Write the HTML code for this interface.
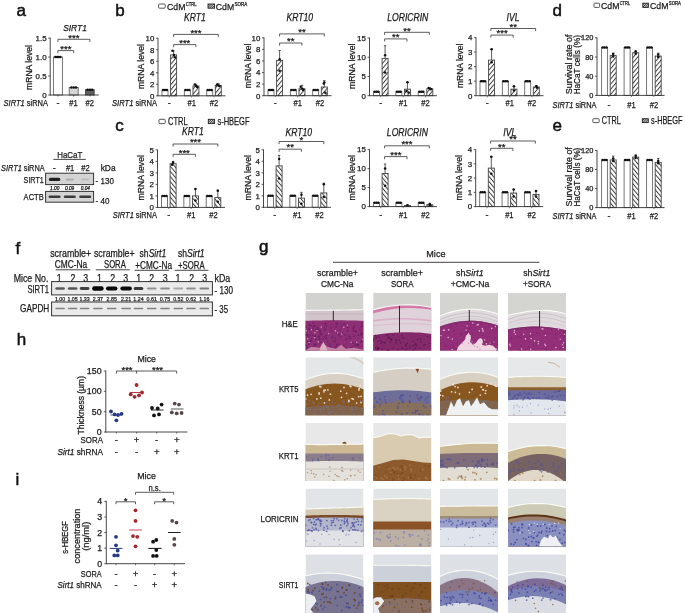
<!DOCTYPE html>
<html><head><meta charset="utf-8"><title>Figure</title>
<style>html,body{margin:0;padding:0;background:#fff;} svg{display:block;} text{font-family:'Liberation Sans', Arial, sans-serif;}</style>
</head><body>
<svg width="685" height="613" viewBox="0 0 685 613">
<rect width="685" height="613" fill="#fff"/>
<defs>
<pattern id="hf" patternUnits="userSpaceOnUse" width="3.3" height="3.3" patternTransform="rotate(40)"><rect width="3.3" height="3.3" fill="#fff"/><line x1="0.5" y1="-1" x2="0.5" y2="5" stroke="#222" stroke-width="0.85"/></pattern>
<pattern id="hb" patternUnits="userSpaceOnUse" width="3.3" height="3.3" patternTransform="rotate(-40)"><rect width="3.3" height="3.3" fill="#fff"/><line x1="0.5" y1="-1" x2="0.5" y2="5" stroke="#222" stroke-width="0.85"/></pattern>
<pattern id="hl" patternUnits="userSpaceOnUse" width="1.6" height="1.6" patternTransform="rotate(45)"><rect width="1.6" height="1.6" fill="#ddd"/><line x1="0.4" y1="-1" x2="0.4" y2="3" stroke="#222" stroke-width="0.7"/></pattern>
</defs>
<text x="16.5" y="15.6" font-size="17" fill="#111" stroke="#111" stroke-width="0.5">a</text>
<text x="115.3" y="15.6" font-size="17" fill="#111" stroke="#111" stroke-width="0.5">b</text>
<text x="115.3" y="131.0" font-size="17" fill="#111" stroke="#111" stroke-width="0.5">c</text>
<text x="552.4" y="15.6" font-size="17" fill="#111" stroke="#111" stroke-width="0.5">d</text>
<text x="552.4" y="131.2" font-size="17" fill="#111" stroke="#111" stroke-width="0.5">e</text>
<text x="15.6" y="253.8" font-size="17" fill="#111" stroke="#111" stroke-width="0.5">f</text>
<text x="259.0" y="251.5" font-size="17" fill="#111" stroke="#111" stroke-width="0.5">g</text>
<text x="16.8" y="345.3" font-size="17" fill="#111" stroke="#111" stroke-width="0.5">h</text>
<text x="15.6" y="485.4" font-size="17" fill="#111" stroke="#111" stroke-width="0.5">i</text>
<rect x="53.40" y="57.07" width="9.00" height="37.93" fill="#fff" stroke="#666" stroke-width="0.9"/>
<circle cx="55.40" cy="57.07" r="1.25" fill="#111"/>
<circle cx="57.10" cy="57.07" r="1.25" fill="#111"/>
<circle cx="58.70" cy="57.07" r="1.25" fill="#111"/>
<circle cx="60.40" cy="57.07" r="1.25" fill="#111"/>
<rect x="69.20" y="87.41" width="9.00" height="7.59" fill="#d6d6d6" stroke="#666" stroke-width="0.9"/>
<circle cx="71.40" cy="87.41" r="1.25" fill="#111"/>
<circle cx="73.70" cy="87.41" r="1.25" fill="#111"/>
<circle cx="76.00" cy="87.41" r="1.25" fill="#111"/>
<rect x="85.50" y="89.69" width="8.70" height="5.31" fill="#5e5e5e" stroke="#444" stroke-width="0.9"/>
<circle cx="87.55" cy="89.69" r="1.25" fill="#111"/>
<circle cx="89.85" cy="89.69" r="1.25" fill="#111"/>
<circle cx="92.15" cy="89.69" r="1.25" fill="#111"/>
<line x1="50.20" y1="37.70" x2="50.20" y2="95.40" stroke="#333" stroke-width="0.9"/>
<line x1="49.80" y1="95.00" x2="98.80" y2="95.00" stroke="#333" stroke-width="0.9"/>
<line x1="48.20" y1="95.00" x2="50.20" y2="95.00" stroke="#333" stroke-width="0.8"/>
<text x="46.60" y="97.84" font-size="7.9" text-anchor="end" fill="#1a1a1a" stroke="#1a1a1a" stroke-width="0.25">0</text>
<line x1="48.20" y1="76.03" x2="50.20" y2="76.03" stroke="#333" stroke-width="0.8"/>
<text x="46.60" y="78.88" font-size="7.9" text-anchor="end" fill="#1a1a1a" stroke="#1a1a1a" stroke-width="0.25">0.5</text>
<line x1="48.20" y1="57.07" x2="50.20" y2="57.07" stroke="#333" stroke-width="0.8"/>
<text x="46.60" y="59.91" font-size="7.9" text-anchor="end" fill="#1a1a1a" stroke="#1a1a1a" stroke-width="0.25">1.0</text>
<line x1="48.20" y1="38.10" x2="50.20" y2="38.10" stroke="#333" stroke-width="0.8"/>
<text x="46.60" y="40.94" font-size="7.9" text-anchor="end" fill="#1a1a1a" stroke="#1a1a1a" stroke-width="0.25">1.5</text>
<polyline points="57.90,41.90 57.90,39.30 89.90,39.30 89.90,41.90" fill="none" stroke="#333" stroke-width="0.8"/>
<text x="73.90" y="40.50" font-size="9.5" text-anchor="middle" fill="#1a1a1a" stroke="#1a1a1a" stroke-width="0.25">***</text>
<polyline points="57.90,53.20 57.90,50.60 73.70,50.60 73.70,53.20" fill="none" stroke="#333" stroke-width="0.8"/>
<text x="65.80" y="51.80" font-size="9.5" text-anchor="middle" fill="#1a1a1a" stroke="#1a1a1a" stroke-width="0.25">***</text>
<line x1="57.90" y1="95.00" x2="57.90" y2="96.60" stroke="#333" stroke-width="0.7"/>
<line x1="73.70" y1="95.00" x2="73.70" y2="96.60" stroke="#333" stroke-width="0.7"/>
<line x1="89.90" y1="95.00" x2="89.90" y2="96.60" stroke="#333" stroke-width="0.7"/>
<text x="75.00" y="31.00" font-size="9.8" text-anchor="middle" font-style="italic" textLength="23.73" lengthAdjust="spacingAndGlyphs" fill="#1a1a1a" stroke="#1a1a1a" stroke-width="0.25">SIRT1</text>
<text x="0" y="0" font-size="9" fill="#1a1a1a" stroke="#1a1a1a" stroke-width="0.25" textLength="45.00" lengthAdjust="spacingAndGlyphs" transform="translate(32.44 90.00) rotate(-90)">mRNA level</text>
<text x="3.60" y="106.44" font-size="9" fill="#1a1a1a" stroke="#1a1a1a" stroke-width="0.25" textLength="44.40" lengthAdjust="spacingAndGlyphs"><tspan font-style="italic">SIRT1</tspan> siRNA</text>
<text x="57.90" y="106.44" font-size="9" text-anchor="middle" fill="#1a1a1a" stroke="#1a1a1a" stroke-width="0.25">-</text>
<text x="73.50" y="106.44" font-size="9" text-anchor="middle" textLength="8.41" lengthAdjust="spacingAndGlyphs" fill="#1a1a1a" stroke="#1a1a1a" stroke-width="0.25">#1</text>
<text x="89.80" y="106.44" font-size="9" text-anchor="middle" textLength="8.41" lengthAdjust="spacingAndGlyphs" fill="#1a1a1a" stroke="#1a1a1a" stroke-width="0.25">#2</text>
<rect x="162.00" y="90.04" width="6.00" height="5.76" fill="#fff" stroke="#666" stroke-width="0.9"/>
<circle cx="163.10" cy="90.04" r="1.25" fill="#111"/>
<circle cx="165.00" cy="90.04" r="1.25" fill="#111"/>
<circle cx="166.90" cy="90.04" r="1.25" fill="#111"/>
<line x1="173.60" y1="54.90" x2="173.60" y2="50.87" stroke="#333" stroke-width="0.8"/>
<line x1="172.40" y1="50.87" x2="174.80" y2="50.87" stroke="#333" stroke-width="0.8"/>
<rect x="170.60" y="54.90" width="6.00" height="40.90" fill="url(#hf)" stroke="#444" stroke-width="0.9"/>
<circle cx="172.40" cy="50.81" r="1.25" fill="#111"/>
<circle cx="174.80" cy="57.36" r="1.25" fill="#111"/>
<circle cx="173.90" cy="54.90" r="1.25" fill="#111"/>
<rect x="184.35" y="90.04" width="6.00" height="5.76" fill="#fff" stroke="#666" stroke-width="0.9"/>
<circle cx="185.45" cy="90.04" r="1.25" fill="#111"/>
<circle cx="187.35" cy="90.04" r="1.25" fill="#111"/>
<circle cx="189.25" cy="90.04" r="1.25" fill="#111"/>
<line x1="195.95" y1="86.01" x2="195.95" y2="84.28" stroke="#333" stroke-width="0.8"/>
<line x1="194.75" y1="84.28" x2="197.15" y2="84.28" stroke="#333" stroke-width="0.8"/>
<rect x="192.95" y="86.01" width="6.00" height="9.79" fill="url(#hf)" stroke="#444" stroke-width="0.9"/>
<circle cx="194.75" cy="84.54" r="1.25" fill="#111"/>
<circle cx="197.15" cy="86.89" r="1.25" fill="#111"/>
<circle cx="196.25" cy="86.01" r="1.25" fill="#111"/>
<rect x="206.70" y="90.04" width="6.00" height="5.76" fill="#fff" stroke="#666" stroke-width="0.9"/>
<circle cx="207.80" cy="90.04" r="1.25" fill="#111"/>
<circle cx="209.70" cy="90.04" r="1.25" fill="#111"/>
<circle cx="211.60" cy="90.04" r="1.25" fill="#111"/>
<line x1="218.30" y1="85.43" x2="218.30" y2="83.70" stroke="#333" stroke-width="0.8"/>
<line x1="217.10" y1="83.70" x2="219.50" y2="83.70" stroke="#333" stroke-width="0.8"/>
<rect x="215.30" y="85.43" width="6.00" height="10.37" fill="url(#hf)" stroke="#444" stroke-width="0.9"/>
<circle cx="217.10" cy="84.40" r="1.25" fill="#111"/>
<circle cx="219.50" cy="86.05" r="1.25" fill="#111"/>
<circle cx="218.60" cy="85.43" r="1.25" fill="#111"/>
<line x1="158.00" y1="37.80" x2="158.00" y2="96.20" stroke="#333" stroke-width="0.9"/>
<line x1="157.60" y1="95.80" x2="225.50" y2="95.80" stroke="#333" stroke-width="0.9"/>
<line x1="156.00" y1="95.80" x2="158.00" y2="95.80" stroke="#333" stroke-width="0.8"/>
<text x="154.40" y="98.64" font-size="7.9" text-anchor="end" fill="#1a1a1a" stroke="#1a1a1a" stroke-width="0.25">0</text>
<line x1="156.00" y1="84.28" x2="158.00" y2="84.28" stroke="#333" stroke-width="0.8"/>
<text x="154.40" y="87.12" font-size="7.9" text-anchor="end" fill="#1a1a1a" stroke="#1a1a1a" stroke-width="0.25">2</text>
<line x1="156.00" y1="72.76" x2="158.00" y2="72.76" stroke="#333" stroke-width="0.8"/>
<text x="154.40" y="75.60" font-size="7.9" text-anchor="end" fill="#1a1a1a" stroke="#1a1a1a" stroke-width="0.25">4</text>
<line x1="156.00" y1="61.24" x2="158.00" y2="61.24" stroke="#333" stroke-width="0.8"/>
<text x="154.40" y="64.08" font-size="7.9" text-anchor="end" fill="#1a1a1a" stroke="#1a1a1a" stroke-width="0.25">6</text>
<line x1="156.00" y1="49.72" x2="158.00" y2="49.72" stroke="#333" stroke-width="0.8"/>
<text x="154.40" y="52.56" font-size="7.9" text-anchor="end" fill="#1a1a1a" stroke="#1a1a1a" stroke-width="0.25">8</text>
<line x1="156.00" y1="38.20" x2="158.00" y2="38.20" stroke="#333" stroke-width="0.8"/>
<text x="154.40" y="41.04" font-size="7.9" text-anchor="end" fill="#1a1a1a" stroke="#1a1a1a" stroke-width="0.25">10</text>
<polyline points="173.60,37.00 173.60,34.40 218.30,34.40 218.30,37.00" fill="none" stroke="#333" stroke-width="0.8"/>
<text x="195.95" y="35.60" font-size="9.5" text-anchor="middle" fill="#1a1a1a" stroke="#1a1a1a" stroke-width="0.25">***</text>
<polyline points="173.60,47.20 173.60,44.60 195.90,44.60 195.90,47.20" fill="none" stroke="#333" stroke-width="0.8"/>
<text x="184.75" y="45.80" font-size="9.5" text-anchor="middle" fill="#1a1a1a" stroke="#1a1a1a" stroke-width="0.25">***</text>
<line x1="169.30" y1="95.80" x2="169.30" y2="97.40" stroke="#333" stroke-width="0.7"/>
<line x1="191.65" y1="95.80" x2="191.65" y2="97.40" stroke="#333" stroke-width="0.7"/>
<line x1="214.00" y1="95.80" x2="214.00" y2="97.40" stroke="#333" stroke-width="0.7"/>
<text x="195.00" y="20.90" font-size="10.0" text-anchor="middle" font-style="italic" textLength="21.83" lengthAdjust="spacingAndGlyphs" fill="#1a1a1a" stroke="#1a1a1a" stroke-width="0.25">KRT1</text>
<text x="0" y="0" font-size="9" fill="#1a1a1a" stroke="#1a1a1a" stroke-width="0.25" textLength="45.10" lengthAdjust="spacingAndGlyphs" transform="translate(143.54 89.10) rotate(-90)">mRNA level</text>
<text x="169.30" y="106.34" font-size="9" text-anchor="middle" fill="#1a1a1a" stroke="#1a1a1a" stroke-width="0.25">-</text>
<text x="191.65" y="106.34" font-size="9" text-anchor="middle" textLength="8.41" lengthAdjust="spacingAndGlyphs" fill="#1a1a1a" stroke="#1a1a1a" stroke-width="0.25">#1</text>
<text x="214.00" y="106.34" font-size="9" text-anchor="middle" textLength="8.41" lengthAdjust="spacingAndGlyphs" fill="#1a1a1a" stroke="#1a1a1a" stroke-width="0.25">#2</text>
<rect x="268.00" y="89.91" width="6.00" height="5.79" fill="#fff" stroke="#666" stroke-width="0.9"/>
<circle cx="269.10" cy="89.91" r="1.25" fill="#111"/>
<circle cx="271.00" cy="89.91" r="1.25" fill="#111"/>
<circle cx="272.90" cy="89.91" r="1.25" fill="#111"/>
<line x1="279.60" y1="60.38" x2="279.60" y2="50.54" stroke="#333" stroke-width="0.8"/>
<line x1="278.40" y1="50.54" x2="280.80" y2="50.54" stroke="#333" stroke-width="0.8"/>
<rect x="276.60" y="60.38" width="6.00" height="35.32" fill="url(#hf)" stroke="#444" stroke-width="0.9"/>
<circle cx="279.60" cy="59.22" r="1.25" fill="#111"/>
<circle cx="279.60" cy="70.80" r="1.25" fill="#111"/>
<rect x="290.35" y="89.91" width="6.00" height="5.79" fill="#fff" stroke="#666" stroke-width="0.9"/>
<circle cx="291.45" cy="89.91" r="1.25" fill="#111"/>
<circle cx="293.35" cy="89.91" r="1.25" fill="#111"/>
<circle cx="295.25" cy="89.91" r="1.25" fill="#111"/>
<line x1="301.95" y1="88.75" x2="301.95" y2="85.28" stroke="#333" stroke-width="0.8"/>
<line x1="300.75" y1="85.28" x2="303.15" y2="85.28" stroke="#333" stroke-width="0.8"/>
<rect x="298.95" y="88.75" width="6.00" height="6.95" fill="url(#hf)" stroke="#444" stroke-width="0.9"/>
<circle cx="300.75" cy="86.67" r="1.25" fill="#111"/>
<circle cx="303.15" cy="90.00" r="1.25" fill="#111"/>
<circle cx="302.25" cy="88.75" r="1.25" fill="#111"/>
<rect x="312.70" y="89.91" width="6.00" height="5.79" fill="#fff" stroke="#666" stroke-width="0.9"/>
<circle cx="313.80" cy="89.91" r="1.25" fill="#111"/>
<circle cx="315.70" cy="89.91" r="1.25" fill="#111"/>
<circle cx="317.60" cy="89.91" r="1.25" fill="#111"/>
<line x1="324.30" y1="87.02" x2="324.30" y2="80.65" stroke="#333" stroke-width="0.8"/>
<line x1="323.10" y1="80.65" x2="325.50" y2="80.65" stroke="#333" stroke-width="0.8"/>
<rect x="321.30" y="87.02" width="6.00" height="8.69" fill="url(#hf)" stroke="#444" stroke-width="0.9"/>
<circle cx="324.30" cy="82.38" r="1.25" fill="#111"/>
<circle cx="323.80" cy="83.54" r="1.25" fill="#111"/>
<circle cx="325.30" cy="92.81" r="1.25" fill="#111"/>
<line x1="264.00" y1="37.40" x2="264.00" y2="96.10" stroke="#333" stroke-width="0.9"/>
<line x1="263.60" y1="95.70" x2="331.50" y2="95.70" stroke="#333" stroke-width="0.9"/>
<line x1="262.00" y1="95.70" x2="264.00" y2="95.70" stroke="#333" stroke-width="0.8"/>
<text x="260.40" y="98.54" font-size="7.9" text-anchor="end" fill="#1a1a1a" stroke="#1a1a1a" stroke-width="0.25">0</text>
<line x1="262.00" y1="84.12" x2="264.00" y2="84.12" stroke="#333" stroke-width="0.8"/>
<text x="260.40" y="86.96" font-size="7.9" text-anchor="end" fill="#1a1a1a" stroke="#1a1a1a" stroke-width="0.25">2</text>
<line x1="262.00" y1="72.54" x2="264.00" y2="72.54" stroke="#333" stroke-width="0.8"/>
<text x="260.40" y="75.38" font-size="7.9" text-anchor="end" fill="#1a1a1a" stroke="#1a1a1a" stroke-width="0.25">4</text>
<line x1="262.00" y1="60.96" x2="264.00" y2="60.96" stroke="#333" stroke-width="0.8"/>
<text x="260.40" y="63.80" font-size="7.9" text-anchor="end" fill="#1a1a1a" stroke="#1a1a1a" stroke-width="0.25">6</text>
<line x1="262.00" y1="49.38" x2="264.00" y2="49.38" stroke="#333" stroke-width="0.8"/>
<text x="260.40" y="52.22" font-size="7.9" text-anchor="end" fill="#1a1a1a" stroke="#1a1a1a" stroke-width="0.25">8</text>
<line x1="262.00" y1="37.80" x2="264.00" y2="37.80" stroke="#333" stroke-width="0.8"/>
<text x="260.40" y="40.64" font-size="7.9" text-anchor="end" fill="#1a1a1a" stroke="#1a1a1a" stroke-width="0.25">10</text>
<polyline points="279.60,36.50 279.60,33.90 324.30,33.90 324.30,36.50" fill="none" stroke="#333" stroke-width="0.8"/>
<text x="301.95" y="35.10" font-size="9.5" text-anchor="middle" fill="#1a1a1a" stroke="#1a1a1a" stroke-width="0.25">**</text>
<polyline points="279.60,45.60 279.60,43.00 301.90,43.00 301.90,45.60" fill="none" stroke="#333" stroke-width="0.8"/>
<text x="290.75" y="44.20" font-size="9.5" text-anchor="middle" fill="#1a1a1a" stroke="#1a1a1a" stroke-width="0.25">**</text>
<line x1="275.30" y1="95.70" x2="275.30" y2="97.30" stroke="#333" stroke-width="0.7"/>
<line x1="297.65" y1="95.70" x2="297.65" y2="97.30" stroke="#333" stroke-width="0.7"/>
<line x1="320.00" y1="95.70" x2="320.00" y2="97.30" stroke="#333" stroke-width="0.7"/>
<text x="299.70" y="20.90" font-size="10.0" text-anchor="middle" font-style="italic" textLength="26.61" lengthAdjust="spacingAndGlyphs" fill="#1a1a1a" stroke="#1a1a1a" stroke-width="0.25">KRT10</text>
<text x="0" y="0" font-size="9" fill="#1a1a1a" stroke="#1a1a1a" stroke-width="0.25" textLength="44.60" lengthAdjust="spacingAndGlyphs" transform="translate(251.44 88.20) rotate(-90)">mRNA level</text>
<text x="275.30" y="106.34" font-size="9" text-anchor="middle" fill="#1a1a1a" stroke="#1a1a1a" stroke-width="0.25">-</text>
<text x="297.65" y="106.34" font-size="9" text-anchor="middle" textLength="8.41" lengthAdjust="spacingAndGlyphs" fill="#1a1a1a" stroke="#1a1a1a" stroke-width="0.25">#1</text>
<text x="320.00" y="106.34" font-size="9" text-anchor="middle" textLength="8.41" lengthAdjust="spacingAndGlyphs" fill="#1a1a1a" stroke="#1a1a1a" stroke-width="0.25">#2</text>
<rect x="373.50" y="91.85" width="6.00" height="3.85" fill="#fff" stroke="#666" stroke-width="0.9"/>
<circle cx="374.60" cy="91.85" r="1.25" fill="#111"/>
<circle cx="376.50" cy="91.85" r="1.25" fill="#111"/>
<circle cx="378.40" cy="91.85" r="1.25" fill="#111"/>
<line x1="385.10" y1="58.39" x2="385.10" y2="45.69" stroke="#333" stroke-width="0.8"/>
<line x1="383.90" y1="45.69" x2="386.30" y2="45.69" stroke="#333" stroke-width="0.8"/>
<rect x="382.10" y="58.39" width="6.00" height="37.31" fill="url(#hf)" stroke="#444" stroke-width="0.9"/>
<circle cx="385.10" cy="55.31" r="1.25" fill="#111"/>
<circle cx="385.10" cy="72.62" r="1.25" fill="#111"/>
<rect x="395.85" y="91.85" width="6.00" height="3.85" fill="#fff" stroke="#666" stroke-width="0.9"/>
<circle cx="396.95" cy="91.85" r="1.25" fill="#111"/>
<circle cx="398.85" cy="91.85" r="1.25" fill="#111"/>
<circle cx="400.75" cy="91.85" r="1.25" fill="#111"/>
<line x1="407.45" y1="89.16" x2="407.45" y2="82.24" stroke="#333" stroke-width="0.8"/>
<line x1="406.25" y1="82.24" x2="408.65" y2="82.24" stroke="#333" stroke-width="0.8"/>
<rect x="404.45" y="89.16" width="6.00" height="6.54" fill="url(#hf)" stroke="#444" stroke-width="0.9"/>
<circle cx="407.45" cy="82.24" r="1.25" fill="#111"/>
<circle cx="406.45" cy="91.08" r="1.25" fill="#111"/>
<circle cx="408.45" cy="92.62" r="1.25" fill="#111"/>
<rect x="418.20" y="91.85" width="6.00" height="3.85" fill="#fff" stroke="#666" stroke-width="0.9"/>
<circle cx="419.30" cy="91.85" r="1.25" fill="#111"/>
<circle cx="421.20" cy="91.85" r="1.25" fill="#111"/>
<circle cx="423.10" cy="91.85" r="1.25" fill="#111"/>
<line x1="429.80" y1="88.78" x2="429.80" y2="88.01" stroke="#333" stroke-width="0.8"/>
<line x1="428.60" y1="88.01" x2="431.00" y2="88.01" stroke="#333" stroke-width="0.8"/>
<rect x="426.80" y="88.78" width="6.00" height="6.92" fill="url(#hf)" stroke="#444" stroke-width="0.9"/>
<circle cx="428.60" cy="88.08" r="1.25" fill="#111"/>
<circle cx="431.00" cy="89.19" r="1.25" fill="#111"/>
<circle cx="430.10" cy="88.78" r="1.25" fill="#111"/>
<line x1="369.50" y1="37.60" x2="369.50" y2="96.10" stroke="#333" stroke-width="0.9"/>
<line x1="369.10" y1="95.70" x2="437.00" y2="95.70" stroke="#333" stroke-width="0.9"/>
<line x1="367.50" y1="95.70" x2="369.50" y2="95.70" stroke="#333" stroke-width="0.8"/>
<text x="365.90" y="98.54" font-size="7.9" text-anchor="end" fill="#1a1a1a" stroke="#1a1a1a" stroke-width="0.25">0</text>
<line x1="367.50" y1="76.47" x2="369.50" y2="76.47" stroke="#333" stroke-width="0.8"/>
<text x="365.90" y="79.31" font-size="7.9" text-anchor="end" fill="#1a1a1a" stroke="#1a1a1a" stroke-width="0.25">5</text>
<line x1="367.50" y1="57.23" x2="369.50" y2="57.23" stroke="#333" stroke-width="0.8"/>
<text x="365.90" y="60.08" font-size="7.9" text-anchor="end" fill="#1a1a1a" stroke="#1a1a1a" stroke-width="0.25">10</text>
<line x1="367.50" y1="38.00" x2="369.50" y2="38.00" stroke="#333" stroke-width="0.8"/>
<text x="365.90" y="40.84" font-size="7.9" text-anchor="end" fill="#1a1a1a" stroke="#1a1a1a" stroke-width="0.25">15</text>
<polyline points="384.60,34.90 384.60,32.30 429.30,32.30 429.30,34.90" fill="none" stroke="#333" stroke-width="0.8"/>
<text x="406.95" y="33.50" font-size="9.5" text-anchor="middle" fill="#1a1a1a" stroke="#1a1a1a" stroke-width="0.25">**</text>
<polyline points="384.60,41.50 384.60,38.90 407.00,38.90 407.00,41.50" fill="none" stroke="#333" stroke-width="0.8"/>
<text x="395.80" y="40.10" font-size="9.5" text-anchor="middle" fill="#1a1a1a" stroke="#1a1a1a" stroke-width="0.25">**</text>
<line x1="380.80" y1="95.70" x2="380.80" y2="97.30" stroke="#333" stroke-width="0.7"/>
<line x1="403.15" y1="95.70" x2="403.15" y2="97.30" stroke="#333" stroke-width="0.7"/>
<line x1="425.50" y1="95.70" x2="425.50" y2="97.30" stroke="#333" stroke-width="0.7"/>
<text x="407.80" y="20.80" font-size="10.0" text-anchor="middle" font-style="italic" textLength="41.09" lengthAdjust="spacingAndGlyphs" fill="#1a1a1a" stroke="#1a1a1a" stroke-width="0.25">LORICRIN</text>
<text x="0" y="0" font-size="9" fill="#1a1a1a" stroke="#1a1a1a" stroke-width="0.25" textLength="45.40" lengthAdjust="spacingAndGlyphs" transform="translate(354.74 89.00) rotate(-90)">mRNA level</text>
<text x="380.80" y="106.34" font-size="9" text-anchor="middle" fill="#1a1a1a" stroke="#1a1a1a" stroke-width="0.25">-</text>
<text x="403.15" y="106.34" font-size="9" text-anchor="middle" textLength="8.41" lengthAdjust="spacingAndGlyphs" fill="#1a1a1a" stroke="#1a1a1a" stroke-width="0.25">#1</text>
<text x="425.50" y="106.34" font-size="9" text-anchor="middle" textLength="8.41" lengthAdjust="spacingAndGlyphs" fill="#1a1a1a" stroke="#1a1a1a" stroke-width="0.25">#2</text>
<rect x="480.00" y="81.17" width="6.00" height="14.53" fill="#fff" stroke="#666" stroke-width="0.9"/>
<circle cx="481.10" cy="81.17" r="1.25" fill="#111"/>
<circle cx="483.00" cy="81.17" r="1.25" fill="#111"/>
<circle cx="484.90" cy="81.17" r="1.25" fill="#111"/>
<line x1="491.60" y1="60.11" x2="491.60" y2="49.22" stroke="#333" stroke-width="0.8"/>
<line x1="490.40" y1="49.22" x2="492.80" y2="49.22" stroke="#333" stroke-width="0.8"/>
<rect x="488.60" y="60.11" width="6.00" height="35.59" fill="url(#hf)" stroke="#444" stroke-width="0.9"/>
<circle cx="491.60" cy="49.22" r="1.25" fill="#111"/>
<circle cx="491.60" cy="62.29" r="1.25" fill="#111"/>
<rect x="502.35" y="81.17" width="6.00" height="14.53" fill="#fff" stroke="#666" stroke-width="0.9"/>
<circle cx="503.45" cy="81.17" r="1.25" fill="#111"/>
<circle cx="505.35" cy="81.17" r="1.25" fill="#111"/>
<circle cx="507.25" cy="81.17" r="1.25" fill="#111"/>
<line x1="513.95" y1="89.16" x2="513.95" y2="86.26" stroke="#333" stroke-width="0.8"/>
<line x1="512.75" y1="86.26" x2="515.15" y2="86.26" stroke="#333" stroke-width="0.8"/>
<rect x="510.95" y="89.16" width="6.00" height="6.54" fill="url(#hf)" stroke="#444" stroke-width="0.9"/>
<circle cx="513.95" cy="86.26" r="1.25" fill="#111"/>
<circle cx="513.95" cy="90.62" r="1.25" fill="#111"/>
<rect x="524.70" y="81.17" width="6.00" height="14.53" fill="#fff" stroke="#666" stroke-width="0.9"/>
<circle cx="525.80" cy="81.17" r="1.25" fill="#111"/>
<circle cx="527.70" cy="81.17" r="1.25" fill="#111"/>
<circle cx="529.60" cy="81.17" r="1.25" fill="#111"/>
<line x1="536.30" y1="86.98" x2="536.30" y2="85.53" stroke="#333" stroke-width="0.8"/>
<line x1="535.10" y1="85.53" x2="537.50" y2="85.53" stroke="#333" stroke-width="0.8"/>
<rect x="533.30" y="86.98" width="6.00" height="8.72" fill="url(#hf)" stroke="#444" stroke-width="0.9"/>
<circle cx="536.30" cy="86.26" r="1.25" fill="#111"/>
<circle cx="537.10" cy="87.71" r="1.25" fill="#111"/>
<line x1="476.00" y1="37.20" x2="476.00" y2="96.10" stroke="#333" stroke-width="0.9"/>
<line x1="475.60" y1="95.70" x2="543.50" y2="95.70" stroke="#333" stroke-width="0.9"/>
<line x1="474.00" y1="95.70" x2="476.00" y2="95.70" stroke="#333" stroke-width="0.8"/>
<text x="472.40" y="98.54" font-size="7.9" text-anchor="end" fill="#1a1a1a" stroke="#1a1a1a" stroke-width="0.25">0</text>
<line x1="474.00" y1="81.17" x2="476.00" y2="81.17" stroke="#333" stroke-width="0.8"/>
<text x="472.40" y="84.02" font-size="7.9" text-anchor="end" fill="#1a1a1a" stroke="#1a1a1a" stroke-width="0.25">1</text>
<line x1="474.00" y1="66.65" x2="476.00" y2="66.65" stroke="#333" stroke-width="0.8"/>
<text x="472.40" y="69.49" font-size="7.9" text-anchor="end" fill="#1a1a1a" stroke="#1a1a1a" stroke-width="0.25">2</text>
<line x1="474.00" y1="52.12" x2="476.00" y2="52.12" stroke="#333" stroke-width="0.8"/>
<text x="472.40" y="54.97" font-size="7.9" text-anchor="end" fill="#1a1a1a" stroke="#1a1a1a" stroke-width="0.25">3</text>
<line x1="474.00" y1="37.60" x2="476.00" y2="37.60" stroke="#333" stroke-width="0.8"/>
<text x="472.40" y="40.44" font-size="7.9" text-anchor="end" fill="#1a1a1a" stroke="#1a1a1a" stroke-width="0.25">4</text>
<polyline points="490.90,31.10 490.90,28.50 535.60,28.50 535.60,31.10" fill="none" stroke="#333" stroke-width="0.8"/>
<text x="513.25" y="29.70" font-size="9.5" text-anchor="middle" fill="#1a1a1a" stroke="#1a1a1a" stroke-width="0.25">**</text>
<polyline points="490.90,37.70 490.90,35.10 513.20,35.10 513.20,37.70" fill="none" stroke="#333" stroke-width="0.8"/>
<text x="502.05" y="36.30" font-size="9.5" text-anchor="middle" fill="#1a1a1a" stroke="#1a1a1a" stroke-width="0.25">***</text>
<line x1="487.30" y1="95.70" x2="487.30" y2="97.30" stroke="#333" stroke-width="0.7"/>
<line x1="509.65" y1="95.70" x2="509.65" y2="97.30" stroke="#333" stroke-width="0.7"/>
<line x1="532.00" y1="95.70" x2="532.00" y2="97.30" stroke="#333" stroke-width="0.7"/>
<text x="513.00" y="20.60" font-size="10.0" text-anchor="middle" font-style="italic" textLength="12.91" lengthAdjust="spacingAndGlyphs" fill="#1a1a1a" stroke="#1a1a1a" stroke-width="0.25">IVL</text>
<text x="0" y="0" font-size="9" fill="#1a1a1a" stroke="#1a1a1a" stroke-width="0.25" textLength="44.40" lengthAdjust="spacingAndGlyphs" transform="translate(462.84 88.00) rotate(-90)">mRNA level</text>
<text x="487.30" y="106.34" font-size="9" text-anchor="middle" fill="#1a1a1a" stroke="#1a1a1a" stroke-width="0.25">-</text>
<text x="509.65" y="106.34" font-size="9" text-anchor="middle" textLength="8.41" lengthAdjust="spacingAndGlyphs" fill="#1a1a1a" stroke="#1a1a1a" stroke-width="0.25">#1</text>
<text x="532.00" y="106.34" font-size="9" text-anchor="middle" textLength="8.41" lengthAdjust="spacingAndGlyphs" fill="#1a1a1a" stroke="#1a1a1a" stroke-width="0.25">#2</text>
<text x="112.00" y="106.34" font-size="9" fill="#1a1a1a" stroke="#1a1a1a" stroke-width="0.25" textLength="45.00" lengthAdjust="spacingAndGlyphs"><tspan font-style="italic">SIRT1</tspan> siRNA</text>
<rect x="161.50" y="195.90" width="6.00" height="11.50" fill="#fff" stroke="#666" stroke-width="0.9"/>
<circle cx="162.60" cy="195.90" r="1.25" fill="#111"/>
<circle cx="164.50" cy="195.90" r="1.25" fill="#111"/>
<circle cx="166.40" cy="195.90" r="1.25" fill="#111"/>
<line x1="173.10" y1="163.70" x2="173.10" y2="161.40" stroke="#333" stroke-width="0.8"/>
<line x1="171.90" y1="161.40" x2="174.30" y2="161.40" stroke="#333" stroke-width="0.8"/>
<rect x="170.10" y="163.70" width="6.00" height="43.70" fill="url(#hb)" stroke="#444" stroke-width="0.9"/>
<circle cx="173.10" cy="162.55" r="1.25" fill="#111"/>
<circle cx="172.10" cy="164.85" r="1.25" fill="#111"/>
<rect x="183.85" y="195.90" width="6.00" height="11.50" fill="#fff" stroke="#666" stroke-width="0.9"/>
<circle cx="184.95" cy="195.90" r="1.25" fill="#111"/>
<circle cx="186.85" cy="195.90" r="1.25" fill="#111"/>
<circle cx="188.75" cy="195.90" r="1.25" fill="#111"/>
<line x1="195.45" y1="195.90" x2="195.45" y2="189.00" stroke="#333" stroke-width="0.8"/>
<line x1="194.25" y1="189.00" x2="196.65" y2="189.00" stroke="#333" stroke-width="0.8"/>
<rect x="192.45" y="195.90" width="6.00" height="11.50" fill="url(#hb)" stroke="#444" stroke-width="0.9"/>
<circle cx="195.45" cy="189.00" r="1.25" fill="#111"/>
<circle cx="195.45" cy="200.50" r="1.25" fill="#111"/>
<rect x="206.20" y="195.90" width="6.00" height="11.50" fill="#fff" stroke="#666" stroke-width="0.9"/>
<circle cx="207.30" cy="195.90" r="1.25" fill="#111"/>
<circle cx="209.20" cy="195.90" r="1.25" fill="#111"/>
<circle cx="211.10" cy="195.90" r="1.25" fill="#111"/>
<line x1="217.80" y1="197.62" x2="217.80" y2="190.15" stroke="#333" stroke-width="0.8"/>
<line x1="216.60" y1="190.15" x2="219.00" y2="190.15" stroke="#333" stroke-width="0.8"/>
<rect x="214.80" y="197.62" width="6.00" height="9.78" fill="url(#hb)" stroke="#444" stroke-width="0.9"/>
<circle cx="217.80" cy="190.72" r="1.25" fill="#111"/>
<circle cx="217.80" cy="201.65" r="1.25" fill="#111"/>
<line x1="157.50" y1="149.50" x2="157.50" y2="207.80" stroke="#333" stroke-width="0.9"/>
<line x1="157.10" y1="207.40" x2="225.00" y2="207.40" stroke="#333" stroke-width="0.9"/>
<line x1="155.50" y1="207.40" x2="157.50" y2="207.40" stroke="#333" stroke-width="0.8"/>
<text x="153.90" y="210.24" font-size="7.9" text-anchor="end" fill="#1a1a1a" stroke="#1a1a1a" stroke-width="0.25">0</text>
<line x1="155.50" y1="195.90" x2="157.50" y2="195.90" stroke="#333" stroke-width="0.8"/>
<text x="153.90" y="198.74" font-size="7.9" text-anchor="end" fill="#1a1a1a" stroke="#1a1a1a" stroke-width="0.25">1</text>
<line x1="155.50" y1="184.40" x2="157.50" y2="184.40" stroke="#333" stroke-width="0.8"/>
<text x="153.90" y="187.24" font-size="7.9" text-anchor="end" fill="#1a1a1a" stroke="#1a1a1a" stroke-width="0.25">2</text>
<line x1="155.50" y1="172.90" x2="157.50" y2="172.90" stroke="#333" stroke-width="0.8"/>
<text x="153.90" y="175.74" font-size="7.9" text-anchor="end" fill="#1a1a1a" stroke="#1a1a1a" stroke-width="0.25">3</text>
<line x1="155.50" y1="161.40" x2="157.50" y2="161.40" stroke="#333" stroke-width="0.8"/>
<text x="153.90" y="164.24" font-size="7.9" text-anchor="end" fill="#1a1a1a" stroke="#1a1a1a" stroke-width="0.25">4</text>
<line x1="155.50" y1="149.90" x2="157.50" y2="149.90" stroke="#333" stroke-width="0.8"/>
<text x="153.90" y="152.74" font-size="7.9" text-anchor="end" fill="#1a1a1a" stroke="#1a1a1a" stroke-width="0.25">5</text>
<polyline points="173.10,146.60 173.10,144.00 217.80,144.00 217.80,146.60" fill="none" stroke="#333" stroke-width="0.8"/>
<text x="195.45" y="145.20" font-size="9.5" text-anchor="middle" fill="#1a1a1a" stroke="#1a1a1a" stroke-width="0.25">***</text>
<polyline points="173.10,156.90 173.10,154.30 195.40,154.30 195.40,156.90" fill="none" stroke="#333" stroke-width="0.8"/>
<text x="184.25" y="155.50" font-size="9.5" text-anchor="middle" fill="#1a1a1a" stroke="#1a1a1a" stroke-width="0.25">***</text>
<line x1="168.80" y1="207.40" x2="168.80" y2="209.00" stroke="#333" stroke-width="0.7"/>
<line x1="191.15" y1="207.40" x2="191.15" y2="209.00" stroke="#333" stroke-width="0.7"/>
<line x1="213.50" y1="207.40" x2="213.50" y2="209.00" stroke="#333" stroke-width="0.7"/>
<text x="193.00" y="135.30" font-size="10.0" text-anchor="middle" font-style="italic" textLength="21.83" lengthAdjust="spacingAndGlyphs" fill="#1a1a1a" stroke="#1a1a1a" stroke-width="0.25">KRT1</text>
<text x="0" y="0" font-size="9" fill="#1a1a1a" stroke="#1a1a1a" stroke-width="0.25" textLength="45.50" lengthAdjust="spacingAndGlyphs" transform="translate(143.84 200.50) rotate(-90)">mRNA level</text>
<text x="168.80" y="217.84" font-size="9" text-anchor="middle" fill="#1a1a1a" stroke="#1a1a1a" stroke-width="0.25">-</text>
<text x="191.15" y="217.84" font-size="9" text-anchor="middle" textLength="8.41" lengthAdjust="spacingAndGlyphs" fill="#1a1a1a" stroke="#1a1a1a" stroke-width="0.25">#1</text>
<text x="213.50" y="217.84" font-size="9" text-anchor="middle" textLength="8.41" lengthAdjust="spacingAndGlyphs" fill="#1a1a1a" stroke="#1a1a1a" stroke-width="0.25">#2</text>
<rect x="267.50" y="195.80" width="6.00" height="11.50" fill="#fff" stroke="#666" stroke-width="0.9"/>
<circle cx="268.60" cy="195.80" r="1.25" fill="#111"/>
<circle cx="270.50" cy="195.80" r="1.25" fill="#111"/>
<circle cx="272.40" cy="195.80" r="1.25" fill="#111"/>
<line x1="279.10" y1="165.90" x2="279.10" y2="155.55" stroke="#333" stroke-width="0.8"/>
<line x1="277.90" y1="155.55" x2="280.30" y2="155.55" stroke="#333" stroke-width="0.8"/>
<rect x="276.10" y="165.90" width="6.00" height="41.40" fill="url(#hb)" stroke="#444" stroke-width="0.9"/>
<circle cx="279.10" cy="159.00" r="1.25" fill="#111"/>
<circle cx="279.10" cy="178.55" r="1.25" fill="#111"/>
<rect x="289.85" y="195.80" width="6.00" height="11.50" fill="#fff" stroke="#666" stroke-width="0.9"/>
<circle cx="290.95" cy="195.80" r="1.25" fill="#111"/>
<circle cx="292.85" cy="195.80" r="1.25" fill="#111"/>
<circle cx="294.75" cy="195.80" r="1.25" fill="#111"/>
<line x1="301.45" y1="198.10" x2="301.45" y2="192.35" stroke="#333" stroke-width="0.8"/>
<line x1="300.25" y1="192.35" x2="302.65" y2="192.35" stroke="#333" stroke-width="0.8"/>
<rect x="298.45" y="198.10" width="6.00" height="9.20" fill="url(#hb)" stroke="#444" stroke-width="0.9"/>
<circle cx="301.45" cy="194.65" r="1.25" fill="#111"/>
<circle cx="301.45" cy="203.85" r="1.25" fill="#111"/>
<rect x="312.20" y="195.80" width="6.00" height="11.50" fill="#fff" stroke="#666" stroke-width="0.9"/>
<circle cx="313.30" cy="195.80" r="1.25" fill="#111"/>
<circle cx="315.20" cy="195.80" r="1.25" fill="#111"/>
<circle cx="317.10" cy="195.80" r="1.25" fill="#111"/>
<line x1="323.80" y1="192.93" x2="323.80" y2="183.15" stroke="#333" stroke-width="0.8"/>
<line x1="322.60" y1="183.15" x2="325.00" y2="183.15" stroke="#333" stroke-width="0.8"/>
<rect x="320.80" y="192.93" width="6.00" height="14.38" fill="url(#hb)" stroke="#444" stroke-width="0.9"/>
<circle cx="323.80" cy="184.30" r="1.25" fill="#111"/>
<circle cx="323.80" cy="196.95" r="1.25" fill="#111"/>
<line x1="263.50" y1="149.40" x2="263.50" y2="207.70" stroke="#333" stroke-width="0.9"/>
<line x1="263.10" y1="207.30" x2="331.00" y2="207.30" stroke="#333" stroke-width="0.9"/>
<line x1="261.50" y1="207.30" x2="263.50" y2="207.30" stroke="#333" stroke-width="0.8"/>
<text x="259.90" y="210.14" font-size="7.9" text-anchor="end" fill="#1a1a1a" stroke="#1a1a1a" stroke-width="0.25">0</text>
<line x1="261.50" y1="195.80" x2="263.50" y2="195.80" stroke="#333" stroke-width="0.8"/>
<text x="259.90" y="198.64" font-size="7.9" text-anchor="end" fill="#1a1a1a" stroke="#1a1a1a" stroke-width="0.25">1</text>
<line x1="261.50" y1="184.30" x2="263.50" y2="184.30" stroke="#333" stroke-width="0.8"/>
<text x="259.90" y="187.14" font-size="7.9" text-anchor="end" fill="#1a1a1a" stroke="#1a1a1a" stroke-width="0.25">2</text>
<line x1="261.50" y1="172.80" x2="263.50" y2="172.80" stroke="#333" stroke-width="0.8"/>
<text x="259.90" y="175.64" font-size="7.9" text-anchor="end" fill="#1a1a1a" stroke="#1a1a1a" stroke-width="0.25">3</text>
<line x1="261.50" y1="161.30" x2="263.50" y2="161.30" stroke="#333" stroke-width="0.8"/>
<text x="259.90" y="164.14" font-size="7.9" text-anchor="end" fill="#1a1a1a" stroke="#1a1a1a" stroke-width="0.25">4</text>
<line x1="261.50" y1="149.80" x2="263.50" y2="149.80" stroke="#333" stroke-width="0.8"/>
<text x="259.90" y="152.64" font-size="7.9" text-anchor="end" fill="#1a1a1a" stroke="#1a1a1a" stroke-width="0.25">5</text>
<polyline points="279.10,144.10 279.10,141.50 323.80,141.50 323.80,144.10" fill="none" stroke="#333" stroke-width="0.8"/>
<text x="301.45" y="142.70" font-size="9.5" text-anchor="middle" fill="#1a1a1a" stroke="#1a1a1a" stroke-width="0.25">*</text>
<polyline points="279.10,151.80 279.10,149.20 301.40,149.20 301.40,151.80" fill="none" stroke="#333" stroke-width="0.8"/>
<text x="290.25" y="150.40" font-size="9.5" text-anchor="middle" fill="#1a1a1a" stroke="#1a1a1a" stroke-width="0.25">**</text>
<line x1="274.80" y1="207.30" x2="274.80" y2="208.90" stroke="#333" stroke-width="0.7"/>
<line x1="297.15" y1="207.30" x2="297.15" y2="208.90" stroke="#333" stroke-width="0.7"/>
<line x1="319.50" y1="207.30" x2="319.50" y2="208.90" stroke="#333" stroke-width="0.7"/>
<text x="298.80" y="135.60" font-size="10.0" text-anchor="middle" font-style="italic" textLength="26.61" lengthAdjust="spacingAndGlyphs" fill="#1a1a1a" stroke="#1a1a1a" stroke-width="0.25">KRT10</text>
<text x="0" y="0" font-size="9" fill="#1a1a1a" stroke="#1a1a1a" stroke-width="0.25" textLength="45.50" lengthAdjust="spacingAndGlyphs" transform="translate(251.24 200.50) rotate(-90)">mRNA level</text>
<text x="274.80" y="217.84" font-size="9" text-anchor="middle" fill="#1a1a1a" stroke="#1a1a1a" stroke-width="0.25">-</text>
<text x="297.15" y="217.84" font-size="9" text-anchor="middle" textLength="8.41" lengthAdjust="spacingAndGlyphs" fill="#1a1a1a" stroke="#1a1a1a" stroke-width="0.25">#1</text>
<text x="319.50" y="217.84" font-size="9" text-anchor="middle" textLength="8.41" lengthAdjust="spacingAndGlyphs" fill="#1a1a1a" stroke="#1a1a1a" stroke-width="0.25">#2</text>
<rect x="373.50" y="202.80" width="6.00" height="3.80" fill="#fff" stroke="#666" stroke-width="0.9"/>
<circle cx="374.60" cy="202.80" r="1.25" fill="#111"/>
<circle cx="376.50" cy="202.80" r="1.25" fill="#111"/>
<circle cx="378.40" cy="202.80" r="1.25" fill="#111"/>
<line x1="385.10" y1="173.54" x2="385.10" y2="164.04" stroke="#333" stroke-width="0.8"/>
<line x1="383.90" y1="164.04" x2="386.30" y2="164.04" stroke="#333" stroke-width="0.8"/>
<rect x="382.10" y="173.54" width="6.00" height="33.06" fill="url(#hb)" stroke="#444" stroke-width="0.9"/>
<circle cx="385.10" cy="168.60" r="1.25" fill="#111"/>
<circle cx="385.10" cy="185.70" r="1.25" fill="#111"/>
<rect x="395.85" y="202.80" width="6.00" height="3.80" fill="#fff" stroke="#666" stroke-width="0.9"/>
<circle cx="396.95" cy="202.80" r="1.25" fill="#111"/>
<circle cx="398.85" cy="202.80" r="1.25" fill="#111"/>
<circle cx="400.75" cy="202.80" r="1.25" fill="#111"/>
<line x1="407.45" y1="205.46" x2="407.45" y2="204.70" stroke="#333" stroke-width="0.8"/>
<line x1="406.25" y1="204.70" x2="408.65" y2="204.70" stroke="#333" stroke-width="0.8"/>
<rect x="404.45" y="205.46" width="6.00" height="1.14" fill="url(#hb)" stroke="#444" stroke-width="0.9"/>
<circle cx="407.45" cy="205.46" r="1.25" fill="#111"/>
<rect x="418.20" y="202.80" width="6.00" height="3.80" fill="#fff" stroke="#666" stroke-width="0.9"/>
<circle cx="419.30" cy="202.80" r="1.25" fill="#111"/>
<circle cx="421.20" cy="202.80" r="1.25" fill="#111"/>
<circle cx="423.10" cy="202.80" r="1.25" fill="#111"/>
<line x1="429.80" y1="204.70" x2="429.80" y2="203.56" stroke="#333" stroke-width="0.8"/>
<line x1="428.60" y1="203.56" x2="431.00" y2="203.56" stroke="#333" stroke-width="0.8"/>
<rect x="426.80" y="204.70" width="6.00" height="1.90" fill="url(#hb)" stroke="#444" stroke-width="0.9"/>
<circle cx="429.80" cy="203.94" r="1.25" fill="#111"/>
<circle cx="429.80" cy="205.46" r="1.25" fill="#111"/>
<line x1="369.50" y1="149.20" x2="369.50" y2="207.00" stroke="#333" stroke-width="0.9"/>
<line x1="369.10" y1="206.60" x2="437.00" y2="206.60" stroke="#333" stroke-width="0.9"/>
<line x1="367.50" y1="206.60" x2="369.50" y2="206.60" stroke="#333" stroke-width="0.8"/>
<text x="365.90" y="209.44" font-size="7.9" text-anchor="end" fill="#1a1a1a" stroke="#1a1a1a" stroke-width="0.25">0</text>
<line x1="367.50" y1="187.60" x2="369.50" y2="187.60" stroke="#333" stroke-width="0.8"/>
<text x="365.90" y="190.44" font-size="7.9" text-anchor="end" fill="#1a1a1a" stroke="#1a1a1a" stroke-width="0.25">5</text>
<line x1="367.50" y1="168.60" x2="369.50" y2="168.60" stroke="#333" stroke-width="0.8"/>
<text x="365.90" y="171.44" font-size="7.9" text-anchor="end" fill="#1a1a1a" stroke="#1a1a1a" stroke-width="0.25">10</text>
<line x1="367.50" y1="149.60" x2="369.50" y2="149.60" stroke="#333" stroke-width="0.8"/>
<text x="365.90" y="152.44" font-size="7.9" text-anchor="end" fill="#1a1a1a" stroke="#1a1a1a" stroke-width="0.25">15</text>
<polyline points="384.60,148.40 384.60,145.80 429.30,145.80 429.30,148.40" fill="none" stroke="#333" stroke-width="0.8"/>
<text x="406.95" y="147.00" font-size="9.5" text-anchor="middle" fill="#1a1a1a" stroke="#1a1a1a" stroke-width="0.25">***</text>
<polyline points="384.60,159.20 384.60,156.60 407.00,156.60 407.00,159.20" fill="none" stroke="#333" stroke-width="0.8"/>
<text x="395.80" y="157.80" font-size="9.5" text-anchor="middle" fill="#1a1a1a" stroke="#1a1a1a" stroke-width="0.25">***</text>
<line x1="380.80" y1="206.60" x2="380.80" y2="208.20" stroke="#333" stroke-width="0.7"/>
<line x1="403.15" y1="206.60" x2="403.15" y2="208.20" stroke="#333" stroke-width="0.7"/>
<line x1="425.50" y1="206.60" x2="425.50" y2="208.20" stroke="#333" stroke-width="0.7"/>
<text x="407.40" y="135.60" font-size="10.0" text-anchor="middle" font-style="italic" textLength="41.09" lengthAdjust="spacingAndGlyphs" fill="#1a1a1a" stroke="#1a1a1a" stroke-width="0.25">LORICRIN</text>
<text x="0" y="0" font-size="9" fill="#1a1a1a" stroke="#1a1a1a" stroke-width="0.25" textLength="45.50" lengthAdjust="spacingAndGlyphs" transform="translate(354.64 200.50) rotate(-90)">mRNA level</text>
<text x="380.80" y="217.84" font-size="9" text-anchor="middle" fill="#1a1a1a" stroke="#1a1a1a" stroke-width="0.25">-</text>
<text x="403.15" y="217.84" font-size="9" text-anchor="middle" textLength="8.41" lengthAdjust="spacingAndGlyphs" fill="#1a1a1a" stroke="#1a1a1a" stroke-width="0.25">#1</text>
<text x="425.50" y="217.84" font-size="9" text-anchor="middle" textLength="8.41" lengthAdjust="spacingAndGlyphs" fill="#1a1a1a" stroke="#1a1a1a" stroke-width="0.25">#2</text>
<rect x="479.70" y="192.35" width="6.00" height="14.25" fill="#fff" stroke="#666" stroke-width="0.9"/>
<circle cx="480.80" cy="192.35" r="1.25" fill="#111"/>
<circle cx="482.70" cy="192.35" r="1.25" fill="#111"/>
<circle cx="484.60" cy="192.35" r="1.25" fill="#111"/>
<line x1="491.30" y1="168.12" x2="491.30" y2="156.72" stroke="#333" stroke-width="0.8"/>
<line x1="490.10" y1="156.72" x2="492.50" y2="156.72" stroke="#333" stroke-width="0.8"/>
<rect x="488.30" y="168.12" width="6.00" height="38.47" fill="url(#hb)" stroke="#444" stroke-width="0.9"/>
<circle cx="491.30" cy="156.72" r="1.25" fill="#111"/>
<circle cx="491.30" cy="173.82" r="1.25" fill="#111"/>
<rect x="502.05" y="192.35" width="6.00" height="14.25" fill="#fff" stroke="#666" stroke-width="0.9"/>
<circle cx="503.15" cy="192.35" r="1.25" fill="#111"/>
<circle cx="505.05" cy="192.35" r="1.25" fill="#111"/>
<circle cx="506.95" cy="192.35" r="1.25" fill="#111"/>
<line x1="513.65" y1="193.06" x2="513.65" y2="189.50" stroke="#333" stroke-width="0.8"/>
<line x1="512.45" y1="189.50" x2="514.85" y2="189.50" stroke="#333" stroke-width="0.8"/>
<rect x="510.65" y="193.06" width="6.00" height="13.54" fill="url(#hb)" stroke="#444" stroke-width="0.9"/>
<circle cx="513.65" cy="189.50" r="1.25" fill="#111"/>
<circle cx="513.65" cy="196.62" r="1.25" fill="#111"/>
<rect x="524.40" y="192.35" width="6.00" height="14.25" fill="#fff" stroke="#666" stroke-width="0.9"/>
<circle cx="525.50" cy="192.35" r="1.25" fill="#111"/>
<circle cx="527.40" cy="192.35" r="1.25" fill="#111"/>
<circle cx="529.30" cy="192.35" r="1.25" fill="#111"/>
<line x1="536.00" y1="194.49" x2="536.00" y2="190.92" stroke="#333" stroke-width="0.8"/>
<line x1="534.80" y1="190.92" x2="537.20" y2="190.92" stroke="#333" stroke-width="0.8"/>
<rect x="533.00" y="194.49" width="6.00" height="12.11" fill="url(#hb)" stroke="#444" stroke-width="0.9"/>
<circle cx="536.00" cy="190.92" r="1.25" fill="#111"/>
<circle cx="536.00" cy="196.62" r="1.25" fill="#111"/>
<line x1="475.70" y1="149.20" x2="475.70" y2="207.00" stroke="#333" stroke-width="0.9"/>
<line x1="475.30" y1="206.60" x2="543.20" y2="206.60" stroke="#333" stroke-width="0.9"/>
<line x1="473.70" y1="206.60" x2="475.70" y2="206.60" stroke="#333" stroke-width="0.8"/>
<text x="472.10" y="209.44" font-size="7.9" text-anchor="end" fill="#1a1a1a" stroke="#1a1a1a" stroke-width="0.25">0</text>
<line x1="473.70" y1="192.35" x2="475.70" y2="192.35" stroke="#333" stroke-width="0.8"/>
<text x="472.10" y="195.19" font-size="7.9" text-anchor="end" fill="#1a1a1a" stroke="#1a1a1a" stroke-width="0.25">1</text>
<line x1="473.70" y1="178.10" x2="475.70" y2="178.10" stroke="#333" stroke-width="0.8"/>
<text x="472.10" y="180.94" font-size="7.9" text-anchor="end" fill="#1a1a1a" stroke="#1a1a1a" stroke-width="0.25">2</text>
<line x1="473.70" y1="163.85" x2="475.70" y2="163.85" stroke="#333" stroke-width="0.8"/>
<text x="472.10" y="166.69" font-size="7.9" text-anchor="end" fill="#1a1a1a" stroke="#1a1a1a" stroke-width="0.25">3</text>
<line x1="473.70" y1="149.60" x2="475.70" y2="149.60" stroke="#333" stroke-width="0.8"/>
<text x="472.10" y="152.44" font-size="7.9" text-anchor="end" fill="#1a1a1a" stroke="#1a1a1a" stroke-width="0.25">4</text>
<polyline points="490.60,143.60 490.60,141.00 535.30,141.00 535.30,143.60" fill="none" stroke="#333" stroke-width="0.8"/>
<text x="512.95" y="142.20" font-size="9.5" text-anchor="middle" fill="#1a1a1a" stroke="#1a1a1a" stroke-width="0.25">**</text>
<polyline points="490.60,150.90 490.60,148.30 512.90,148.30 512.90,150.90" fill="none" stroke="#333" stroke-width="0.8"/>
<text x="501.75" y="149.50" font-size="9.5" text-anchor="middle" fill="#1a1a1a" stroke="#1a1a1a" stroke-width="0.25">**</text>
<line x1="487.00" y1="206.60" x2="487.00" y2="208.20" stroke="#333" stroke-width="0.7"/>
<line x1="509.35" y1="206.60" x2="509.35" y2="208.20" stroke="#333" stroke-width="0.7"/>
<line x1="531.70" y1="206.60" x2="531.70" y2="208.20" stroke="#333" stroke-width="0.7"/>
<text x="509.80" y="136.00" font-size="10.0" text-anchor="middle" font-style="italic" textLength="12.91" lengthAdjust="spacingAndGlyphs" fill="#1a1a1a" stroke="#1a1a1a" stroke-width="0.25">IVL</text>
<text x="0" y="0" font-size="9" fill="#1a1a1a" stroke="#1a1a1a" stroke-width="0.25" textLength="45.50" lengthAdjust="spacingAndGlyphs" transform="translate(462.44 200.50) rotate(-90)">mRNA level</text>
<text x="487.00" y="217.84" font-size="9" text-anchor="middle" fill="#1a1a1a" stroke="#1a1a1a" stroke-width="0.25">-</text>
<text x="509.35" y="217.84" font-size="9" text-anchor="middle" textLength="8.41" lengthAdjust="spacingAndGlyphs" fill="#1a1a1a" stroke="#1a1a1a" stroke-width="0.25">#1</text>
<text x="531.70" y="217.84" font-size="9" text-anchor="middle" textLength="8.41" lengthAdjust="spacingAndGlyphs" fill="#1a1a1a" stroke="#1a1a1a" stroke-width="0.25">#2</text>
<text x="112.80" y="218.04" font-size="9" fill="#1a1a1a" stroke="#1a1a1a" stroke-width="0.25" textLength="44.20" lengthAdjust="spacingAndGlyphs"><tspan font-style="italic">SIRT1</tspan> siRNA</text>
<rect x="158.60" y="4.00" width="6.60" height="4.20" rx="0.8" fill="#fff" stroke="#444" stroke-width="0.9"/>
<text x="167.00" y="9.86" font-size="9.6" textLength="18.40" lengthAdjust="spacingAndGlyphs" fill="#1a1a1a" stroke="#1a1a1a" stroke-width="0.25">CdM</text>
<text x="185.80" y="5.90" font-size="4.8" textLength="10.80" lengthAdjust="spacingAndGlyphs" fill="#1a1a1a" stroke="#1a1a1a" stroke-width="0.25">CTRL</text>
<rect x="208.00" y="4.00" width="6.60" height="4.20" fill="url(#hl)" stroke="#222" stroke-width="0.9"/>
<text x="215.80" y="9.86" font-size="9.6" textLength="18.40" lengthAdjust="spacingAndGlyphs" fill="#1a1a1a" stroke="#1a1a1a" stroke-width="0.25">CdM</text>
<text x="234.60" y="5.90" font-size="4.8" textLength="12.70" lengthAdjust="spacingAndGlyphs" fill="#1a1a1a" stroke="#1a1a1a" stroke-width="0.25">SORA</text>
<rect x="159.00" y="119.30" width="6.20" height="4.30" rx="0.8" fill="#fff" stroke="#444" stroke-width="0.9"/>
<text x="168.00" y="124.61" font-size="10.3" textLength="19.70" lengthAdjust="spacingAndGlyphs" fill="#1a1a1a" stroke="#1a1a1a" stroke-width="0.25">CTRL</text>
<rect x="208.30" y="119.30" width="6.20" height="4.30" fill="url(#hl)" stroke="#222" stroke-width="0.9"/>
<text x="217.40" y="124.61" font-size="10.3" textLength="32.10" lengthAdjust="spacingAndGlyphs" fill="#1a1a1a" stroke="#1a1a1a" stroke-width="0.25">s-HBEGF</text>
<rect x="601.60" y="47.40" width="6.00" height="48.00" fill="#fff" stroke="#666" stroke-width="0.9"/>
<circle cx="602.70" cy="47.40" r="1.25" fill="#111"/>
<circle cx="604.60" cy="47.40" r="1.25" fill="#111"/>
<circle cx="606.50" cy="47.40" r="1.25" fill="#111"/>
<line x1="613.20" y1="55.56" x2="613.20" y2="53.16" stroke="#333" stroke-width="0.8"/>
<line x1="612.00" y1="53.16" x2="614.40" y2="53.16" stroke="#333" stroke-width="0.8"/>
<rect x="610.20" y="55.56" width="6.00" height="39.84" fill="url(#hf)" stroke="#444" stroke-width="0.9"/>
<circle cx="613.20" cy="54.12" r="1.25" fill="#111"/>
<circle cx="613.20" cy="56.52" r="1.25" fill="#111"/>
<rect x="624.10" y="47.40" width="6.00" height="48.00" fill="#fff" stroke="#666" stroke-width="0.9"/>
<circle cx="625.20" cy="47.40" r="1.25" fill="#111"/>
<circle cx="627.10" cy="47.40" r="1.25" fill="#111"/>
<circle cx="629.00" cy="47.40" r="1.25" fill="#111"/>
<line x1="635.70" y1="52.68" x2="635.70" y2="51.72" stroke="#333" stroke-width="0.8"/>
<line x1="634.50" y1="51.72" x2="636.90" y2="51.72" stroke="#333" stroke-width="0.8"/>
<rect x="632.70" y="52.68" width="6.00" height="42.72" fill="url(#hf)" stroke="#444" stroke-width="0.9"/>
<circle cx="635.70" cy="51.24" r="1.25" fill="#111"/>
<circle cx="635.70" cy="53.64" r="1.25" fill="#111"/>
<rect x="646.60" y="47.40" width="6.00" height="48.00" fill="#fff" stroke="#666" stroke-width="0.9"/>
<circle cx="647.70" cy="47.40" r="1.25" fill="#111"/>
<circle cx="649.60" cy="47.40" r="1.25" fill="#111"/>
<circle cx="651.50" cy="47.40" r="1.25" fill="#111"/>
<line x1="658.20" y1="56.04" x2="658.20" y2="53.16" stroke="#333" stroke-width="0.8"/>
<line x1="657.00" y1="53.16" x2="659.40" y2="53.16" stroke="#333" stroke-width="0.8"/>
<rect x="655.20" y="56.04" width="6.00" height="39.36" fill="url(#hf)" stroke="#444" stroke-width="0.9"/>
<circle cx="658.20" cy="54.60" r="1.25" fill="#111"/>
<circle cx="658.20" cy="57.00" r="1.25" fill="#111"/>
<line x1="597.00" y1="37.40" x2="597.00" y2="95.80" stroke="#333" stroke-width="0.9"/>
<line x1="596.60" y1="95.40" x2="664.60" y2="95.40" stroke="#333" stroke-width="0.9"/>
<line x1="595.00" y1="95.40" x2="597.00" y2="95.40" stroke="#333" stroke-width="0.8"/>
<text x="593.40" y="98.06" font-size="7.4" text-anchor="end" fill="#1a1a1a" stroke="#1a1a1a" stroke-width="0.25">0</text>
<line x1="595.00" y1="76.20" x2="597.00" y2="76.20" stroke="#333" stroke-width="0.8"/>
<text x="593.40" y="78.86" font-size="7.4" text-anchor="end" fill="#1a1a1a" stroke="#1a1a1a" stroke-width="0.25">40</text>
<line x1="595.00" y1="57.00" x2="597.00" y2="57.00" stroke="#333" stroke-width="0.8"/>
<text x="593.40" y="59.66" font-size="7.4" text-anchor="end" fill="#1a1a1a" stroke="#1a1a1a" stroke-width="0.25">80</text>
<line x1="595.00" y1="37.80" x2="597.00" y2="37.80" stroke="#333" stroke-width="0.8"/>
<text x="593.40" y="40.46" font-size="7.4" text-anchor="end" fill="#1a1a1a" stroke="#1a1a1a" stroke-width="0.25">120</text>
<line x1="608.90" y1="95.40" x2="608.90" y2="97.00" stroke="#333" stroke-width="0.7"/>
<line x1="631.40" y1="95.40" x2="631.40" y2="97.00" stroke="#333" stroke-width="0.7"/>
<line x1="653.90" y1="95.40" x2="653.90" y2="97.00" stroke="#333" stroke-width="0.7"/>
<text x="0" y="0" font-size="9" fill="#1a1a1a" stroke="#1a1a1a" stroke-width="0.25" textLength="59.70" lengthAdjust="spacingAndGlyphs" transform="translate(572.04 94.30) rotate(-90)">Survival rate of</text>
<text x="0" y="0" font-size="9" fill="#1a1a1a" stroke="#1a1a1a" stroke-width="0.25" textLength="59.20" lengthAdjust="spacingAndGlyphs" transform="translate(580.14 94.30) rotate(-90)">HaCaT cells (%)</text>
<text x="552.50" y="107.84" font-size="9" fill="#1a1a1a" stroke="#1a1a1a" stroke-width="0.25" textLength="44.00" lengthAdjust="spacingAndGlyphs"><tspan font-style="italic">SIRT1</tspan> siRNA</text>
<text x="608.90" y="107.84" font-size="9" text-anchor="middle" fill="#1a1a1a" stroke="#1a1a1a" stroke-width="0.25">-</text>
<text x="631.40" y="107.84" font-size="9" text-anchor="middle" textLength="8.41" lengthAdjust="spacingAndGlyphs" fill="#1a1a1a" stroke="#1a1a1a" stroke-width="0.25">#1</text>
<text x="653.90" y="107.84" font-size="9" text-anchor="middle" textLength="8.41" lengthAdjust="spacingAndGlyphs" fill="#1a1a1a" stroke="#1a1a1a" stroke-width="0.25">#2</text>
<rect x="601.60" y="159.93" width="6.00" height="47.67" fill="#fff" stroke="#666" stroke-width="0.9"/>
<circle cx="602.70" cy="159.93" r="1.25" fill="#111"/>
<circle cx="604.60" cy="159.93" r="1.25" fill="#111"/>
<circle cx="606.50" cy="159.93" r="1.25" fill="#111"/>
<line x1="613.20" y1="159.93" x2="613.20" y2="156.12" stroke="#333" stroke-width="0.8"/>
<line x1="612.00" y1="156.12" x2="614.40" y2="156.12" stroke="#333" stroke-width="0.8"/>
<rect x="610.20" y="159.93" width="6.00" height="47.67" fill="url(#hb)" stroke="#444" stroke-width="0.9"/>
<circle cx="613.20" cy="158.50" r="1.25" fill="#111"/>
<circle cx="613.20" cy="160.89" r="1.25" fill="#111"/>
<rect x="624.10" y="159.93" width="6.00" height="47.67" fill="#fff" stroke="#666" stroke-width="0.9"/>
<circle cx="625.20" cy="159.93" r="1.25" fill="#111"/>
<circle cx="627.10" cy="159.93" r="1.25" fill="#111"/>
<circle cx="629.00" cy="159.93" r="1.25" fill="#111"/>
<line x1="635.70" y1="157.07" x2="635.70" y2="155.17" stroke="#333" stroke-width="0.8"/>
<line x1="634.50" y1="155.17" x2="636.90" y2="155.17" stroke="#333" stroke-width="0.8"/>
<rect x="632.70" y="157.07" width="6.00" height="50.53" fill="url(#hb)" stroke="#444" stroke-width="0.9"/>
<circle cx="635.70" cy="155.64" r="1.25" fill="#111"/>
<circle cx="635.70" cy="158.03" r="1.25" fill="#111"/>
<rect x="646.60" y="159.93" width="6.00" height="47.67" fill="#fff" stroke="#666" stroke-width="0.9"/>
<circle cx="647.70" cy="159.93" r="1.25" fill="#111"/>
<circle cx="649.60" cy="159.93" r="1.25" fill="#111"/>
<circle cx="651.50" cy="159.93" r="1.25" fill="#111"/>
<line x1="658.20" y1="162.32" x2="658.20" y2="158.50" stroke="#333" stroke-width="0.8"/>
<line x1="657.00" y1="158.50" x2="659.40" y2="158.50" stroke="#333" stroke-width="0.8"/>
<rect x="655.20" y="162.32" width="6.00" height="45.28" fill="url(#hb)" stroke="#444" stroke-width="0.9"/>
<circle cx="658.20" cy="160.89" r="1.25" fill="#111"/>
<circle cx="658.20" cy="163.27" r="1.25" fill="#111"/>
<line x1="597.00" y1="150.00" x2="597.00" y2="208.00" stroke="#333" stroke-width="0.9"/>
<line x1="596.60" y1="207.60" x2="664.60" y2="207.60" stroke="#333" stroke-width="0.9"/>
<line x1="595.00" y1="207.60" x2="597.00" y2="207.60" stroke="#333" stroke-width="0.8"/>
<text x="593.40" y="210.26" font-size="7.4" text-anchor="end" fill="#1a1a1a" stroke="#1a1a1a" stroke-width="0.25">0</text>
<line x1="595.00" y1="188.53" x2="597.00" y2="188.53" stroke="#333" stroke-width="0.8"/>
<text x="593.40" y="191.20" font-size="7.4" text-anchor="end" fill="#1a1a1a" stroke="#1a1a1a" stroke-width="0.25">40</text>
<line x1="595.00" y1="169.47" x2="597.00" y2="169.47" stroke="#333" stroke-width="0.8"/>
<text x="593.40" y="172.13" font-size="7.4" text-anchor="end" fill="#1a1a1a" stroke="#1a1a1a" stroke-width="0.25">80</text>
<line x1="595.00" y1="150.40" x2="597.00" y2="150.40" stroke="#333" stroke-width="0.8"/>
<text x="593.40" y="153.06" font-size="7.4" text-anchor="end" fill="#1a1a1a" stroke="#1a1a1a" stroke-width="0.25">120</text>
<line x1="608.90" y1="207.60" x2="608.90" y2="209.20" stroke="#333" stroke-width="0.7"/>
<line x1="631.40" y1="207.60" x2="631.40" y2="209.20" stroke="#333" stroke-width="0.7"/>
<line x1="653.90" y1="207.60" x2="653.90" y2="209.20" stroke="#333" stroke-width="0.7"/>
<text x="0" y="0" font-size="9" fill="#1a1a1a" stroke="#1a1a1a" stroke-width="0.25" textLength="59.30" lengthAdjust="spacingAndGlyphs" transform="translate(572.04 206.50) rotate(-90)">Survival rate of</text>
<text x="0" y="0" font-size="9" fill="#1a1a1a" stroke="#1a1a1a" stroke-width="0.25" textLength="58.80" lengthAdjust="spacingAndGlyphs" transform="translate(580.14 206.50) rotate(-90)">HaCaT cells (%)</text>
<text x="552.50" y="219.24" font-size="9" fill="#1a1a1a" stroke="#1a1a1a" stroke-width="0.25" textLength="44.00" lengthAdjust="spacingAndGlyphs"><tspan font-style="italic">SIRT1</tspan> siRNA</text>
<text x="608.90" y="219.24" font-size="9" text-anchor="middle" fill="#1a1a1a" stroke="#1a1a1a" stroke-width="0.25">-</text>
<text x="631.40" y="219.24" font-size="9" text-anchor="middle" textLength="8.41" lengthAdjust="spacingAndGlyphs" fill="#1a1a1a" stroke="#1a1a1a" stroke-width="0.25">#1</text>
<text x="653.90" y="219.24" font-size="9" text-anchor="middle" textLength="8.41" lengthAdjust="spacingAndGlyphs" fill="#1a1a1a" stroke="#1a1a1a" stroke-width="0.25">#2</text>
<rect x="594.00" y="3.20" width="5.60" height="4.20" rx="0.8" fill="#fff" stroke="#444" stroke-width="0.9"/>
<text x="601.00" y="9.06" font-size="9.6" textLength="18.40" lengthAdjust="spacingAndGlyphs" fill="#1a1a1a" stroke="#1a1a1a" stroke-width="0.25">CdM</text>
<text x="619.80" y="5.10" font-size="4.8" textLength="10.20" lengthAdjust="spacingAndGlyphs" fill="#1a1a1a" stroke="#1a1a1a" stroke-width="0.25">CTRL</text>
<rect x="642.80" y="3.20" width="5.60" height="4.20" fill="url(#hl)" stroke="#222" stroke-width="0.9"/>
<text x="650.00" y="9.06" font-size="9.6" textLength="18.40" lengthAdjust="spacingAndGlyphs" fill="#1a1a1a" stroke="#1a1a1a" stroke-width="0.25">CdM</text>
<text x="668.80" y="5.10" font-size="4.8" textLength="12.20" lengthAdjust="spacingAndGlyphs" fill="#1a1a1a" stroke="#1a1a1a" stroke-width="0.25">SORA</text>
<rect x="592.80" y="118.70" width="6.40" height="3.90" rx="0.8" fill="#fff" stroke="#444" stroke-width="0.9"/>
<text x="601.80" y="124.21" font-size="10.3" textLength="19.00" lengthAdjust="spacingAndGlyphs" fill="#1a1a1a" stroke="#1a1a1a" stroke-width="0.25">CTRL</text>
<rect x="642.30" y="118.70" width="6.00" height="3.90" fill="url(#hl)" stroke="#222" stroke-width="0.9"/>
<text x="651.00" y="124.21" font-size="10.3" textLength="31.50" lengthAdjust="spacingAndGlyphs" fill="#1a1a1a" stroke="#1a1a1a" stroke-width="0.25">s-HBEGF</text>
<defs><filter id="bl1" x="-50%" y="-100%" width="200%" height="300%"><feGaussianBlur stdDeviation="0.7"/></filter><filter id="bl2" x="-50%" y="-100%" width="200%" height="300%"><feGaussianBlur stdDeviation="1.0"/></filter></defs>
<text x="57.20" y="158.13" font-size="9.8" textLength="25.10" lengthAdjust="spacingAndGlyphs" fill="#1a1a1a" stroke="#1a1a1a" stroke-width="0.25">HaCaT</text>
<line x1="53.40" y1="159.40" x2="85.80" y2="159.40" stroke="#333" stroke-width="0.9"/>
<text x="1.00" y="170.92" font-size="9.5" fill="#1a1a1a" stroke="#1a1a1a" stroke-width="0.25" textLength="43.70" lengthAdjust="spacingAndGlyphs"><tspan font-style="italic">SIRT1</tspan> siRNA</text>
<text x="54.30" y="170.74" font-size="9" text-anchor="middle" fill="#1a1a1a" stroke="#1a1a1a" stroke-width="0.25">-</text>
<text x="70.10" y="170.74" font-size="9" text-anchor="middle" textLength="8.41" lengthAdjust="spacingAndGlyphs" fill="#1a1a1a" stroke="#1a1a1a" stroke-width="0.25">#1</text>
<text x="85.40" y="170.74" font-size="9" text-anchor="middle" textLength="8.41" lengthAdjust="spacingAndGlyphs" fill="#1a1a1a" stroke="#1a1a1a" stroke-width="0.25">#2</text>
<text x="100.70" y="171.03" font-size="9.8" textLength="14.90" lengthAdjust="spacingAndGlyphs" fill="#1a1a1a" stroke="#1a1a1a" stroke-width="0.25">kDa</text>
<rect x="45.60" y="173.20" width="48.00" height="11.40" fill="#d4d4d4" stroke="#333" stroke-width="1.0"/>
<rect x="48.85" y="177.70" width="11.50" height="3.40" rx="1.70" fill="#000" fill-opacity="0.85" filter="url(#bl1)"/>
<rect x="65.80" y="178.50" width="8.00" height="2.20" rx="1.10" fill="#000" fill-opacity="0.18" filter="url(#bl1)"/>
<rect x="81.20" y="178.60" width="8.00" height="2.00" rx="1.00" fill="#000" fill-opacity="0.10" filter="url(#bl1)"/>
<text x="23.60" y="183.13" font-size="9.8" textLength="20.20" lengthAdjust="spacingAndGlyphs" fill="#1a1a1a" stroke="#1a1a1a" stroke-width="0.25">SIRT1</text>
<text x="95.60" y="183.53" font-size="9.8" textLength="18.30" lengthAdjust="spacingAndGlyphs" fill="#1a1a1a" stroke="#1a1a1a" stroke-width="0.25">- 130</text>
<text x="54.70" y="190.00" font-size="5.0" text-anchor="middle" font-style="italic" textLength="9.25" lengthAdjust="spacingAndGlyphs" fill="#1a1a1a" stroke="#1a1a1a" stroke-width="0.25">1.00</text>
<text x="69.60" y="190.00" font-size="5.0" text-anchor="middle" font-style="italic" textLength="9.25" lengthAdjust="spacingAndGlyphs" fill="#1a1a1a" stroke="#1a1a1a" stroke-width="0.25">0.09</text>
<text x="85.40" y="190.00" font-size="5.0" text-anchor="middle" font-style="italic" textLength="9.25" lengthAdjust="spacingAndGlyphs" fill="#1a1a1a" stroke="#1a1a1a" stroke-width="0.25">0.04</text>
<rect x="45.60" y="191.40" width="48.00" height="10.80" fill="#d4d4d4" stroke="#333" stroke-width="1.0"/>
<rect x="48.60" y="195.50" width="12.00" height="2.60" rx="1.30" fill="#000" fill-opacity="0.72" filter="url(#bl1)"/>
<rect x="63.80" y="195.50" width="12.00" height="2.60" rx="1.30" fill="#000" fill-opacity="0.72" filter="url(#bl1)"/>
<rect x="79.20" y="195.50" width="12.00" height="2.60" rx="1.30" fill="#000" fill-opacity="0.72" filter="url(#bl1)"/>
<text x="23.60" y="200.33" font-size="9.8" textLength="20.20" lengthAdjust="spacingAndGlyphs" fill="#1a1a1a" stroke="#1a1a1a" stroke-width="0.25">ACTB</text>
<text x="95.60" y="204.13" font-size="9.8" textLength="13.90" lengthAdjust="spacingAndGlyphs" fill="#1a1a1a" stroke="#1a1a1a" stroke-width="0.25">- 40</text>
<text x="50.20" y="257.01" font-size="10.3" textLength="41.00" lengthAdjust="spacingAndGlyphs" fill="#1a1a1a" stroke="#1a1a1a" stroke-width="0.25">scramble+</text>
<text x="54.70" y="268.11" font-size="10.3" textLength="32.50" lengthAdjust="spacingAndGlyphs" fill="#1a1a1a" stroke="#1a1a1a" stroke-width="0.25">CMC-Na</text>
<line x1="55.70" y1="269.80" x2="90.30" y2="269.80" stroke="#333" stroke-width="0.9"/>
<text x="94.00" y="257.01" font-size="10.3" textLength="40.60" lengthAdjust="spacingAndGlyphs" fill="#1a1a1a" stroke="#1a1a1a" stroke-width="0.25">scramble+</text>
<text x="104.00" y="268.11" font-size="10.3" textLength="21.80" lengthAdjust="spacingAndGlyphs" fill="#1a1a1a" stroke="#1a1a1a" stroke-width="0.25">SORA</text>
<line x1="95.80" y1="269.80" x2="129.70" y2="269.80" stroke="#333" stroke-width="0.9"/>
<text x="139.60" y="257.31" font-size="10.3" fill="#1a1a1a" stroke="#1a1a1a" stroke-width="0.25" textLength="26.60" lengthAdjust="spacingAndGlyphs">sh<tspan font-style="italic">Sirt1</tspan></text>
<text x="135.20" y="268.71" font-size="10.3" textLength="36.80" lengthAdjust="spacingAndGlyphs" fill="#1a1a1a" stroke="#1a1a1a" stroke-width="0.25">+CMC-Na</text>
<line x1="134.60" y1="270.30" x2="169.00" y2="270.30" stroke="#333" stroke-width="0.9"/>
<text x="178.00" y="257.31" font-size="10.3" fill="#1a1a1a" stroke="#1a1a1a" stroke-width="0.25" textLength="26.60" lengthAdjust="spacingAndGlyphs">sh<tspan font-style="italic">Sirt1</tspan></text>
<text x="178.00" y="268.71" font-size="10.3" textLength="26.60" lengthAdjust="spacingAndGlyphs" fill="#1a1a1a" stroke="#1a1a1a" stroke-width="0.25">+SORA</text>
<line x1="174.60" y1="270.30" x2="208.50" y2="270.30" stroke="#333" stroke-width="0.9"/>
<text x="13.70" y="281.71" font-size="10.3" textLength="34.70" lengthAdjust="spacingAndGlyphs" fill="#1a1a1a" stroke="#1a1a1a" stroke-width="0.25">Mice No.</text>
<text x="59.30" y="281.71" font-size="10.3" text-anchor="middle" textLength="4.93" lengthAdjust="spacingAndGlyphs" fill="#1a1a1a" stroke="#1a1a1a" stroke-width="0.25">1</text>
<text x="73.00" y="281.71" font-size="10.3" text-anchor="middle" textLength="4.93" lengthAdjust="spacingAndGlyphs" fill="#1a1a1a" stroke="#1a1a1a" stroke-width="0.25">2</text>
<text x="85.80" y="281.71" font-size="10.3" text-anchor="middle" textLength="4.93" lengthAdjust="spacingAndGlyphs" fill="#1a1a1a" stroke="#1a1a1a" stroke-width="0.25">3</text>
<text x="99.50" y="281.71" font-size="10.3" text-anchor="middle" textLength="4.93" lengthAdjust="spacingAndGlyphs" fill="#1a1a1a" stroke="#1a1a1a" stroke-width="0.25">1</text>
<text x="112.80" y="281.71" font-size="10.3" text-anchor="middle" textLength="4.93" lengthAdjust="spacingAndGlyphs" fill="#1a1a1a" stroke="#1a1a1a" stroke-width="0.25">2</text>
<text x="125.80" y="281.71" font-size="10.3" text-anchor="middle" textLength="4.93" lengthAdjust="spacingAndGlyphs" fill="#1a1a1a" stroke="#1a1a1a" stroke-width="0.25">3</text>
<text x="138.60" y="281.71" font-size="10.3" text-anchor="middle" textLength="4.93" lengthAdjust="spacingAndGlyphs" fill="#1a1a1a" stroke="#1a1a1a" stroke-width="0.25">1</text>
<text x="151.80" y="281.71" font-size="10.3" text-anchor="middle" textLength="4.93" lengthAdjust="spacingAndGlyphs" fill="#1a1a1a" stroke="#1a1a1a" stroke-width="0.25">2</text>
<text x="165.20" y="281.71" font-size="10.3" text-anchor="middle" textLength="4.93" lengthAdjust="spacingAndGlyphs" fill="#1a1a1a" stroke="#1a1a1a" stroke-width="0.25">3</text>
<text x="178.00" y="281.71" font-size="10.3" text-anchor="middle" textLength="4.93" lengthAdjust="spacingAndGlyphs" fill="#1a1a1a" stroke="#1a1a1a" stroke-width="0.25">1</text>
<text x="191.80" y="281.71" font-size="10.3" text-anchor="middle" textLength="4.93" lengthAdjust="spacingAndGlyphs" fill="#1a1a1a" stroke="#1a1a1a" stroke-width="0.25">2</text>
<text x="204.60" y="281.71" font-size="10.3" text-anchor="middle" textLength="4.93" lengthAdjust="spacingAndGlyphs" fill="#1a1a1a" stroke="#1a1a1a" stroke-width="0.25">3</text>
<text x="214.50" y="281.51" font-size="10.3" textLength="15.70" lengthAdjust="spacingAndGlyphs" fill="#1a1a1a" stroke="#1a1a1a" stroke-width="0.25">kDa</text>
<rect x="51.60" y="281.60" width="160.80" height="13.30" fill="#eaeaea" stroke="#333" stroke-width="1.0"/>
<rect x="55.30" y="287.20" width="9.60" height="2.60" rx="1.30" fill="#000" fill-opacity="0.62" filter="url(#bl1)"/>
<rect x="67.80" y="287.20" width="9.60" height="2.60" rx="1.30" fill="#000" fill-opacity="0.64" filter="url(#bl1)"/>
<rect x="79.80" y="287.10" width="9.60" height="2.80" rx="1.40" fill="#000" fill-opacity="0.72" filter="url(#bl1)"/>
<rect x="92.15" y="286.30" width="11.50" height="4.40" rx="2.20" fill="#000" fill-opacity="0.97" filter="url(#bl1)"/>
<rect x="105.95" y="286.40" width="11.50" height="4.20" rx="2.10" fill="#000" fill-opacity="0.97" filter="url(#bl1)"/>
<rect x="120.35" y="286.50" width="11.50" height="4.00" rx="2.00" fill="#000" fill-opacity="0.95" filter="url(#bl1)"/>
<rect x="133.70" y="287.00" width="9.60" height="3.00" rx="1.50" fill="#000" fill-opacity="0.75" filter="url(#bl1)"/>
<rect x="146.90" y="287.40" width="9.60" height="2.20" rx="1.10" fill="#000" fill-opacity="0.38" filter="url(#bl1)"/>
<rect x="160.20" y="287.40" width="9.60" height="2.20" rx="1.10" fill="#000" fill-opacity="0.40" filter="url(#bl1)"/>
<rect x="173.50" y="287.60" width="9.60" height="1.80" rx="0.90" fill="#000" fill-opacity="0.28" filter="url(#bl1)"/>
<rect x="186.20" y="287.50" width="9.60" height="2.00" rx="1.00" fill="#000" fill-opacity="0.38" filter="url(#bl1)"/>
<rect x="199.50" y="287.40" width="9.60" height="2.20" rx="1.10" fill="#000" fill-opacity="0.45" filter="url(#bl1)"/>
<text x="27.40" y="292.61" font-size="10.3" textLength="21.50" lengthAdjust="spacingAndGlyphs" fill="#1a1a1a" stroke="#1a1a1a" stroke-width="0.25">SIRT1</text>
<text x="214.50" y="293.71" font-size="10.3" textLength="18.50" lengthAdjust="spacingAndGlyphs" fill="#1a1a1a" stroke="#1a1a1a" stroke-width="0.25">- 130</text>
<text x="60.10" y="301.00" font-size="5.6" text-anchor="middle" textLength="10.35" lengthAdjust="spacingAndGlyphs" fill="#1a1a1a" stroke="#1a1a1a" stroke-width="0.25">1.00</text>
<text x="72.60" y="301.00" font-size="5.6" text-anchor="middle" textLength="10.35" lengthAdjust="spacingAndGlyphs" fill="#1a1a1a" stroke="#1a1a1a" stroke-width="0.25">1.05</text>
<text x="84.60" y="301.00" font-size="5.6" text-anchor="middle" textLength="10.35" lengthAdjust="spacingAndGlyphs" fill="#1a1a1a" stroke="#1a1a1a" stroke-width="0.25">1.33</text>
<text x="97.90" y="301.00" font-size="5.6" text-anchor="middle" textLength="10.35" lengthAdjust="spacingAndGlyphs" fill="#1a1a1a" stroke="#1a1a1a" stroke-width="0.25">2.37</text>
<text x="111.70" y="301.00" font-size="5.6" text-anchor="middle" textLength="10.35" lengthAdjust="spacingAndGlyphs" fill="#1a1a1a" stroke="#1a1a1a" stroke-width="0.25">2.85</text>
<text x="126.10" y="301.00" font-size="5.6" text-anchor="middle" textLength="10.35" lengthAdjust="spacingAndGlyphs" fill="#1a1a1a" stroke="#1a1a1a" stroke-width="0.25">2.21</text>
<text x="138.50" y="301.00" font-size="5.6" text-anchor="middle" textLength="10.35" lengthAdjust="spacingAndGlyphs" fill="#1a1a1a" stroke="#1a1a1a" stroke-width="0.25">1.24</text>
<text x="151.70" y="301.00" font-size="5.6" text-anchor="middle" textLength="10.35" lengthAdjust="spacingAndGlyphs" fill="#1a1a1a" stroke="#1a1a1a" stroke-width="0.25">0.61</text>
<text x="165.00" y="301.00" font-size="5.6" text-anchor="middle" textLength="10.35" lengthAdjust="spacingAndGlyphs" fill="#1a1a1a" stroke="#1a1a1a" stroke-width="0.25">0.75</text>
<text x="178.30" y="301.00" font-size="5.6" text-anchor="middle" textLength="10.35" lengthAdjust="spacingAndGlyphs" fill="#1a1a1a" stroke="#1a1a1a" stroke-width="0.25">0.52</text>
<text x="191.00" y="301.00" font-size="5.6" text-anchor="middle" textLength="10.35" lengthAdjust="spacingAndGlyphs" fill="#1a1a1a" stroke="#1a1a1a" stroke-width="0.25">0.62</text>
<text x="204.30" y="301.00" font-size="5.6" text-anchor="middle" textLength="10.35" lengthAdjust="spacingAndGlyphs" fill="#1a1a1a" stroke="#1a1a1a" stroke-width="0.25">1.16</text>
<rect x="51.60" y="302.00" width="160.80" height="13.80" fill="#eaeaea" stroke="#333" stroke-width="1.0"/>
<rect x="55.30" y="307.85" width="9.60" height="1.50" rx="0.75" fill="#000" fill-opacity="0.45" filter="url(#bl1)"/>
<rect x="67.80" y="307.85" width="9.60" height="1.50" rx="0.75" fill="#000" fill-opacity="0.45" filter="url(#bl1)"/>
<rect x="79.80" y="307.85" width="9.60" height="1.50" rx="0.75" fill="#000" fill-opacity="0.45" filter="url(#bl1)"/>
<rect x="93.10" y="307.85" width="9.60" height="1.50" rx="0.75" fill="#000" fill-opacity="0.45" filter="url(#bl1)"/>
<rect x="106.90" y="307.85" width="9.60" height="1.50" rx="0.75" fill="#000" fill-opacity="0.45" filter="url(#bl1)"/>
<rect x="121.30" y="307.85" width="9.60" height="1.50" rx="0.75" fill="#000" fill-opacity="0.45" filter="url(#bl1)"/>
<rect x="133.70" y="307.85" width="9.60" height="1.50" rx="0.75" fill="#000" fill-opacity="0.45" filter="url(#bl1)"/>
<rect x="146.90" y="307.85" width="9.60" height="1.50" rx="0.75" fill="#000" fill-opacity="0.45" filter="url(#bl1)"/>
<rect x="160.20" y="307.85" width="9.60" height="1.50" rx="0.75" fill="#000" fill-opacity="0.45" filter="url(#bl1)"/>
<rect x="173.50" y="307.85" width="9.60" height="1.50" rx="0.75" fill="#000" fill-opacity="0.45" filter="url(#bl1)"/>
<rect x="186.20" y="307.85" width="9.60" height="1.50" rx="0.75" fill="#000" fill-opacity="0.45" filter="url(#bl1)"/>
<rect x="199.50" y="307.85" width="9.60" height="1.50" rx="0.75" fill="#000" fill-opacity="0.45" filter="url(#bl1)"/>
<text x="20.00" y="311.91" font-size="10.3" textLength="29.30" lengthAdjust="spacingAndGlyphs" fill="#1a1a1a" stroke="#1a1a1a" stroke-width="0.25">GAPDH</text>
<text x="214.50" y="313.41" font-size="10.3" textLength="13.50" lengthAdjust="spacingAndGlyphs" fill="#1a1a1a" stroke="#1a1a1a" stroke-width="0.25">- 35</text>
<line x1="105.80" y1="370.60" x2="105.80" y2="432.40" stroke="#333" stroke-width="0.9"/>
<line x1="105.40" y1="432.00" x2="187.50" y2="432.00" stroke="#333" stroke-width="0.9"/>
<line x1="103.80" y1="432.00" x2="105.80" y2="432.00" stroke="#333" stroke-width="0.8"/>
<text x="101.60" y="435.02" font-size="8.4" text-anchor="end" textLength="4.91" lengthAdjust="spacingAndGlyphs" fill="#1a1a1a" stroke="#1a1a1a" stroke-width="0.25">0</text>
<line x1="103.80" y1="411.67" x2="105.80" y2="411.67" stroke="#333" stroke-width="0.8"/>
<text x="101.60" y="414.69" font-size="8.4" text-anchor="end" textLength="9.81" lengthAdjust="spacingAndGlyphs" fill="#1a1a1a" stroke="#1a1a1a" stroke-width="0.25">50</text>
<line x1="103.80" y1="391.33" x2="105.80" y2="391.33" stroke="#333" stroke-width="0.8"/>
<text x="101.60" y="394.36" font-size="8.4" text-anchor="end" textLength="14.72" lengthAdjust="spacingAndGlyphs" fill="#1a1a1a" stroke="#1a1a1a" stroke-width="0.25">100</text>
<line x1="103.80" y1="371.00" x2="105.80" y2="371.00" stroke="#333" stroke-width="0.8"/>
<text x="101.60" y="374.02" font-size="8.4" text-anchor="end" textLength="14.72" lengthAdjust="spacingAndGlyphs" fill="#1a1a1a" stroke="#1a1a1a" stroke-width="0.25">150</text>
<line x1="116.40" y1="432.00" x2="116.40" y2="433.60" stroke="#333" stroke-width="0.7"/>
<line x1="136.60" y1="432.00" x2="136.60" y2="433.60" stroke="#333" stroke-width="0.7"/>
<line x1="156.70" y1="432.00" x2="156.70" y2="433.60" stroke="#333" stroke-width="0.7"/>
<line x1="176.70" y1="432.00" x2="176.70" y2="433.60" stroke="#333" stroke-width="0.7"/>
<text x="137.50" y="362.09" font-size="9.7" textLength="18.50" lengthAdjust="spacingAndGlyphs" fill="#1a1a1a" stroke="#1a1a1a" stroke-width="0.25">Mice</text>
<text x="0" y="0" font-size="9" fill="#1a1a1a" stroke="#1a1a1a" stroke-width="0.25" textLength="58.50" lengthAdjust="spacingAndGlyphs" transform="translate(84.24 434.50) rotate(-90)">Thickness (µm)</text>
<polyline points="116.4,373.6 116.4,371 176.7,371 176.7,373.6" fill="none" stroke="#333" stroke-width="0.8"/>
<line x1="136.60" y1="371.00" x2="136.60" y2="373.60" stroke="#333" stroke-width="0.8"/>
<text x="127.00" y="372.60" font-size="9.5" text-anchor="middle" fill="#1a1a1a" stroke="#1a1a1a" stroke-width="0.25">***</text>
<text x="157.50" y="372.60" font-size="9.5" text-anchor="middle" fill="#1a1a1a" stroke="#1a1a1a" stroke-width="0.25">***</text>
<line x1="110.50" y1="415.00" x2="122.00" y2="415.00" stroke="#243a86" stroke-width="0.9"/>
<circle cx="111.00" cy="411.50" r="1.9" fill="#243a86"/>
<circle cx="114.60" cy="414.40" r="1.9" fill="#243a86"/>
<circle cx="118.00" cy="415.00" r="1.9" fill="#243a86"/>
<circle cx="121.50" cy="413.80" r="1.9" fill="#243a86"/>
<circle cx="116.40" cy="420.30" r="1.9" fill="#243a86"/>
<line x1="129.80" y1="392.50" x2="143.00" y2="392.50" stroke="#a3282c" stroke-width="0.9"/>
<circle cx="136.60" cy="385.00" r="1.9" fill="#a3282c"/>
<circle cx="130.70" cy="394.40" r="1.9" fill="#a3282c"/>
<circle cx="134.60" cy="396.80" r="1.9" fill="#a3282c"/>
<circle cx="139.00" cy="395.40" r="1.9" fill="#a3282c"/>
<circle cx="142.00" cy="392.50" r="1.9" fill="#a3282c"/>
<line x1="151.00" y1="410.00" x2="163.50" y2="410.00" stroke="#111" stroke-width="0.9"/>
<circle cx="152.00" cy="408.00" r="1.9" fill="#111"/>
<circle cx="157.70" cy="408.50" r="1.9" fill="#111"/>
<circle cx="161.60" cy="404.60" r="1.9" fill="#111"/>
<circle cx="154.00" cy="415.40" r="1.9" fill="#111"/>
<circle cx="159.00" cy="414.40" r="1.9" fill="#111"/>
<line x1="170.80" y1="409.00" x2="183.50" y2="409.00" stroke="#444" stroke-width="0.9"/>
<circle cx="174.70" cy="403.60" r="1.9" fill="#5a4848"/>
<circle cx="179.00" cy="404.60" r="1.9" fill="#5a4848"/>
<circle cx="171.80" cy="412.40" r="1.9" fill="#5a4848"/>
<circle cx="176.70" cy="413.40" r="1.9" fill="#5a4848"/>
<circle cx="181.60" cy="413.00" r="1.9" fill="#5a4848"/>
<text x="80.60" y="443.29" font-size="9.7" textLength="22.30" lengthAdjust="spacingAndGlyphs" fill="#1a1a1a" stroke="#1a1a1a" stroke-width="0.25">SORA</text>
<text x="57.50" y="454.69" font-size="9.7" fill="#1a1a1a" stroke="#1a1a1a" stroke-width="0.25" textLength="45.40" lengthAdjust="spacingAndGlyphs"><tspan font-style="italic">Sirt1</tspan> shRNA</text>
<text x="116.40" y="443.26" font-size="9.6" text-anchor="middle" fill="#1a1a1a" stroke="#1a1a1a" stroke-width="0.25">-</text>
<text x="136.60" y="443.26" font-size="9.6" text-anchor="middle" fill="#1a1a1a" stroke="#1a1a1a" stroke-width="0.25">+</text>
<text x="156.70" y="443.26" font-size="9.6" text-anchor="middle" fill="#1a1a1a" stroke="#1a1a1a" stroke-width="0.25">-</text>
<text x="176.70" y="443.26" font-size="9.6" text-anchor="middle" fill="#1a1a1a" stroke="#1a1a1a" stroke-width="0.25">+</text>
<text x="116.40" y="454.66" font-size="9.6" text-anchor="middle" fill="#1a1a1a" stroke="#1a1a1a" stroke-width="0.25">-</text>
<text x="136.60" y="454.66" font-size="9.6" text-anchor="middle" fill="#1a1a1a" stroke="#1a1a1a" stroke-width="0.25">-</text>
<text x="156.70" y="454.66" font-size="9.6" text-anchor="middle" fill="#1a1a1a" stroke="#1a1a1a" stroke-width="0.25">+</text>
<text x="176.70" y="454.66" font-size="9.6" text-anchor="middle" fill="#1a1a1a" stroke="#1a1a1a" stroke-width="0.25">+</text>
<line x1="106.30" y1="501.00" x2="106.30" y2="564.10" stroke="#333" stroke-width="0.9"/>
<line x1="105.90" y1="563.70" x2="185.00" y2="563.70" stroke="#333" stroke-width="0.9"/>
<line x1="104.30" y1="563.70" x2="106.30" y2="563.70" stroke="#333" stroke-width="0.8"/>
<text x="102.10" y="566.72" font-size="8.4" text-anchor="end" textLength="4.91" lengthAdjust="spacingAndGlyphs" fill="#1a1a1a" stroke="#1a1a1a" stroke-width="0.25">0</text>
<line x1="104.30" y1="548.12" x2="106.30" y2="548.12" stroke="#333" stroke-width="0.8"/>
<text x="102.10" y="551.15" font-size="8.4" text-anchor="end" textLength="4.91" lengthAdjust="spacingAndGlyphs" fill="#1a1a1a" stroke="#1a1a1a" stroke-width="0.25">1</text>
<line x1="104.30" y1="532.55" x2="106.30" y2="532.55" stroke="#333" stroke-width="0.8"/>
<text x="102.10" y="535.57" font-size="8.4" text-anchor="end" textLength="4.91" lengthAdjust="spacingAndGlyphs" fill="#1a1a1a" stroke="#1a1a1a" stroke-width="0.25">2</text>
<line x1="104.30" y1="516.98" x2="106.30" y2="516.98" stroke="#333" stroke-width="0.8"/>
<text x="102.10" y="520.00" font-size="8.4" text-anchor="end" textLength="4.91" lengthAdjust="spacingAndGlyphs" fill="#1a1a1a" stroke="#1a1a1a" stroke-width="0.25">3</text>
<line x1="104.30" y1="501.40" x2="106.30" y2="501.40" stroke="#333" stroke-width="0.8"/>
<text x="102.10" y="504.42" font-size="8.4" text-anchor="end" textLength="4.91" lengthAdjust="spacingAndGlyphs" fill="#1a1a1a" stroke="#1a1a1a" stroke-width="0.25">4</text>
<line x1="116.00" y1="563.70" x2="116.00" y2="565.30" stroke="#333" stroke-width="0.7"/>
<line x1="135.50" y1="563.70" x2="135.50" y2="565.30" stroke="#333" stroke-width="0.7"/>
<line x1="154.60" y1="563.70" x2="154.60" y2="565.30" stroke="#333" stroke-width="0.7"/>
<line x1="174.30" y1="563.70" x2="174.30" y2="565.30" stroke="#333" stroke-width="0.7"/>
<text x="137.20" y="478.79" font-size="9.7" textLength="18.70" lengthAdjust="spacingAndGlyphs" fill="#1a1a1a" stroke="#1a1a1a" stroke-width="0.25">Mice</text>
<text x="0" y="0" font-size="9" fill="#1a1a1a" stroke="#1a1a1a" stroke-width="0.25" textLength="32.60" lengthAdjust="spacingAndGlyphs" transform="translate(68.14 553.70) rotate(-90)">s-HBEGF</text>
<text x="0" y="0" font-size="9" fill="#1a1a1a" stroke="#1a1a1a" stroke-width="0.25" textLength="54.80" lengthAdjust="spacingAndGlyphs" transform="translate(79.54 563.40) rotate(-90)">concentration</text>
<text x="0" y="0" font-size="9" fill="#1a1a1a" stroke="#1a1a1a" stroke-width="0.25" textLength="29.10" lengthAdjust="spacingAndGlyphs" transform="translate(88.64 550.80) rotate(-90)">(ng/ml)</text>
<polyline points="116.00,504.20 116.00,501.80 135.50,501.80 135.50,504.20" fill="none" stroke="#333" stroke-width="0.8"/>
<text x="125.75" y="504.20" font-size="9.8" text-anchor="middle" fill="#1a1a1a" stroke="#1a1a1a" stroke-width="0.25">*</text>
<polyline points="135.50,494.70 135.50,492.30 173.70,492.30 173.70,494.70" fill="none" stroke="#333" stroke-width="0.8"/>
<text x="154.60" y="490.70" font-size="8.5" text-anchor="middle" textLength="12.33" lengthAdjust="spacingAndGlyphs" fill="#1a1a1a" stroke="#1a1a1a" stroke-width="0.25">n.s.</text>
<polyline points="154.60,504.20 154.60,501.80 173.70,501.80 173.70,504.20" fill="none" stroke="#333" stroke-width="0.8"/>
<text x="164.15" y="504.20" font-size="9.8" text-anchor="middle" fill="#1a1a1a" stroke="#1a1a1a" stroke-width="0.25">*</text>
<line x1="109.70" y1="548.40" x2="122.40" y2="548.40" stroke="#243a86" stroke-width="1.0"/>
<circle cx="116.00" cy="536.80" r="1.9" fill="#243a86"/>
<circle cx="116.00" cy="545.30" r="1.9" fill="#243a86"/>
<circle cx="117.70" cy="550.60" r="1.9" fill="#243a86"/>
<circle cx="114.30" cy="555.40" r="1.9" fill="#243a86"/>
<circle cx="117.70" cy="555.40" r="1.9" fill="#243a86"/>
<line x1="129.20" y1="530.00" x2="141.90" y2="530.00" stroke="#c4485a" stroke-width="1.0"/>
<circle cx="135.50" cy="510.30" r="1.9" fill="#a3282c"/>
<circle cx="135.50" cy="520.90" r="1.9" fill="#a3282c"/>
<circle cx="133.00" cy="536.10" r="1.9" fill="#a3282c"/>
<circle cx="137.20" cy="536.80" r="1.9" fill="#a3282c"/>
<circle cx="135.50" cy="546.30" r="1.9" fill="#a3282c"/>
<line x1="148.30" y1="548.40" x2="161.60" y2="548.40" stroke="#111" stroke-width="1.0"/>
<circle cx="153.10" cy="541.70" r="1.9" fill="#111"/>
<circle cx="156.30" cy="540.00" r="1.9" fill="#111"/>
<circle cx="156.30" cy="550.10" r="1.9" fill="#111"/>
<circle cx="153.10" cy="555.90" r="1.9" fill="#111"/>
<circle cx="156.70" cy="555.90" r="1.9" fill="#111"/>
<line x1="168.00" y1="532.50" x2="180.70" y2="532.50" stroke="#222" stroke-width="1.0"/>
<circle cx="172.20" cy="520.90" r="1.9" fill="#5a4848"/>
<circle cx="176.50" cy="522.60" r="1.9" fill="#5a4848"/>
<circle cx="174.30" cy="538.90" r="1.9" fill="#5a4848"/>
<circle cx="174.30" cy="544.80" r="1.9" fill="#5a4848"/>
<text x="80.80" y="576.99" font-size="9.7" textLength="20.80" lengthAdjust="spacingAndGlyphs" fill="#1a1a1a" stroke="#1a1a1a" stroke-width="0.25">SORA</text>
<text x="57.50" y="588.49" font-size="9.7" fill="#1a1a1a" stroke="#1a1a1a" stroke-width="0.25" textLength="44.10" lengthAdjust="spacingAndGlyphs"><tspan font-style="italic">Sirt1</tspan> shRNA</text>
<text x="116.00" y="576.96" font-size="9.6" text-anchor="middle" fill="#1a1a1a" stroke="#1a1a1a" stroke-width="0.25">-</text>
<text x="135.50" y="576.96" font-size="9.6" text-anchor="middle" fill="#1a1a1a" stroke="#1a1a1a" stroke-width="0.25">+</text>
<text x="154.60" y="576.96" font-size="9.6" text-anchor="middle" fill="#1a1a1a" stroke="#1a1a1a" stroke-width="0.25">-</text>
<text x="174.30" y="576.96" font-size="9.6" text-anchor="middle" fill="#1a1a1a" stroke="#1a1a1a" stroke-width="0.25">+</text>
<text x="116.00" y="588.46" font-size="9.6" text-anchor="middle" fill="#1a1a1a" stroke="#1a1a1a" stroke-width="0.25">-</text>
<text x="135.50" y="588.46" font-size="9.6" text-anchor="middle" fill="#1a1a1a" stroke="#1a1a1a" stroke-width="0.25">-</text>
<text x="154.60" y="588.46" font-size="9.6" text-anchor="middle" fill="#1a1a1a" stroke="#1a1a1a" stroke-width="0.25">+</text>
<text x="174.30" y="588.46" font-size="9.6" text-anchor="middle" fill="#1a1a1a" stroke="#1a1a1a" stroke-width="0.25">+</text>
<text x="426.30" y="256.83" font-size="9.8" textLength="19.20" lengthAdjust="spacingAndGlyphs" fill="#1a1a1a" stroke="#1a1a1a" stroke-width="0.25">Mice</text>
<line x1="333.00" y1="262.30" x2="539.40" y2="262.30" stroke="#4a4040" stroke-width="1.0"/>
<text x="317.00" y="276.03" font-size="9.8" textLength="41.00" lengthAdjust="spacingAndGlyphs" fill="#1a1a1a" stroke="#1a1a1a" stroke-width="0.25">scramble+</text>
<text x="321.00" y="287.33" font-size="9.8" textLength="32.40" lengthAdjust="spacingAndGlyphs" fill="#1a1a1a" stroke="#1a1a1a" stroke-width="0.25">CMC-Na</text>
<text x="381.30" y="276.03" font-size="9.8" textLength="41.70" lengthAdjust="spacingAndGlyphs" fill="#1a1a1a" stroke="#1a1a1a" stroke-width="0.25">scramble+</text>
<text x="391.00" y="287.33" font-size="9.8" textLength="22.40" lengthAdjust="spacingAndGlyphs" fill="#1a1a1a" stroke="#1a1a1a" stroke-width="0.25">SORA</text>
<text x="456.00" y="275.93" font-size="9.8" fill="#1a1a1a" stroke="#1a1a1a" stroke-width="0.25" textLength="27.60" lengthAdjust="spacingAndGlyphs">sh<tspan font-style="italic">Sirt1</tspan></text>
<text x="450.70" y="287.13" font-size="9.8" textLength="38.70" lengthAdjust="spacingAndGlyphs" fill="#1a1a1a" stroke="#1a1a1a" stroke-width="0.25">+CMC-Na</text>
<text x="523.30" y="275.93" font-size="9.8" fill="#1a1a1a" stroke="#1a1a1a" stroke-width="0.25" textLength="26.90" lengthAdjust="spacingAndGlyphs">sh<tspan font-style="italic">Sirt1</tspan></text>
<text x="523.00" y="287.13" font-size="9.8" textLength="28.00" lengthAdjust="spacingAndGlyphs" fill="#1a1a1a" stroke="#1a1a1a" stroke-width="0.25">+SORA</text>
<text x="281.70" y="327.38" font-size="9.4" textLength="16.10" lengthAdjust="spacingAndGlyphs" fill="#1a1a1a" stroke="#1a1a1a" stroke-width="0.25">H&amp;E</text>
<text x="279.00" y="392.38" font-size="9.4" textLength="19.50" lengthAdjust="spacingAndGlyphs" fill="#1a1a1a" stroke="#1a1a1a" stroke-width="0.25">KRT5</text>
<text x="278.80" y="458.68" font-size="9.4" textLength="19.70" lengthAdjust="spacingAndGlyphs" fill="#1a1a1a" stroke="#1a1a1a" stroke-width="0.25">KRT1</text>
<text x="260.50" y="522.18" font-size="9.4" textLength="38.00" lengthAdjust="spacingAndGlyphs" fill="#1a1a1a" stroke="#1a1a1a" stroke-width="0.25">LORICRIN</text>
<text x="278.80" y="588.38" font-size="9.4" textLength="19.70" lengthAdjust="spacingAndGlyphs" fill="#1a1a1a" stroke="#1a1a1a" stroke-width="0.25">SIRT1</text>
<clipPath id="tc1"><rect x="305.5" y="292.8" width="58.0" height="58.0"/></clipPath><g clip-path="url(#tc1)">
<rect x="305.5" y="292.8" width="58.0" height="58.0" fill="#d2d3ce"/>
<polygon points="304.5,310.4 308.8,310.4 313.1,310.3 317.4,310.3 321.6,310.2 325.9,310.2 330.2,310.1 334.5,310.1 338.8,310.1 343.1,310.0 347.4,310.0 351.6,309.9 355.9,309.9 360.2,309.8 364.5,309.8 365.5,352.8 303.5,352.8" fill="#d3c3cb"/>
<polygon points="304.5,320.8 308.8,320.7 313.1,320.6 317.4,320.5 321.6,320.4 325.9,320.3 330.2,320.3 334.5,320.3 338.8,320.3 343.1,320.3 347.4,320.4 351.6,320.5 355.9,320.6 360.2,320.7 364.5,320.8 365.5,352.8 303.5,352.8" fill="#8e2e74"/>
<polyline points="304.5,313.8 308.8,313.8 313.1,313.8 317.4,313.8 321.6,313.8 325.9,313.8 330.2,313.8 334.5,313.8 338.8,313.8 343.1,313.8 347.4,313.8 351.6,313.8 355.9,313.8 360.2,313.8 364.5,313.8" fill="none" stroke="#b8a8b0" stroke-width="0.7" stroke-opacity="0.6"/>
<circle cx="324.3" cy="327.0" r="0.8" fill="#5c1c62" fill-opacity="0.75"/>
<circle cx="343.3" cy="324.8" r="0.8" fill="#5c1c62" fill-opacity="0.75"/>
<circle cx="336.6" cy="333.0" r="0.8" fill="#5c1c62" fill-opacity="0.75"/>
<circle cx="308.9" cy="337.0" r="0.8" fill="#5c1c62" fill-opacity="0.75"/>
<circle cx="307.7" cy="334.9" r="0.8" fill="#5c1c62" fill-opacity="0.75"/>
<circle cx="309.6" cy="325.3" r="0.8" fill="#5c1c62" fill-opacity="0.75"/>
<circle cx="330.1" cy="346.0" r="0.8" fill="#5c1c62" fill-opacity="0.75"/>
<circle cx="312.7" cy="329.1" r="0.8" fill="#5c1c62" fill-opacity="0.75"/>
<circle cx="341.9" cy="349.3" r="0.8" fill="#5c1c62" fill-opacity="0.75"/>
<circle cx="339.0" cy="333.9" r="0.8" fill="#5c1c62" fill-opacity="0.75"/>
<circle cx="362.1" cy="324.1" r="0.8" fill="#5c1c62" fill-opacity="0.75"/>
<circle cx="355.3" cy="330.9" r="0.8" fill="#5c1c62" fill-opacity="0.75"/>
<circle cx="313.9" cy="326.1" r="0.8" fill="#5c1c62" fill-opacity="0.75"/>
<circle cx="323.4" cy="345.7" r="0.8" fill="#5c1c62" fill-opacity="0.75"/>
<circle cx="316.0" cy="339.1" r="0.8" fill="#5c1c62" fill-opacity="0.75"/>
<circle cx="342.6" cy="333.2" r="0.8" fill="#5c1c62" fill-opacity="0.75"/>
<circle cx="337.3" cy="324.6" r="0.8" fill="#5c1c62" fill-opacity="0.75"/>
<circle cx="309.0" cy="328.6" r="0.8" fill="#5c1c62" fill-opacity="0.75"/>
<circle cx="345.0" cy="334.8" r="0.8" fill="#5c1c62" fill-opacity="0.75"/>
<circle cx="323.7" cy="339.2" r="0.8" fill="#5c1c62" fill-opacity="0.75"/>
<circle cx="331.8" cy="331.2" r="0.8" fill="#5c1c62" fill-opacity="0.75"/>
<circle cx="351.6" cy="342.4" r="0.8" fill="#5c1c62" fill-opacity="0.75"/>
<circle cx="319.7" cy="338.9" r="0.8" fill="#5c1c62" fill-opacity="0.75"/>
<circle cx="336.0" cy="347.3" r="0.8" fill="#5c1c62" fill-opacity="0.75"/>
<circle cx="347.8" cy="330.9" r="0.8" fill="#5c1c62" fill-opacity="0.75"/>
<circle cx="362.4" cy="326.1" r="0.8" fill="#5c1c62" fill-opacity="0.75"/>
<circle cx="329.8" cy="344.0" r="0.8" fill="#5c1c62" fill-opacity="0.75"/>
<circle cx="314.3" cy="336.5" r="0.8" fill="#5c1c62" fill-opacity="0.75"/>
<circle cx="307.8" cy="341.5" r="0.8" fill="#5c1c62" fill-opacity="0.75"/>
<circle cx="349.8" cy="338.8" r="0.8" fill="#5c1c62" fill-opacity="0.75"/>
<circle cx="356.3" cy="331.6" r="0.8" fill="#5c1c62" fill-opacity="0.75"/>
<circle cx="345.8" cy="339.4" r="0.8" fill="#5c1c62" fill-opacity="0.75"/>
<circle cx="339.1" cy="335.6" r="0.8" fill="#5c1c62" fill-opacity="0.75"/>
<circle cx="354.2" cy="349.3" r="0.8" fill="#5c1c62" fill-opacity="0.75"/>
<circle cx="333.0" cy="341.4" r="0.8" fill="#5c1c62" fill-opacity="0.75"/>
<circle cx="309.0" cy="342.4" r="0.8" fill="#5c1c62" fill-opacity="0.75"/>
<circle cx="343.0" cy="350.6" r="0.8" fill="#5c1c62" fill-opacity="0.75"/>
<circle cx="353.2" cy="330.8" r="0.8" fill="#5c1c62" fill-opacity="0.75"/>
<circle cx="327.9" cy="341.5" r="0.8" fill="#5c1c62" fill-opacity="0.75"/>
<circle cx="306.8" cy="335.7" r="0.8" fill="#5c1c62" fill-opacity="0.75"/>
<circle cx="315.2" cy="326.1" r="0.8" fill="#5c1c62" fill-opacity="0.75"/>
<circle cx="308.9" cy="344.3" r="0.8" fill="#5c1c62" fill-opacity="0.75"/>
<circle cx="313.0" cy="329.7" r="0.8" fill="#5c1c62" fill-opacity="0.75"/>
<circle cx="328.2" cy="347.2" r="0.8" fill="#5c1c62" fill-opacity="0.75"/>
<circle cx="310.2" cy="335.4" r="0.8" fill="#5c1c62" fill-opacity="0.75"/>
<circle cx="337.4" cy="347.5" r="0.8" fill="#5c1c62" fill-opacity="0.75"/>
<circle cx="353.0" cy="347.0" r="0.8" fill="#5c1c62" fill-opacity="0.75"/>
<circle cx="321.6" cy="334.4" r="0.8" fill="#5c1c62" fill-opacity="0.75"/>
<circle cx="326.3" cy="347.6" r="0.8" fill="#5c1c62" fill-opacity="0.75"/>
<circle cx="361.0" cy="327.0" r="0.8" fill="#5c1c62" fill-opacity="0.75"/>
<circle cx="315.7" cy="329.3" r="0.8" fill="#5c1c62" fill-opacity="0.75"/>
<circle cx="319.0" cy="336.4" r="0.8" fill="#5c1c62" fill-opacity="0.75"/>
<circle cx="339.7" cy="330.2" r="0.8" fill="#5c1c62" fill-opacity="0.75"/>
<circle cx="305.7" cy="334.5" r="0.8" fill="#5c1c62" fill-opacity="0.75"/>
<circle cx="326.9" cy="338.7" r="0.8" fill="#5c1c62" fill-opacity="0.75"/>
<circle cx="360.8" cy="342.1" r="0.8" fill="#5c1c62" fill-opacity="0.75"/>
<circle cx="335.4" cy="340.1" r="0.8" fill="#5c1c62" fill-opacity="0.75"/>
<circle cx="344.7" cy="324.3" r="0.8" fill="#5c1c62" fill-opacity="0.75"/>
<circle cx="357.7" cy="344.6" r="0.8" fill="#5c1c62" fill-opacity="0.75"/>
<circle cx="356.2" cy="345.1" r="0.8" fill="#5c1c62" fill-opacity="0.75"/>
<circle cx="328.3" cy="334.0" r="0.8" fill="#5c1c62" fill-opacity="0.75"/>
<circle cx="311.5" cy="340.6" r="0.8" fill="#5c1c62" fill-opacity="0.75"/>
<circle cx="309.1" cy="324.7" r="0.8" fill="#5c1c62" fill-opacity="0.75"/>
<circle cx="317.6" cy="327.3" r="0.8" fill="#5c1c62" fill-opacity="0.75"/>
<circle cx="325.2" cy="324.3" r="0.8" fill="#5c1c62" fill-opacity="0.75"/>
<circle cx="305.5" cy="327.0" r="0.8" fill="#5c1c62" fill-opacity="0.75"/>
<circle cx="311.4" cy="333.0" r="0.8" fill="#5c1c62" fill-opacity="0.75"/>
<circle cx="307.0" cy="347.3" r="0.8" fill="#5c1c62" fill-opacity="0.75"/>
<circle cx="341.1" cy="327.0" r="0.8" fill="#5c1c62" fill-opacity="0.75"/>
<circle cx="320.1" cy="332.5" r="0.8" fill="#5c1c62" fill-opacity="0.75"/>
<circle cx="326.6" cy="326.2" r="0.8" fill="#5c1c62" fill-opacity="0.75"/>
<circle cx="354.7" cy="350.6" r="0.8" fill="#5c1c62" fill-opacity="0.75"/>
<circle cx="332.5" cy="336.3" r="0.8" fill="#5c1c62" fill-opacity="0.75"/>
<circle cx="310.5" cy="325.7" r="0.8" fill="#5c1c62" fill-opacity="0.75"/>
<circle cx="325.4" cy="330.2" r="0.8" fill="#5c1c62" fill-opacity="0.75"/>
<circle cx="353.6" cy="327.3" r="0.8" fill="#5c1c62" fill-opacity="0.75"/>
<circle cx="306.8" cy="349.4" r="0.8" fill="#5c1c62" fill-opacity="0.75"/>
<circle cx="336.1" cy="326.9" r="0.8" fill="#5c1c62" fill-opacity="0.75"/>
<circle cx="337.0" cy="323.6" r="0.8" fill="#5c1c62" fill-opacity="0.75"/>
<circle cx="336.1" cy="350.2" r="0.8" fill="#5c1c62" fill-opacity="0.75"/>
<circle cx="355.6" cy="342.3" r="0.8" fill="#5c1c62" fill-opacity="0.75"/>
<circle cx="320.6" cy="333.1" r="0.8" fill="#5c1c62" fill-opacity="0.75"/>
<circle cx="315.2" cy="344.4" r="0.8" fill="#5c1c62" fill-opacity="0.75"/>
<circle cx="336.4" cy="344.6" r="0.8" fill="#5c1c62" fill-opacity="0.75"/>
<circle cx="324.6" cy="329.0" r="0.8" fill="#5c1c62" fill-opacity="0.75"/>
<circle cx="352.6" cy="350.4" r="0.8" fill="#5c1c62" fill-opacity="0.75"/>
<circle cx="355.0" cy="345.4" r="0.8" fill="#5c1c62" fill-opacity="0.75"/>
<circle cx="353.0" cy="343.5" r="0.8" fill="#5c1c62" fill-opacity="0.75"/>
<circle cx="318.7" cy="337.3" r="0.8" fill="#5c1c62" fill-opacity="0.75"/>
<circle cx="326.1" cy="323.6" r="0.8" fill="#5c1c62" fill-opacity="0.75"/>
<circle cx="307.1" cy="330.6" r="0.8" fill="#5c1c62" fill-opacity="0.75"/>
<circle cx="320.5" cy="342.2" r="0.8" fill="#5c1c62" fill-opacity="0.75"/>
<circle cx="361.0" cy="335.3" r="0.8" fill="#5c1c62" fill-opacity="0.75"/>
<circle cx="359.8" cy="350.5" r="0.8" fill="#5c1c62" fill-opacity="0.75"/>
<circle cx="360.9" cy="333.0" r="0.8" fill="#5c1c62" fill-opacity="0.75"/>
<circle cx="318.3" cy="329.2" r="0.8" fill="#5c1c62" fill-opacity="0.75"/>
<circle cx="316.9" cy="328.5" r="0.8" fill="#5c1c62" fill-opacity="0.75"/>
<circle cx="341.7" cy="348.0" r="0.8" fill="#5c1c62" fill-opacity="0.75"/>
<circle cx="354.2" cy="336.2" r="0.8" fill="#5c1c62" fill-opacity="0.75"/>
<circle cx="343.4" cy="345.2" r="0.8" fill="#5c1c62" fill-opacity="0.75"/>
<circle cx="310.4" cy="341.3" r="0.8" fill="#5c1c62" fill-opacity="0.75"/>
<circle cx="358.3" cy="344.7" r="0.8" fill="#5c1c62" fill-opacity="0.75"/>
<circle cx="349.0" cy="336.2" r="0.8" fill="#5c1c62" fill-opacity="0.75"/>
<circle cx="315.9" cy="344.9" r="0.8" fill="#5c1c62" fill-opacity="0.75"/>
<circle cx="324.8" cy="345.2" r="0.8" fill="#5c1c62" fill-opacity="0.75"/>
<circle cx="361.9" cy="333.9" r="0.8" fill="#5c1c62" fill-opacity="0.75"/>
<circle cx="328.8" cy="349.3" r="0.8" fill="#5c1c62" fill-opacity="0.75"/>
<circle cx="347.5" cy="327.6" r="0.8" fill="#5c1c62" fill-opacity="0.75"/>
<circle cx="312.9" cy="327.0" r="0.8" fill="#5c1c62" fill-opacity="0.75"/>
<circle cx="358.0" cy="345.4" r="0.8" fill="#5c1c62" fill-opacity="0.75"/>
<circle cx="314.0" cy="345.9" r="0.8" fill="#5c1c62" fill-opacity="0.75"/>
<circle cx="362.4" cy="341.2" r="0.8" fill="#5c1c62" fill-opacity="0.75"/>
<circle cx="325.8" cy="338.2" r="0.8" fill="#5c1c62" fill-opacity="0.75"/>
<circle cx="313.1" cy="323.2" r="0.8" fill="#5c1c62" fill-opacity="0.75"/>
<circle cx="361.8" cy="341.0" r="0.8" fill="#5c1c62" fill-opacity="0.75"/>
<circle cx="336.0" cy="348.9" r="0.8" fill="#5c1c62" fill-opacity="0.75"/>
<circle cx="330.7" cy="347.2" r="0.8" fill="#5c1c62" fill-opacity="0.75"/>
<circle cx="353.4" cy="328.7" r="0.8" fill="#5c1c62" fill-opacity="0.75"/>
<circle cx="320.1" cy="331.0" r="0.8" fill="#5c1c62" fill-opacity="0.75"/>
<circle cx="319.5" cy="339.2" r="0.8" fill="#5c1c62" fill-opacity="0.75"/>
<circle cx="320.5" cy="334.5" r="0.8" fill="#5c1c62" fill-opacity="0.75"/>
<circle cx="313.1" cy="348.3" r="0.8" fill="#5c1c62" fill-opacity="0.75"/>
<circle cx="326.0" cy="335.6" r="0.8" fill="#5c1c62" fill-opacity="0.75"/>
<circle cx="339.3" cy="348.1" r="0.8" fill="#5c1c62" fill-opacity="0.75"/>
<circle cx="329.9" cy="348.5" r="0.8" fill="#5c1c62" fill-opacity="0.75"/>
<circle cx="334.6" cy="337.7" r="0.8" fill="#5c1c62" fill-opacity="0.75"/>
<circle cx="335.9" cy="323.3" r="0.8" fill="#5c1c62" fill-opacity="0.75"/>
<circle cx="331.0" cy="327.9" r="0.8" fill="#5c1c62" fill-opacity="0.75"/>
<circle cx="305.7" cy="345.2" r="0.8" fill="#5c1c62" fill-opacity="0.75"/>
<circle cx="315.5" cy="336.1" r="0.8" fill="#5c1c62" fill-opacity="0.75"/>
<circle cx="347.6" cy="338.4" r="0.8" fill="#5c1c62" fill-opacity="0.75"/>
<circle cx="324.4" cy="337.3" r="0.8" fill="#5c1c62" fill-opacity="0.75"/>
<circle cx="337.7" cy="344.8" r="0.8" fill="#5c1c62" fill-opacity="0.75"/>
<circle cx="311.7" cy="338.5" r="0.8" fill="#5c1c62" fill-opacity="0.75"/>
<circle cx="319.9" cy="330.6" r="0.8" fill="#5c1c62" fill-opacity="0.75"/>
<circle cx="350.3" cy="337.0" r="0.8" fill="#5c1c62" fill-opacity="0.75"/>
<circle cx="338.1" cy="344.1" r="0.8" fill="#5c1c62" fill-opacity="0.75"/>
<circle cx="358.4" cy="335.2" r="0.8" fill="#5c1c62" fill-opacity="0.75"/>
<circle cx="341.0" cy="337.0" r="0.8" fill="#5c1c62" fill-opacity="0.75"/>
<circle cx="335.2" cy="342.2" r="0.8" fill="#5c1c62" fill-opacity="0.75"/>
<circle cx="331.7" cy="337.7" r="0.8" fill="#5c1c62" fill-opacity="0.75"/>
<circle cx="333.2" cy="349.2" r="0.8" fill="#5c1c62" fill-opacity="0.75"/>
<circle cx="346.1" cy="347.3" r="0.8" fill="#5c1c62" fill-opacity="0.75"/>
<circle cx="360.1" cy="330.1" r="0.8" fill="#5c1c62" fill-opacity="0.75"/>
<circle cx="338.0" cy="349.2" r="0.8" fill="#5c1c62" fill-opacity="0.75"/>
<circle cx="354.2" cy="326.6" r="0.8" fill="#5c1c62" fill-opacity="0.75"/>
<circle cx="312.6" cy="335.2" r="0.8" fill="#5c1c62" fill-opacity="0.75"/>
<circle cx="309.7" cy="329.5" r="0.8" fill="#5c1c62" fill-opacity="0.75"/>
<circle cx="309.7" cy="341.5" r="0.8" fill="#5c1c62" fill-opacity="0.75"/>
<circle cx="351.0" cy="347.9" r="0.8" fill="#5c1c62" fill-opacity="0.75"/>
<polygon points="304.5,350.8 311.5,346.8 319.5,347.8 323.5,343.8 327.5,346.8 335.5,348.8 341.5,344.8 345.5,348.8 353.5,347.8 364.5,349.8 364.5,352.8 304.5,352.8" fill="#c98aa8" fill-opacity="0.9"/>
<polygon points="319.5,350.8 321.5,344.8 323.5,341.8 325.5,345.8 327.5,350.8" fill="#e0b8c8" fill-opacity="0.9"/>
<circle cx="314.5" cy="337.7" r="0.8" fill="#e8c0d0" fill-opacity="0.7"/>
<circle cx="343.8" cy="327.4" r="0.8" fill="#e8c0d0" fill-opacity="0.7"/>
<circle cx="356.7" cy="342.2" r="0.8" fill="#e8c0d0" fill-opacity="0.7"/>
<circle cx="318.2" cy="341.9" r="0.8" fill="#e8c0d0" fill-opacity="0.7"/>
<circle cx="328.6" cy="333.6" r="0.8" fill="#e8c0d0" fill-opacity="0.7"/>
<circle cx="362.9" cy="339.8" r="0.8" fill="#e8c0d0" fill-opacity="0.7"/>
<circle cx="314.9" cy="332.6" r="0.8" fill="#e8c0d0" fill-opacity="0.7"/>
<circle cx="335.4" cy="330.9" r="0.8" fill="#e8c0d0" fill-opacity="0.7"/>
<circle cx="316.9" cy="330.5" r="0.8" fill="#e8c0d0" fill-opacity="0.7"/>
<circle cx="347.4" cy="325.2" r="0.8" fill="#e8c0d0" fill-opacity="0.7"/>
<circle cx="337.6" cy="332.7" r="0.8" fill="#e8c0d0" fill-opacity="0.7"/>
<circle cx="306.5" cy="330.8" r="0.8" fill="#e8c0d0" fill-opacity="0.7"/>
<circle cx="341.7" cy="334.0" r="0.8" fill="#e8c0d0" fill-opacity="0.7"/>
<circle cx="309.2" cy="342.5" r="0.8" fill="#e8c0d0" fill-opacity="0.7"/>
<circle cx="351.2" cy="342.3" r="0.8" fill="#e8c0d0" fill-opacity="0.7"/>
<circle cx="311.6" cy="329.6" r="0.8" fill="#e8c0d0" fill-opacity="0.7"/>
<circle cx="307.8" cy="338.8" r="0.8" fill="#e8c0d0" fill-opacity="0.7"/>
<circle cx="321.2" cy="327.1" r="0.8" fill="#e8c0d0" fill-opacity="0.7"/>
<line x1="333.3" y1="309.8" x2="333.3" y2="320.8" stroke="#1a1a1a" stroke-width="0.9"/>
<polyline points="304.5,310.4 308.8,310.4 313.1,310.3 317.4,310.3 321.6,310.2 325.9,310.2 330.2,310.1 334.5,310.1 338.8,310.1 343.1,310.0 347.4,310.0 351.6,309.9 355.9,309.9 360.2,309.8 364.5,309.8" fill="none" stroke="#fbfbf6" stroke-width="1.1"/>
</g>
<clipPath id="tc2"><rect x="373.2" y="292.8" width="58.0" height="58.0"/></clipPath><g clip-path="url(#tc2)">
<rect x="373.2" y="292.8" width="58.0" height="58.0" fill="#d3d4cf"/>
<polygon points="372.2,310.1 376.5,308.9 380.8,307.9 385.1,307.0 389.3,306.3 393.6,305.7 397.9,305.3 402.2,305.0 406.5,304.9 410.8,304.9 415.1,305.1 419.3,305.5 423.6,306.0 427.9,306.7 432.2,307.5 433.2,352.8 371.2,352.8" fill="#d27aa8"/>
<polygon points="372.2,313.6 376.5,312.4 380.8,311.4 385.1,310.5 389.3,309.7 393.6,309.1 397.9,308.6 402.2,308.3 406.5,308.1 410.8,308.1 415.1,308.2 419.3,308.4 423.6,308.8 427.9,309.3 432.2,310.0 433.2,352.8 371.2,352.8" fill="#e0d2da"/>
<polygon points="372.2,335.5 376.5,334.7 380.8,334.1 385.1,333.5 389.3,333.1 393.6,332.7 397.9,332.5 402.2,332.3 406.5,332.2 410.8,332.3 415.1,332.4 419.3,332.6 423.6,333.0 427.9,333.4 432.2,333.9 433.2,352.8 371.2,352.8" fill="#842a6a"/>
<polyline points="372.2,320.9 376.5,320.4 380.8,319.9 385.1,319.5 389.3,319.2 393.6,319.0 397.9,318.8 402.2,318.8 406.5,318.8 410.8,319.0 415.1,319.2 419.3,319.5 423.6,319.9 427.9,320.4 432.2,320.9" fill="none" stroke="#d8a0c0" stroke-width="1.6" stroke-opacity="0.7"/>
<polyline points="372.2,325.9 376.5,325.4 380.8,325.0 385.1,324.6 389.3,324.3 393.6,324.1 397.9,323.9 402.2,323.8 406.5,323.8 410.8,323.8 415.1,323.9 419.3,324.0 423.6,324.2 427.9,324.5 432.2,324.9" fill="none" stroke="#d8a8c4" stroke-width="1.0" stroke-opacity="0.5"/>
<circle cx="397.7" cy="349.4" r="0.75" fill="#50144e" fill-opacity="0.75"/>
<circle cx="420.7" cy="338.9" r="0.75" fill="#50144e" fill-opacity="0.75"/>
<circle cx="381.9" cy="349.5" r="0.75" fill="#50144e" fill-opacity="0.75"/>
<circle cx="406.3" cy="346.0" r="0.75" fill="#50144e" fill-opacity="0.75"/>
<circle cx="378.4" cy="335.7" r="0.75" fill="#50144e" fill-opacity="0.75"/>
<circle cx="413.1" cy="341.6" r="0.75" fill="#50144e" fill-opacity="0.75"/>
<circle cx="377.4" cy="349.8" r="0.75" fill="#50144e" fill-opacity="0.75"/>
<circle cx="410.0" cy="347.6" r="0.75" fill="#50144e" fill-opacity="0.75"/>
<circle cx="378.1" cy="348.5" r="0.75" fill="#50144e" fill-opacity="0.75"/>
<circle cx="377.1" cy="348.6" r="0.75" fill="#50144e" fill-opacity="0.75"/>
<circle cx="399.5" cy="340.2" r="0.75" fill="#50144e" fill-opacity="0.75"/>
<circle cx="405.3" cy="349.6" r="0.75" fill="#50144e" fill-opacity="0.75"/>
<circle cx="388.7" cy="336.9" r="0.75" fill="#50144e" fill-opacity="0.75"/>
<circle cx="403.8" cy="338.6" r="0.75" fill="#50144e" fill-opacity="0.75"/>
<circle cx="379.5" cy="337.4" r="0.75" fill="#50144e" fill-opacity="0.75"/>
<circle cx="376.1" cy="338.0" r="0.75" fill="#50144e" fill-opacity="0.75"/>
<circle cx="391.3" cy="339.7" r="0.75" fill="#50144e" fill-opacity="0.75"/>
<circle cx="417.3" cy="339.4" r="0.75" fill="#50144e" fill-opacity="0.75"/>
<circle cx="402.2" cy="337.6" r="0.75" fill="#50144e" fill-opacity="0.75"/>
<circle cx="393.3" cy="335.1" r="0.75" fill="#50144e" fill-opacity="0.75"/>
<circle cx="387.7" cy="335.0" r="0.75" fill="#50144e" fill-opacity="0.75"/>
<circle cx="415.7" cy="343.6" r="0.75" fill="#50144e" fill-opacity="0.75"/>
<circle cx="384.2" cy="342.4" r="0.75" fill="#50144e" fill-opacity="0.75"/>
<circle cx="427.4" cy="336.5" r="0.75" fill="#50144e" fill-opacity="0.75"/>
<circle cx="420.7" cy="341.7" r="0.75" fill="#50144e" fill-opacity="0.75"/>
<circle cx="401.9" cy="348.2" r="0.75" fill="#50144e" fill-opacity="0.75"/>
<circle cx="396.0" cy="342.9" r="0.75" fill="#50144e" fill-opacity="0.75"/>
<circle cx="413.1" cy="350.5" r="0.75" fill="#50144e" fill-opacity="0.75"/>
<circle cx="393.1" cy="348.1" r="0.75" fill="#50144e" fill-opacity="0.75"/>
<circle cx="414.2" cy="345.0" r="0.75" fill="#50144e" fill-opacity="0.75"/>
<circle cx="396.7" cy="340.4" r="0.75" fill="#50144e" fill-opacity="0.75"/>
<circle cx="376.4" cy="336.9" r="0.75" fill="#50144e" fill-opacity="0.75"/>
<circle cx="377.3" cy="346.7" r="0.75" fill="#50144e" fill-opacity="0.75"/>
<circle cx="388.0" cy="337.4" r="0.75" fill="#50144e" fill-opacity="0.75"/>
<circle cx="378.1" cy="348.3" r="0.75" fill="#50144e" fill-opacity="0.75"/>
<circle cx="423.7" cy="345.5" r="0.75" fill="#50144e" fill-opacity="0.75"/>
<circle cx="389.6" cy="338.7" r="0.75" fill="#50144e" fill-opacity="0.75"/>
<circle cx="390.2" cy="342.2" r="0.75" fill="#50144e" fill-opacity="0.75"/>
<circle cx="382.3" cy="341.9" r="0.75" fill="#50144e" fill-opacity="0.75"/>
<circle cx="388.5" cy="350.2" r="0.75" fill="#50144e" fill-opacity="0.75"/>
<circle cx="429.6" cy="343.6" r="0.75" fill="#50144e" fill-opacity="0.75"/>
<circle cx="387.4" cy="350.3" r="0.75" fill="#50144e" fill-opacity="0.75"/>
<circle cx="391.2" cy="340.5" r="0.75" fill="#50144e" fill-opacity="0.75"/>
<circle cx="373.3" cy="340.9" r="0.75" fill="#50144e" fill-opacity="0.75"/>
<circle cx="400.7" cy="342.8" r="0.75" fill="#50144e" fill-opacity="0.75"/>
<circle cx="384.9" cy="342.9" r="0.75" fill="#50144e" fill-opacity="0.75"/>
<circle cx="373.5" cy="339.0" r="0.75" fill="#50144e" fill-opacity="0.75"/>
<circle cx="378.4" cy="341.2" r="0.75" fill="#50144e" fill-opacity="0.75"/>
<circle cx="375.6" cy="335.2" r="0.75" fill="#50144e" fill-opacity="0.75"/>
<circle cx="390.8" cy="338.5" r="0.75" fill="#50144e" fill-opacity="0.75"/>
<circle cx="407.2" cy="343.3" r="0.75" fill="#50144e" fill-opacity="0.75"/>
<circle cx="416.7" cy="345.3" r="0.75" fill="#50144e" fill-opacity="0.75"/>
<circle cx="414.7" cy="348.9" r="0.75" fill="#50144e" fill-opacity="0.75"/>
<circle cx="395.8" cy="340.0" r="0.75" fill="#50144e" fill-opacity="0.75"/>
<circle cx="430.3" cy="337.2" r="0.75" fill="#50144e" fill-opacity="0.75"/>
<circle cx="415.2" cy="345.1" r="0.75" fill="#50144e" fill-opacity="0.75"/>
<circle cx="375.7" cy="348.2" r="0.75" fill="#50144e" fill-opacity="0.75"/>
<circle cx="424.9" cy="344.8" r="0.75" fill="#50144e" fill-opacity="0.75"/>
<circle cx="415.8" cy="347.8" r="0.75" fill="#50144e" fill-opacity="0.75"/>
<circle cx="381.3" cy="343.2" r="0.75" fill="#50144e" fill-opacity="0.75"/>
<circle cx="402.5" cy="348.2" r="0.75" fill="#50144e" fill-opacity="0.75"/>
<circle cx="419.9" cy="348.0" r="0.75" fill="#50144e" fill-opacity="0.75"/>
<circle cx="407.1" cy="349.1" r="0.75" fill="#50144e" fill-opacity="0.75"/>
<circle cx="412.8" cy="345.9" r="0.75" fill="#50144e" fill-opacity="0.75"/>
<circle cx="386.5" cy="335.3" r="0.75" fill="#50144e" fill-opacity="0.75"/>
<circle cx="380.9" cy="340.6" r="0.75" fill="#50144e" fill-opacity="0.75"/>
<circle cx="379.3" cy="348.2" r="0.75" fill="#50144e" fill-opacity="0.75"/>
<circle cx="405.6" cy="344.8" r="0.75" fill="#50144e" fill-opacity="0.75"/>
<circle cx="409.5" cy="345.7" r="0.75" fill="#50144e" fill-opacity="0.75"/>
<circle cx="401.6" cy="334.9" r="0.75" fill="#50144e" fill-opacity="0.75"/>
<line x1="399.5" y1="305.4" x2="399.5" y2="332.6" stroke="#1a1a1a" stroke-width="0.9"/>
<polyline points="372.2,310.1 376.5,308.9 380.8,307.9 385.1,307.0 389.3,306.3 393.6,305.7 397.9,305.3 402.2,305.0 406.5,304.9 410.8,304.9 415.1,305.1 419.3,305.5 423.6,306.0 427.9,306.7 432.2,307.5" fill="none" stroke="#fbfbf6" stroke-width="1.1"/>
</g>
<clipPath id="tc3"><rect x="440.0" y="292.8" width="58.0" height="58.0"/></clipPath><g clip-path="url(#tc3)">
<rect x="440.0" y="292.8" width="58.0" height="58.0" fill="#d4d5d0"/>
<polygon points="439.0,316.4 443.3,314.7 447.6,313.1 451.9,311.9 456.1,310.9 460.4,310.1 464.7,309.6 469.0,309.3 473.3,309.3 477.6,309.5 481.9,310.0 486.1,310.7 490.4,311.7 494.7,313.0 499.0,314.5 500.0,352.8 438.0,352.8" fill="#e0dade"/>
<polygon points="439.0,327.0 443.3,325.4 447.6,324.1 451.9,322.9 456.1,322.1 460.4,321.4 464.7,321.0 469.0,320.8 473.3,320.8 477.6,321.1 481.9,321.6 486.1,322.4 490.4,323.3 494.7,324.5 499.0,326.0 500.0,352.8 438.0,352.8" fill="#922f78"/>
<polyline points="439.0,327.5 443.3,325.9 447.6,324.6 451.9,323.4 456.1,322.6 460.4,321.9 464.7,321.5 469.0,321.3 473.3,321.3 477.6,321.6 481.9,322.1 486.1,322.9 490.4,323.8 494.7,325.0 499.0,326.5" fill="none" stroke="#7a2a6a" stroke-width="1.2" stroke-opacity="0.8"/>
<polyline points="439.0,320.3 443.3,318.4 447.6,316.8 451.9,315.4 456.1,314.4 460.4,313.6 464.7,313.0 469.0,312.8 473.3,312.8 477.6,313.1 481.9,313.7 486.1,314.5 490.4,315.7 494.7,317.0 499.0,318.7" fill="none" stroke="#b8b0b4" stroke-width="0.7" stroke-opacity="0.8"/>
<polyline points="439.0,323.2 443.3,321.5 447.6,319.9 451.9,318.7 456.1,317.7 460.4,317.0 464.7,316.5 469.0,316.3 473.3,316.4 477.6,316.7 481.9,317.3 486.1,318.1 490.4,319.2 494.7,320.6 499.0,322.2" fill="none" stroke="#b8b0b4" stroke-width="0.7" stroke-opacity="0.7"/>
<polyline points="439.0,325.7 443.3,324.0 447.6,322.4 451.9,321.2 456.1,320.2 460.4,319.5 464.7,319.0 469.0,318.8 473.3,318.9 477.6,319.2 481.9,319.8 486.1,320.6 490.4,321.7 494.7,323.1 499.0,324.7" fill="none" stroke="#b8b0b4" stroke-width="0.6" stroke-opacity="0.5"/>
<circle cx="486.3" cy="343.8" r="0.8" fill="#ecd0e4" fill-opacity="0.8"/>
<circle cx="469.2" cy="337.8" r="0.8" fill="#ecd0e4" fill-opacity="0.8"/>
<circle cx="478.2" cy="324.6" r="0.8" fill="#ecd0e4" fill-opacity="0.8"/>
<circle cx="482.7" cy="329.9" r="0.8" fill="#ecd0e4" fill-opacity="0.8"/>
<circle cx="444.3" cy="330.2" r="0.8" fill="#ecd0e4" fill-opacity="0.8"/>
<circle cx="482.3" cy="328.5" r="0.8" fill="#ecd0e4" fill-opacity="0.8"/>
<circle cx="482.9" cy="350.1" r="0.8" fill="#ecd0e4" fill-opacity="0.8"/>
<circle cx="468.6" cy="333.5" r="0.8" fill="#ecd0e4" fill-opacity="0.8"/>
<circle cx="467.8" cy="341.9" r="0.8" fill="#ecd0e4" fill-opacity="0.8"/>
<circle cx="484.5" cy="340.1" r="0.8" fill="#ecd0e4" fill-opacity="0.8"/>
<circle cx="477.3" cy="325.0" r="0.8" fill="#ecd0e4" fill-opacity="0.8"/>
<circle cx="448.6" cy="329.9" r="0.8" fill="#ecd0e4" fill-opacity="0.8"/>
<circle cx="483.1" cy="331.3" r="0.8" fill="#ecd0e4" fill-opacity="0.8"/>
<circle cx="472.9" cy="323.1" r="0.8" fill="#ecd0e4" fill-opacity="0.8"/>
<circle cx="443.5" cy="330.3" r="0.8" fill="#ecd0e4" fill-opacity="0.8"/>
<circle cx="479.0" cy="342.2" r="0.8" fill="#ecd0e4" fill-opacity="0.8"/>
<circle cx="479.2" cy="330.9" r="0.8" fill="#ecd0e4" fill-opacity="0.8"/>
<circle cx="470.0" cy="335.8" r="0.8" fill="#ecd0e4" fill-opacity="0.8"/>
<circle cx="467.0" cy="326.1" r="0.8" fill="#ecd0e4" fill-opacity="0.8"/>
<circle cx="491.8" cy="328.4" r="0.8" fill="#ecd0e4" fill-opacity="0.8"/>
<circle cx="496.7" cy="349.0" r="0.8" fill="#ecd0e4" fill-opacity="0.8"/>
<circle cx="441.0" cy="335.7" r="0.8" fill="#ecd0e4" fill-opacity="0.8"/>
<circle cx="487.6" cy="349.9" r="0.8" fill="#ecd0e4" fill-opacity="0.8"/>
<circle cx="466.1" cy="330.3" r="0.8" fill="#ecd0e4" fill-opacity="0.8"/>
<circle cx="452.2" cy="349.3" r="0.8" fill="#ecd0e4" fill-opacity="0.8"/>
<circle cx="452.2" cy="339.1" r="0.8" fill="#ecd0e4" fill-opacity="0.8"/>
<circle cx="448.2" cy="337.5" r="0.8" fill="#ecd0e4" fill-opacity="0.8"/>
<circle cx="495.3" cy="326.5" r="0.8" fill="#ecd0e4" fill-opacity="0.8"/>
<circle cx="487.6" cy="337.0" r="0.7" fill="#6a2060" fill-opacity="0.6"/>
<circle cx="491.4" cy="342.5" r="0.7" fill="#6a2060" fill-opacity="0.6"/>
<circle cx="453.4" cy="347.9" r="0.7" fill="#6a2060" fill-opacity="0.6"/>
<circle cx="468.2" cy="323.5" r="0.7" fill="#6a2060" fill-opacity="0.6"/>
<circle cx="440.2" cy="336.6" r="0.7" fill="#6a2060" fill-opacity="0.6"/>
<circle cx="466.1" cy="331.3" r="0.7" fill="#6a2060" fill-opacity="0.6"/>
<circle cx="448.2" cy="332.4" r="0.7" fill="#6a2060" fill-opacity="0.6"/>
<circle cx="458.3" cy="346.3" r="0.7" fill="#6a2060" fill-opacity="0.6"/>
<circle cx="440.1" cy="343.8" r="0.7" fill="#6a2060" fill-opacity="0.6"/>
<circle cx="488.7" cy="326.2" r="0.7" fill="#6a2060" fill-opacity="0.6"/>
<circle cx="493.7" cy="342.8" r="0.7" fill="#6a2060" fill-opacity="0.6"/>
<circle cx="492.3" cy="330.9" r="0.7" fill="#6a2060" fill-opacity="0.6"/>
<circle cx="461.6" cy="333.8" r="0.7" fill="#6a2060" fill-opacity="0.6"/>
<circle cx="497.9" cy="339.3" r="0.7" fill="#6a2060" fill-opacity="0.6"/>
<circle cx="460.9" cy="334.8" r="0.7" fill="#6a2060" fill-opacity="0.6"/>
<circle cx="456.0" cy="324.2" r="0.7" fill="#6a2060" fill-opacity="0.6"/>
<circle cx="445.9" cy="346.2" r="0.7" fill="#6a2060" fill-opacity="0.6"/>
<circle cx="456.6" cy="349.0" r="0.7" fill="#6a2060" fill-opacity="0.6"/>
<circle cx="454.5" cy="330.2" r="0.7" fill="#6a2060" fill-opacity="0.6"/>
<circle cx="469.6" cy="328.1" r="0.7" fill="#6a2060" fill-opacity="0.6"/>
<circle cx="461.7" cy="349.6" r="0.7" fill="#6a2060" fill-opacity="0.6"/>
<circle cx="491.3" cy="345.5" r="0.7" fill="#6a2060" fill-opacity="0.6"/>
<circle cx="476.6" cy="348.4" r="0.7" fill="#6a2060" fill-opacity="0.6"/>
<circle cx="494.6" cy="338.2" r="0.7" fill="#6a2060" fill-opacity="0.6"/>
<circle cx="481.7" cy="324.2" r="0.7" fill="#6a2060" fill-opacity="0.6"/>
<circle cx="482.5" cy="335.4" r="0.7" fill="#6a2060" fill-opacity="0.6"/>
<circle cx="483.7" cy="340.8" r="0.7" fill="#6a2060" fill-opacity="0.6"/>
<circle cx="456.6" cy="324.2" r="0.7" fill="#6a2060" fill-opacity="0.6"/>
<circle cx="493.8" cy="326.4" r="0.7" fill="#6a2060" fill-opacity="0.6"/>
<circle cx="467.4" cy="332.4" r="0.7" fill="#6a2060" fill-opacity="0.6"/>
<circle cx="457.3" cy="343.5" r="0.7" fill="#6a2060" fill-opacity="0.6"/>
<circle cx="496.6" cy="330.1" r="0.7" fill="#6a2060" fill-opacity="0.6"/>
<circle cx="478.0" cy="331.2" r="0.7" fill="#6a2060" fill-opacity="0.6"/>
<circle cx="472.3" cy="333.8" r="0.7" fill="#6a2060" fill-opacity="0.6"/>
<circle cx="449.7" cy="327.3" r="0.7" fill="#6a2060" fill-opacity="0.6"/>
<circle cx="452.1" cy="348.2" r="0.7" fill="#6a2060" fill-opacity="0.6"/>
<circle cx="468.8" cy="329.0" r="0.7" fill="#6a2060" fill-opacity="0.6"/>
<circle cx="492.6" cy="350.7" r="0.7" fill="#6a2060" fill-opacity="0.6"/>
<circle cx="466.1" cy="326.7" r="0.7" fill="#6a2060" fill-opacity="0.6"/>
<circle cx="451.2" cy="325.3" r="0.7" fill="#6a2060" fill-opacity="0.6"/>
<polygon points="456.0,352.8 458.0,346.8 462.0,342.8 465.0,339.8 466.0,335.8 468.0,333.8 470.0,334.8 471.0,337.8 470.0,341.8 473.0,344.8 476.0,342.8 478.0,339.8 480.0,338.3 482.0,338.8 483.0,341.8 482.0,344.8 485.0,345.8 489.0,344.8 493.0,345.8 496.0,348.8 497.0,352.8" fill="#efd6e0" fill-opacity="1"/>
<circle cx="472.0" cy="341.7" r="0.8" fill="#c890b0" fill-opacity="0.8"/>
<circle cx="468.4" cy="343.4" r="0.8" fill="#c890b0" fill-opacity="0.8"/>
<circle cx="479.9" cy="349.7" r="0.8" fill="#c890b0" fill-opacity="0.8"/>
<circle cx="486.2" cy="344.9" r="0.8" fill="#c890b0" fill-opacity="0.8"/>
<circle cx="474.5" cy="346.0" r="0.8" fill="#c890b0" fill-opacity="0.8"/>
<circle cx="473.2" cy="344.2" r="0.8" fill="#c890b0" fill-opacity="0.8"/>
<circle cx="462.2" cy="343.6" r="0.8" fill="#c890b0" fill-opacity="0.8"/>
<circle cx="493.9" cy="342.1" r="0.8" fill="#c890b0" fill-opacity="0.8"/>
<circle cx="477.6" cy="347.1" r="0.8" fill="#c890b0" fill-opacity="0.8"/>
<circle cx="490.2" cy="343.0" r="0.8" fill="#c890b0" fill-opacity="0.8"/>
<line x1="469.3" y1="309.7" x2="469.3" y2="321.0" stroke="#1a1a1a" stroke-width="0.9"/>
<polyline points="439.0,316.4 443.3,314.7 447.6,313.1 451.9,311.9 456.1,310.9 460.4,310.1 464.7,309.6 469.0,309.3 473.3,309.3 477.6,309.5 481.9,310.0 486.1,310.7 490.4,311.7 494.7,313.0 499.0,314.5" fill="none" stroke="#fbfbf6" stroke-width="1.1"/>
</g>
<clipPath id="tc4"><rect x="508.0" y="292.8" width="58.0" height="58.0"/></clipPath><g clip-path="url(#tc4)">
<rect x="508.0" y="292.8" width="58.0" height="58.0" fill="#d4d5d0"/>
<polygon points="507.0,315.4 518.0,313.3 528.0,311.4 539.6,310.2 550.0,310.6 560.0,312.2 567.0,314.3 568.0,352.8 506.0,352.8" fill="#e0dade"/>
<polygon points="507.0,329.7 511.3,328.8 515.6,328.1 519.9,327.5 524.1,327.1 528.4,326.8 532.7,326.6 537.0,326.6 541.3,326.7 545.6,327.0 549.9,327.4 554.1,328.0 558.4,328.7 562.7,329.5 567.0,330.5 568.0,352.8 506.0,352.8" fill="#922f78"/>
<polyline points="507.0,330.2 511.3,329.3 515.6,328.6 519.9,328.0 524.1,327.6 528.4,327.3 532.7,327.1 537.0,327.1 541.3,327.2 545.6,327.5 549.9,327.9 554.1,328.5 558.4,329.2 562.7,330.0 567.0,331.0" fill="none" stroke="#7a2a6a" stroke-width="1.2" stroke-opacity="0.8"/>
<polyline points="507.0,320.2 511.3,318.5 515.6,316.9 519.9,315.7 524.1,314.7 528.4,314.0 532.7,313.5 537.0,313.3 541.3,313.4 545.6,313.7 549.9,314.3 554.1,315.1 558.4,316.2 562.7,317.6 567.0,319.2" fill="none" stroke="#b8b0b4" stroke-width="0.7" stroke-opacity="0.8"/>
<polyline points="507.0,324.2 511.3,322.5 515.6,320.9 519.9,319.7 524.1,318.7 528.4,318.0 532.7,317.5 537.0,317.3 541.3,317.4 545.6,317.7 549.9,318.3 554.1,319.1 558.4,320.2 562.7,321.6 567.0,323.2" fill="none" stroke="#b8b0b4" stroke-width="0.7" stroke-opacity="0.7"/>
<polyline points="507.0,327.2 511.3,325.6 515.6,324.3 519.9,323.2 524.1,322.4 528.4,321.8 532.7,321.4 537.0,321.3 541.3,321.4 545.6,321.8 549.9,322.4 554.1,323.2 558.4,324.3 562.7,325.6 567.0,327.2" fill="none" stroke="#b8b0b4" stroke-width="0.6" stroke-opacity="0.5"/>
<circle cx="523.7" cy="334.3" r="0.8" fill="#ecd0e4" fill-opacity="0.8"/>
<circle cx="531.2" cy="338.6" r="0.8" fill="#ecd0e4" fill-opacity="0.8"/>
<circle cx="563.3" cy="347.5" r="0.8" fill="#ecd0e4" fill-opacity="0.8"/>
<circle cx="558.6" cy="329.3" r="0.8" fill="#ecd0e4" fill-opacity="0.8"/>
<circle cx="509.9" cy="344.4" r="0.8" fill="#ecd0e4" fill-opacity="0.8"/>
<circle cx="560.0" cy="339.2" r="0.8" fill="#ecd0e4" fill-opacity="0.8"/>
<circle cx="542.1" cy="328.8" r="0.8" fill="#ecd0e4" fill-opacity="0.8"/>
<circle cx="530.7" cy="349.2" r="0.8" fill="#ecd0e4" fill-opacity="0.8"/>
<circle cx="555.9" cy="347.6" r="0.8" fill="#ecd0e4" fill-opacity="0.8"/>
<circle cx="564.4" cy="334.3" r="0.8" fill="#ecd0e4" fill-opacity="0.8"/>
<circle cx="514.3" cy="332.2" r="0.8" fill="#ecd0e4" fill-opacity="0.8"/>
<circle cx="538.3" cy="343.8" r="0.8" fill="#ecd0e4" fill-opacity="0.8"/>
<circle cx="562.6" cy="344.7" r="0.8" fill="#ecd0e4" fill-opacity="0.8"/>
<circle cx="545.5" cy="345.6" r="0.8" fill="#ecd0e4" fill-opacity="0.8"/>
<circle cx="534.5" cy="340.9" r="0.8" fill="#ecd0e4" fill-opacity="0.8"/>
<circle cx="510.3" cy="346.0" r="0.8" fill="#ecd0e4" fill-opacity="0.8"/>
<circle cx="521.5" cy="349.0" r="0.8" fill="#ecd0e4" fill-opacity="0.8"/>
<circle cx="545.4" cy="335.5" r="0.8" fill="#ecd0e4" fill-opacity="0.8"/>
<circle cx="515.4" cy="334.3" r="0.8" fill="#ecd0e4" fill-opacity="0.8"/>
<circle cx="544.9" cy="344.2" r="0.8" fill="#ecd0e4" fill-opacity="0.8"/>
<circle cx="514.5" cy="330.3" r="0.8" fill="#ecd0e4" fill-opacity="0.8"/>
<circle cx="538.4" cy="341.6" r="0.8" fill="#ecd0e4" fill-opacity="0.8"/>
<circle cx="530.5" cy="333.7" r="0.8" fill="#ecd0e4" fill-opacity="0.8"/>
<circle cx="542.9" cy="329.0" r="0.8" fill="#ecd0e4" fill-opacity="0.8"/>
<circle cx="525.5" cy="338.9" r="0.8" fill="#ecd0e4" fill-opacity="0.8"/>
<circle cx="563.6" cy="343.0" r="0.8" fill="#ecd0e4" fill-opacity="0.8"/>
<circle cx="559.3" cy="339.3" r="0.7" fill="#6a2060" fill-opacity="0.6"/>
<circle cx="521.6" cy="334.2" r="0.7" fill="#6a2060" fill-opacity="0.6"/>
<circle cx="563.7" cy="344.3" r="0.7" fill="#6a2060" fill-opacity="0.6"/>
<circle cx="525.8" cy="329.3" r="0.7" fill="#6a2060" fill-opacity="0.6"/>
<circle cx="536.9" cy="343.6" r="0.7" fill="#6a2060" fill-opacity="0.6"/>
<circle cx="532.4" cy="334.5" r="0.7" fill="#6a2060" fill-opacity="0.6"/>
<circle cx="546.7" cy="349.2" r="0.7" fill="#6a2060" fill-opacity="0.6"/>
<circle cx="521.2" cy="329.6" r="0.7" fill="#6a2060" fill-opacity="0.6"/>
<circle cx="527.6" cy="338.1" r="0.7" fill="#6a2060" fill-opacity="0.6"/>
<circle cx="547.6" cy="333.2" r="0.7" fill="#6a2060" fill-opacity="0.6"/>
<circle cx="554.2" cy="345.1" r="0.7" fill="#6a2060" fill-opacity="0.6"/>
<circle cx="537.3" cy="333.3" r="0.7" fill="#6a2060" fill-opacity="0.6"/>
<circle cx="564.3" cy="335.7" r="0.7" fill="#6a2060" fill-opacity="0.6"/>
<circle cx="555.6" cy="333.9" r="0.7" fill="#6a2060" fill-opacity="0.6"/>
<circle cx="520.8" cy="345.5" r="0.7" fill="#6a2060" fill-opacity="0.6"/>
<circle cx="525.1" cy="349.7" r="0.7" fill="#6a2060" fill-opacity="0.6"/>
<circle cx="536.8" cy="332.9" r="0.7" fill="#6a2060" fill-opacity="0.6"/>
<circle cx="521.0" cy="338.0" r="0.7" fill="#6a2060" fill-opacity="0.6"/>
<circle cx="546.6" cy="349.7" r="0.7" fill="#6a2060" fill-opacity="0.6"/>
<circle cx="516.5" cy="337.5" r="0.7" fill="#6a2060" fill-opacity="0.6"/>
<circle cx="520.4" cy="350.2" r="0.7" fill="#6a2060" fill-opacity="0.6"/>
<circle cx="516.2" cy="329.9" r="0.7" fill="#6a2060" fill-opacity="0.6"/>
<circle cx="511.5" cy="337.5" r="0.7" fill="#6a2060" fill-opacity="0.6"/>
<circle cx="560.1" cy="348.2" r="0.7" fill="#6a2060" fill-opacity="0.6"/>
<circle cx="550.5" cy="350.7" r="0.7" fill="#6a2060" fill-opacity="0.6"/>
<circle cx="562.0" cy="336.0" r="0.7" fill="#6a2060" fill-opacity="0.6"/>
<circle cx="518.8" cy="349.4" r="0.7" fill="#6a2060" fill-opacity="0.6"/>
<circle cx="551.3" cy="329.5" r="0.7" fill="#6a2060" fill-opacity="0.6"/>
<circle cx="546.5" cy="337.1" r="0.7" fill="#6a2060" fill-opacity="0.6"/>
<circle cx="529.7" cy="336.1" r="0.7" fill="#6a2060" fill-opacity="0.6"/>
<circle cx="517.8" cy="328.9" r="0.7" fill="#6a2060" fill-opacity="0.6"/>
<circle cx="524.2" cy="336.5" r="0.7" fill="#6a2060" fill-opacity="0.6"/>
<circle cx="563.4" cy="331.5" r="0.7" fill="#6a2060" fill-opacity="0.6"/>
<circle cx="563.9" cy="333.4" r="0.7" fill="#6a2060" fill-opacity="0.6"/>
<circle cx="528.7" cy="346.9" r="0.7" fill="#6a2060" fill-opacity="0.6"/>
<circle cx="555.7" cy="338.3" r="0.7" fill="#6a2060" fill-opacity="0.6"/>
<circle cx="510.9" cy="339.2" r="0.7" fill="#6a2060" fill-opacity="0.6"/>
<circle cx="529.6" cy="349.0" r="0.7" fill="#6a2060" fill-opacity="0.6"/>
<circle cx="519.2" cy="336.8" r="0.7" fill="#6a2060" fill-opacity="0.6"/>
<circle cx="560.0" cy="329.5" r="0.7" fill="#6a2060" fill-opacity="0.6"/>
<line x1="539.6" y1="309.7" x2="539.6" y2="326.8" stroke="#1a1a1a" stroke-width="0.9"/>
<polyline points="507.0,315.4 518.0,313.3 528.0,311.4 539.6,310.2 550.0,310.6 560.0,312.2 567.0,314.3" fill="none" stroke="#fbfbf6" stroke-width="1.1"/>
</g>
<clipPath id="tc5"><rect x="305.5" y="357.3" width="58.0" height="58.0"/></clipPath><g clip-path="url(#tc5)">
<rect x="305.5" y="357.3" width="58.0" height="58.0" fill="#e4e7e8"/>
<polygon points="304.5,380.5 308.8,378.6 313.1,377.1 317.4,375.8 321.6,374.8 325.9,374.0 330.2,373.5 334.5,373.3 338.8,373.4 343.1,373.7 347.4,374.3 351.6,375.1 355.9,376.3 360.2,377.6 364.5,379.3 365.5,417.3 303.5,417.3" fill="#d8d0c4"/>
<polygon points="304.5,389.6 308.8,388.0 313.1,386.7 317.4,385.6 321.6,384.7 325.9,384.1 330.2,383.7 334.5,383.6 338.8,383.7 343.1,384.1 347.4,384.7 351.6,385.6 355.9,386.7 360.2,388.0 364.5,389.6 365.5,417.3 303.5,417.3" fill="#88561f"/>
<polygon points="304.5,407.4 308.8,406.9 313.1,406.4 317.4,406.0 321.6,405.7 325.9,405.5 330.2,405.3 334.5,405.3 338.8,405.3 343.1,405.5 347.4,405.7 351.6,406.0 355.9,406.4 360.2,406.9 364.5,407.4 365.5,417.3 303.5,417.3" fill="#80644e"/>
<circle cx="329.3" cy="399.9" r="0.9" fill="#eee4dc" fill-opacity="0.9"/>
<circle cx="350.0" cy="386.0" r="0.9" fill="#eee4dc" fill-opacity="0.9"/>
<circle cx="307.5" cy="386.4" r="0.9" fill="#eee4dc" fill-opacity="0.9"/>
<circle cx="358.9" cy="389.9" r="0.9" fill="#eee4dc" fill-opacity="0.9"/>
<circle cx="348.8" cy="401.5" r="0.9" fill="#eee4dc" fill-opacity="0.9"/>
<circle cx="325.2" cy="390.2" r="0.9" fill="#eee4dc" fill-opacity="0.9"/>
<circle cx="361.0" cy="396.4" r="0.9" fill="#eee4dc" fill-opacity="0.9"/>
<circle cx="320.7" cy="398.2" r="0.9" fill="#eee4dc" fill-opacity="0.9"/>
<circle cx="323.9" cy="390.3" r="0.9" fill="#eee4dc" fill-opacity="0.9"/>
<circle cx="305.7" cy="398.9" r="0.9" fill="#eee4dc" fill-opacity="0.9"/>
<circle cx="358.7" cy="396.7" r="0.9" fill="#eee4dc" fill-opacity="0.9"/>
<circle cx="360.2" cy="385.7" r="0.9" fill="#eee4dc" fill-opacity="0.9"/>
<circle cx="319.1" cy="393.9" r="0.9" fill="#eee4dc" fill-opacity="0.9"/>
<circle cx="361.0" cy="402.5" r="0.9" fill="#eee4dc" fill-opacity="0.9"/>
<circle cx="327.9" cy="389.8" r="0.9" fill="#eee4dc" fill-opacity="0.9"/>
<circle cx="330.4" cy="394.2" r="0.9" fill="#eee4dc" fill-opacity="0.9"/>
<circle cx="359.3" cy="388.6" r="0.9" fill="#eee4dc" fill-opacity="0.9"/>
<circle cx="352.0" cy="398.6" r="0.9" fill="#eee4dc" fill-opacity="0.9"/>
<circle cx="353.2" cy="399.2" r="0.9" fill="#eee4dc" fill-opacity="0.9"/>
<circle cx="340.7" cy="391.2" r="0.9" fill="#eee4dc" fill-opacity="0.9"/>
<circle cx="324.0" cy="391.8" r="0.9" fill="#eee4dc" fill-opacity="0.9"/>
<circle cx="350.9" cy="386.7" r="0.9" fill="#eee4dc" fill-opacity="0.9"/>
<circle cx="316.9" cy="398.9" r="0.9" fill="#eee4dc" fill-opacity="0.9"/>
<circle cx="319.8" cy="386.5" r="0.9" fill="#eee4dc" fill-opacity="0.9"/>
<circle cx="307.5" cy="395.2" r="0.9" fill="#eee4dc" fill-opacity="0.9"/>
<circle cx="324.4" cy="402.9" r="0.9" fill="#eee4dc" fill-opacity="0.9"/>
<circle cx="356.7" cy="403.1" r="0.9" fill="#eee4dc" fill-opacity="0.9"/>
<circle cx="320.9" cy="386.8" r="0.9" fill="#eee4dc" fill-opacity="0.9"/>
<circle cx="311.1" cy="394.3" r="0.9" fill="#eee4dc" fill-opacity="0.9"/>
<circle cx="346.7" cy="393.3" r="0.9" fill="#eee4dc" fill-opacity="0.9"/>
<circle cx="319.1" cy="392.8" r="0.9" fill="#eee4dc" fill-opacity="0.9"/>
<circle cx="341.5" cy="397.4" r="0.9" fill="#eee4dc" fill-opacity="0.9"/>
<circle cx="348.9" cy="400.5" r="0.9" fill="#eee4dc" fill-opacity="0.9"/>
<circle cx="344.0" cy="387.5" r="0.9" fill="#eee4dc" fill-opacity="0.9"/>
<circle cx="354.3" cy="404.0" r="0.8" fill="#7a78b0" fill-opacity="0.6"/>
<circle cx="338.4" cy="405.3" r="0.8" fill="#7a78b0" fill-opacity="0.6"/>
<circle cx="348.3" cy="402.5" r="0.8" fill="#7a78b0" fill-opacity="0.6"/>
<circle cx="319.9" cy="403.2" r="0.8" fill="#7a78b0" fill-opacity="0.6"/>
<circle cx="314.4" cy="413.4" r="0.8" fill="#7a78b0" fill-opacity="0.6"/>
<circle cx="339.0" cy="404.5" r="0.8" fill="#7a78b0" fill-opacity="0.6"/>
<circle cx="328.5" cy="415.2" r="0.8" fill="#7a78b0" fill-opacity="0.6"/>
<circle cx="334.9" cy="403.0" r="0.8" fill="#7a78b0" fill-opacity="0.6"/>
<circle cx="352.4" cy="409.8" r="0.8" fill="#7a78b0" fill-opacity="0.6"/>
<circle cx="363.0" cy="400.9" r="0.8" fill="#7a78b0" fill-opacity="0.6"/>
<circle cx="333.0" cy="412.4" r="0.8" fill="#7a78b0" fill-opacity="0.6"/>
<circle cx="354.3" cy="413.9" r="0.8" fill="#7a78b0" fill-opacity="0.6"/>
<circle cx="307.8" cy="404.0" r="0.8" fill="#7a78b0" fill-opacity="0.6"/>
<circle cx="312.4" cy="402.3" r="0.8" fill="#7a78b0" fill-opacity="0.6"/>
<circle cx="361.9" cy="408.6" r="0.8" fill="#7a78b0" fill-opacity="0.6"/>
<circle cx="359.5" cy="405.3" r="0.8" fill="#7a78b0" fill-opacity="0.6"/>
<circle cx="355.7" cy="406.5" r="0.8" fill="#7a78b0" fill-opacity="0.6"/>
<circle cx="320.6" cy="411.7" r="0.8" fill="#7a78b0" fill-opacity="0.6"/>
<circle cx="360.4" cy="401.0" r="0.8" fill="#7a78b0" fill-opacity="0.6"/>
<circle cx="340.1" cy="409.2" r="0.8" fill="#7a78b0" fill-opacity="0.6"/>
<circle cx="318.1" cy="405.2" r="0.8" fill="#7a78b0" fill-opacity="0.6"/>
<circle cx="313.7" cy="402.6" r="0.8" fill="#7a78b0" fill-opacity="0.6"/>
<circle cx="320.3" cy="408.9" r="0.8" fill="#7a78b0" fill-opacity="0.6"/>
<circle cx="343.3" cy="402.6" r="0.8" fill="#7a78b0" fill-opacity="0.6"/>
<circle cx="306.2" cy="404.5" r="0.8" fill="#7a78b0" fill-opacity="0.6"/>
<circle cx="344.8" cy="402.3" r="0.8" fill="#7a78b0" fill-opacity="0.6"/>
<circle cx="323.6" cy="402.6" r="0.8" fill="#7a78b0" fill-opacity="0.6"/>
<circle cx="351.6" cy="408.1" r="0.8" fill="#7a78b0" fill-opacity="0.6"/>
<circle cx="309.2" cy="400.9" r="0.8" fill="#7a78b0" fill-opacity="0.6"/>
<circle cx="328.4" cy="408.1" r="0.8" fill="#7a78b0" fill-opacity="0.6"/>
<circle cx="342.6" cy="400.8" r="0.8" fill="#7a78b0" fill-opacity="0.6"/>
<circle cx="315.0" cy="410.4" r="0.8" fill="#7a78b0" fill-opacity="0.6"/>
<circle cx="329.3" cy="403.8" r="0.8" fill="#7a78b0" fill-opacity="0.6"/>
<circle cx="323.3" cy="414.6" r="0.8" fill="#7a78b0" fill-opacity="0.6"/>
<circle cx="323.6" cy="408.4" r="0.8" fill="#7a78b0" fill-opacity="0.6"/>
<circle cx="326.2" cy="406.0" r="0.8" fill="#7a78b0" fill-opacity="0.6"/>
<circle cx="355.6" cy="415.2" r="0.8" fill="#7a78b0" fill-opacity="0.6"/>
<circle cx="326.6" cy="402.5" r="0.8" fill="#7a78b0" fill-opacity="0.6"/>
<circle cx="347.7" cy="402.6" r="0.8" fill="#7a78b0" fill-opacity="0.6"/>
<circle cx="305.8" cy="413.7" r="0.8" fill="#7a78b0" fill-opacity="0.6"/>
<circle cx="330.1" cy="412.4" r="0.8" fill="#7a78b0" fill-opacity="0.6"/>
<circle cx="329.1" cy="413.4" r="0.8" fill="#7a78b0" fill-opacity="0.6"/>
<circle cx="332.2" cy="401.9" r="0.8" fill="#7a78b0" fill-opacity="0.6"/>
<circle cx="306.4" cy="408.1" r="0.8" fill="#7a78b0" fill-opacity="0.6"/>
<circle cx="342.7" cy="413.9" r="0.8" fill="#7a78b0" fill-opacity="0.6"/>
<circle cx="310.7" cy="409.3" r="0.8" fill="#7a78b0" fill-opacity="0.6"/>
<circle cx="327.0" cy="407.4" r="0.8" fill="#7a78b0" fill-opacity="0.6"/>
<circle cx="314.0" cy="403.8" r="0.8" fill="#7a78b0" fill-opacity="0.6"/>
<circle cx="335.7" cy="414.1" r="0.8" fill="#7a78b0" fill-opacity="0.6"/>
<circle cx="311.8" cy="407.1" r="0.8" fill="#7a78b0" fill-opacity="0.6"/>
<polyline points="349.5,356.3 357.5,359.3 363.5,363.3 365.5,365.3" fill="none" stroke="#d8d0c4" stroke-width="2.0" stroke-opacity="1.0"/>
<polyline points="304.5,380.5 308.8,378.6 313.1,377.1 317.4,375.8 321.6,374.8 325.9,374.0 330.2,373.5 334.5,373.3 338.8,373.4 343.1,373.7 347.4,374.3 351.6,375.1 355.9,376.3 360.2,377.6 364.5,379.3" fill="none" stroke="#fbfbf6" stroke-width="1.1"/>
</g>
<clipPath id="tc6"><rect x="373.2" y="357.3" width="58.0" height="58.0"/></clipPath><g clip-path="url(#tc6)">
<rect x="373.2" y="357.3" width="58.0" height="58.0" fill="#e4e7e8"/>
<polygon points="372.2,372.5 376.5,371.6 380.8,370.8 385.1,370.1 389.3,369.5 393.6,369.0 397.9,368.6 402.2,368.3 406.5,368.1 410.8,368.1 415.1,368.1 419.3,368.3 423.6,368.6 427.9,368.9 432.2,369.4 433.2,417.3 371.2,417.3" fill="#d4cec4"/>
<polygon points="372.2,392.4 376.5,391.9 380.8,391.4 385.1,391.0 389.3,390.7 393.6,390.5 397.9,390.3 402.2,390.3 406.5,390.3 410.8,390.5 415.1,390.7 419.3,391.0 423.6,391.4 427.9,391.9 432.2,392.4 433.2,417.3 371.2,417.3" fill="#6e6c98"/>
<polygon points="372.2,404.4 376.5,403.9 380.8,403.4 385.1,403.0 389.3,402.7 393.6,402.5 397.9,402.3 402.2,402.3 406.5,402.3 410.8,402.5 415.1,402.7 419.3,403.0 423.6,403.4 427.9,403.9 432.2,404.4 433.2,417.3 371.2,417.3" fill="#86705e"/>
<circle cx="419.9" cy="414.6" r="0.9" fill="#4a4aa0" fill-opacity="0.7"/>
<circle cx="384.6" cy="397.0" r="0.9" fill="#4a4aa0" fill-opacity="0.7"/>
<circle cx="427.9" cy="414.8" r="0.9" fill="#4a4aa0" fill-opacity="0.7"/>
<circle cx="401.2" cy="395.4" r="0.9" fill="#4a4aa0" fill-opacity="0.7"/>
<circle cx="426.9" cy="402.4" r="0.9" fill="#4a4aa0" fill-opacity="0.7"/>
<circle cx="425.6" cy="407.3" r="0.9" fill="#4a4aa0" fill-opacity="0.7"/>
<circle cx="421.0" cy="397.7" r="0.9" fill="#4a4aa0" fill-opacity="0.7"/>
<circle cx="418.8" cy="399.0" r="0.9" fill="#4a4aa0" fill-opacity="0.7"/>
<circle cx="396.7" cy="412.1" r="0.9" fill="#4a4aa0" fill-opacity="0.7"/>
<circle cx="421.3" cy="398.1" r="0.9" fill="#4a4aa0" fill-opacity="0.7"/>
<circle cx="385.9" cy="402.7" r="0.9" fill="#4a4aa0" fill-opacity="0.7"/>
<circle cx="403.2" cy="402.4" r="0.9" fill="#4a4aa0" fill-opacity="0.7"/>
<circle cx="380.3" cy="399.5" r="0.9" fill="#4a4aa0" fill-opacity="0.7"/>
<circle cx="415.2" cy="413.1" r="0.9" fill="#4a4aa0" fill-opacity="0.7"/>
<circle cx="375.6" cy="406.1" r="0.9" fill="#4a4aa0" fill-opacity="0.7"/>
<circle cx="417.1" cy="395.1" r="0.9" fill="#4a4aa0" fill-opacity="0.7"/>
<circle cx="421.8" cy="396.8" r="0.9" fill="#4a4aa0" fill-opacity="0.7"/>
<circle cx="408.0" cy="405.9" r="0.9" fill="#4a4aa0" fill-opacity="0.7"/>
<circle cx="409.6" cy="400.7" r="0.9" fill="#4a4aa0" fill-opacity="0.7"/>
<circle cx="397.6" cy="406.5" r="0.9" fill="#4a4aa0" fill-opacity="0.7"/>
<circle cx="397.9" cy="408.1" r="0.9" fill="#4a4aa0" fill-opacity="0.7"/>
<circle cx="399.1" cy="403.5" r="0.9" fill="#4a4aa0" fill-opacity="0.7"/>
<circle cx="374.6" cy="407.3" r="0.9" fill="#4a4aa0" fill-opacity="0.7"/>
<circle cx="401.6" cy="399.2" r="0.9" fill="#4a4aa0" fill-opacity="0.7"/>
<circle cx="417.5" cy="410.7" r="0.9" fill="#4a4aa0" fill-opacity="0.7"/>
<circle cx="399.8" cy="398.1" r="0.9" fill="#4a4aa0" fill-opacity="0.7"/>
<circle cx="400.6" cy="396.5" r="0.9" fill="#4a4aa0" fill-opacity="0.7"/>
<circle cx="380.7" cy="403.3" r="0.9" fill="#4a4aa0" fill-opacity="0.7"/>
<circle cx="378.5" cy="403.6" r="0.9" fill="#4a4aa0" fill-opacity="0.7"/>
<circle cx="402.8" cy="395.2" r="0.9" fill="#4a4aa0" fill-opacity="0.7"/>
<circle cx="410.1" cy="396.0" r="0.9" fill="#4a4aa0" fill-opacity="0.7"/>
<circle cx="415.7" cy="410.6" r="0.9" fill="#4a4aa0" fill-opacity="0.7"/>
<circle cx="402.9" cy="395.4" r="0.9" fill="#4a4aa0" fill-opacity="0.7"/>
<circle cx="402.4" cy="402.2" r="0.9" fill="#4a4aa0" fill-opacity="0.7"/>
<circle cx="428.4" cy="397.2" r="0.9" fill="#4a4aa0" fill-opacity="0.7"/>
<circle cx="422.9" cy="415.2" r="0.9" fill="#4a4aa0" fill-opacity="0.7"/>
<circle cx="415.7" cy="411.4" r="0.9" fill="#4a4aa0" fill-opacity="0.7"/>
<circle cx="384.4" cy="414.9" r="0.9" fill="#4a4aa0" fill-opacity="0.7"/>
<circle cx="401.7" cy="414.4" r="0.9" fill="#4a4aa0" fill-opacity="0.7"/>
<circle cx="426.3" cy="397.8" r="0.9" fill="#4a4aa0" fill-opacity="0.7"/>
<circle cx="418.9" cy="413.8" r="0.9" fill="#4a4aa0" fill-opacity="0.7"/>
<circle cx="377.0" cy="401.7" r="0.9" fill="#4a4aa0" fill-opacity="0.7"/>
<circle cx="417.1" cy="397.6" r="0.9" fill="#4a4aa0" fill-opacity="0.7"/>
<circle cx="425.2" cy="400.1" r="0.9" fill="#4a4aa0" fill-opacity="0.7"/>
<circle cx="420.5" cy="397.3" r="0.9" fill="#4a4aa0" fill-opacity="0.7"/>
<circle cx="402.3" cy="413.6" r="0.9" fill="#4a4aa0" fill-opacity="0.7"/>
<circle cx="385.3" cy="399.8" r="0.9" fill="#4a4aa0" fill-opacity="0.7"/>
<circle cx="402.5" cy="401.0" r="0.9" fill="#4a4aa0" fill-opacity="0.7"/>
<circle cx="375.3" cy="398.1" r="0.9" fill="#4a4aa0" fill-opacity="0.7"/>
<circle cx="382.6" cy="414.0" r="0.9" fill="#4a4aa0" fill-opacity="0.7"/>
<circle cx="412.6" cy="413.1" r="0.9" fill="#4a4aa0" fill-opacity="0.7"/>
<circle cx="383.0" cy="410.8" r="0.9" fill="#4a4aa0" fill-opacity="0.7"/>
<circle cx="379.9" cy="405.4" r="0.9" fill="#4a4aa0" fill-opacity="0.7"/>
<circle cx="410.1" cy="401.9" r="0.9" fill="#4a4aa0" fill-opacity="0.7"/>
<circle cx="423.8" cy="406.0" r="0.9" fill="#4a4aa0" fill-opacity="0.7"/>
<circle cx="406.8" cy="412.8" r="0.9" fill="#4a4aa0" fill-opacity="0.7"/>
<circle cx="379.3" cy="415.2" r="0.9" fill="#4a4aa0" fill-opacity="0.7"/>
<circle cx="409.7" cy="402.6" r="0.9" fill="#4a4aa0" fill-opacity="0.7"/>
<circle cx="419.5" cy="399.9" r="0.9" fill="#4a4aa0" fill-opacity="0.7"/>
<circle cx="430.6" cy="406.4" r="0.9" fill="#4a4aa0" fill-opacity="0.7"/>
<circle cx="394.1" cy="411.1" r="0.9" fill="#a07040" fill-opacity="0.6"/>
<circle cx="398.9" cy="400.5" r="0.9" fill="#a07040" fill-opacity="0.6"/>
<circle cx="416.3" cy="398.2" r="0.9" fill="#a07040" fill-opacity="0.6"/>
<circle cx="420.7" cy="401.9" r="0.9" fill="#a07040" fill-opacity="0.6"/>
<circle cx="410.3" cy="415.0" r="0.9" fill="#a07040" fill-opacity="0.6"/>
<circle cx="407.2" cy="409.2" r="0.9" fill="#a07040" fill-opacity="0.6"/>
<circle cx="391.3" cy="397.3" r="0.9" fill="#a07040" fill-opacity="0.6"/>
<circle cx="375.2" cy="400.0" r="0.9" fill="#a07040" fill-opacity="0.6"/>
<circle cx="408.9" cy="405.1" r="0.9" fill="#a07040" fill-opacity="0.6"/>
<circle cx="402.9" cy="413.4" r="0.9" fill="#a07040" fill-opacity="0.6"/>
<circle cx="380.9" cy="401.4" r="0.9" fill="#a07040" fill-opacity="0.6"/>
<circle cx="411.1" cy="397.7" r="0.9" fill="#a07040" fill-opacity="0.6"/>
<circle cx="373.4" cy="403.7" r="0.9" fill="#a07040" fill-opacity="0.6"/>
<circle cx="379.4" cy="403.7" r="0.9" fill="#a07040" fill-opacity="0.6"/>
<circle cx="386.2" cy="407.8" r="0.9" fill="#a07040" fill-opacity="0.6"/>
<circle cx="407.4" cy="401.0" r="0.9" fill="#a07040" fill-opacity="0.6"/>
<circle cx="409.4" cy="405.8" r="0.9" fill="#a07040" fill-opacity="0.6"/>
<circle cx="381.0" cy="414.2" r="0.9" fill="#a07040" fill-opacity="0.6"/>
<circle cx="387.3" cy="400.0" r="0.9" fill="#a07040" fill-opacity="0.6"/>
<circle cx="378.8" cy="408.8" r="0.9" fill="#a07040" fill-opacity="0.6"/>
<circle cx="423.7" cy="411.4" r="0.9" fill="#a07040" fill-opacity="0.6"/>
<circle cx="396.5" cy="402.1" r="0.9" fill="#a07040" fill-opacity="0.6"/>
<circle cx="373.9" cy="408.9" r="0.9" fill="#a07040" fill-opacity="0.6"/>
<circle cx="405.8" cy="403.6" r="0.9" fill="#a07040" fill-opacity="0.6"/>
<circle cx="410.6" cy="405.3" r="0.9" fill="#a07040" fill-opacity="0.6"/>
<circle cx="427.6" cy="410.5" r="0.9" fill="#a07040" fill-opacity="0.6"/>
<circle cx="387.6" cy="413.6" r="0.9" fill="#a07040" fill-opacity="0.6"/>
<circle cx="375.8" cy="406.9" r="0.9" fill="#a07040" fill-opacity="0.6"/>
<circle cx="396.7" cy="401.6" r="0.9" fill="#a07040" fill-opacity="0.6"/>
<circle cx="376.6" cy="411.3" r="0.9" fill="#a07040" fill-opacity="0.6"/>
<polygon points="415.2,368.3 419.2,368.3 417.7,373.3" fill="#8a4a1a" fill-opacity="1"/>
<polyline points="372.2,372.5 376.5,371.6 380.8,370.8 385.1,370.1 389.3,369.5 393.6,369.0 397.9,368.6 402.2,368.3 406.5,368.1 410.8,368.1 415.1,368.1 419.3,368.3 423.6,368.6 427.9,368.9 432.2,369.4" fill="none" stroke="#fbfbf6" stroke-width="1.1"/>
</g>
<clipPath id="tc7"><rect x="440.0" y="357.3" width="58.0" height="58.0"/></clipPath><g clip-path="url(#tc7)">
<rect x="440.0" y="357.3" width="58.0" height="58.0" fill="#e4e7e8"/>
<polygon points="439.0,379.8 443.3,377.9 447.6,376.3 451.9,375.0 456.1,373.9 460.4,373.1 464.7,372.6 469.0,372.3 473.3,372.3 477.6,372.5 481.9,373.0 486.1,373.8 490.4,374.8 494.7,376.1 499.0,377.7 500.0,417.3 438.0,417.3" fill="#d8d0c2"/>
<polygon points="439.0,390.8 443.3,388.7 447.6,387.0 451.9,385.5 456.1,384.2 460.4,383.3 464.7,382.7 469.0,382.3 473.3,382.2 477.6,382.4 481.9,382.9 486.1,383.7 490.4,384.7 494.7,386.1 499.0,387.7 500.0,417.3 438.0,417.3" fill="#88561f"/>
<polygon points="439.0,401.4 443.3,400.9 447.6,400.4 451.9,400.0 456.1,399.7 460.4,399.5 464.7,399.3 469.0,399.3 473.3,399.3 477.6,399.5 481.9,399.7 486.1,400.0 490.4,400.4 494.7,400.9 499.0,401.4 500.0,417.3 438.0,417.3" fill="#80644e"/>
<circle cx="440.7" cy="391.0" r="0.9" fill="#f0e8e0" fill-opacity="0.9"/>
<circle cx="494.6" cy="385.3" r="0.9" fill="#f0e8e0" fill-opacity="0.9"/>
<circle cx="451.6" cy="391.8" r="0.9" fill="#f0e8e0" fill-opacity="0.9"/>
<circle cx="469.4" cy="392.3" r="0.9" fill="#f0e8e0" fill-opacity="0.9"/>
<circle cx="487.2" cy="385.7" r="0.9" fill="#f0e8e0" fill-opacity="0.9"/>
<circle cx="457.9" cy="387.5" r="0.9" fill="#f0e8e0" fill-opacity="0.9"/>
<circle cx="442.8" cy="395.8" r="0.9" fill="#f0e8e0" fill-opacity="0.9"/>
<circle cx="485.4" cy="393.3" r="0.9" fill="#f0e8e0" fill-opacity="0.9"/>
<circle cx="440.4" cy="395.1" r="0.9" fill="#f0e8e0" fill-opacity="0.9"/>
<circle cx="483.2" cy="389.8" r="0.9" fill="#f0e8e0" fill-opacity="0.9"/>
<circle cx="483.0" cy="389.6" r="0.9" fill="#f0e8e0" fill-opacity="0.9"/>
<circle cx="453.1" cy="384.8" r="0.9" fill="#f0e8e0" fill-opacity="0.9"/>
<circle cx="453.5" cy="383.8" r="0.9" fill="#f0e8e0" fill-opacity="0.9"/>
<circle cx="459.5" cy="393.8" r="0.9" fill="#f0e8e0" fill-opacity="0.9"/>
<circle cx="480.3" cy="395.1" r="0.9" fill="#f0e8e0" fill-opacity="0.9"/>
<circle cx="481.3" cy="387.0" r="0.9" fill="#f0e8e0" fill-opacity="0.9"/>
<circle cx="472.1" cy="389.4" r="0.9" fill="#f0e8e0" fill-opacity="0.9"/>
<circle cx="485.7" cy="390.6" r="0.9" fill="#f0e8e0" fill-opacity="0.9"/>
<circle cx="455.4" cy="392.3" r="0.9" fill="#f0e8e0" fill-opacity="0.9"/>
<circle cx="496.0" cy="386.3" r="0.9" fill="#f0e8e0" fill-opacity="0.9"/>
<circle cx="491.0" cy="383.5" r="0.9" fill="#f0e8e0" fill-opacity="0.9"/>
<circle cx="455.1" cy="386.6" r="0.9" fill="#f0e8e0" fill-opacity="0.9"/>
<circle cx="483.1" cy="414.3" r="0.8" fill="#6a6aa8" fill-opacity="0.7"/>
<circle cx="483.3" cy="403.2" r="0.8" fill="#6a6aa8" fill-opacity="0.7"/>
<circle cx="491.0" cy="403.2" r="0.8" fill="#6a6aa8" fill-opacity="0.7"/>
<circle cx="453.9" cy="413.6" r="0.8" fill="#6a6aa8" fill-opacity="0.7"/>
<circle cx="476.6" cy="409.8" r="0.8" fill="#6a6aa8" fill-opacity="0.7"/>
<circle cx="478.6" cy="414.9" r="0.8" fill="#6a6aa8" fill-opacity="0.7"/>
<circle cx="467.2" cy="412.4" r="0.8" fill="#6a6aa8" fill-opacity="0.7"/>
<circle cx="480.5" cy="412.7" r="0.8" fill="#6a6aa8" fill-opacity="0.7"/>
<circle cx="465.4" cy="410.3" r="0.8" fill="#6a6aa8" fill-opacity="0.7"/>
<circle cx="473.1" cy="402.8" r="0.8" fill="#6a6aa8" fill-opacity="0.7"/>
<circle cx="452.3" cy="408.5" r="0.8" fill="#6a6aa8" fill-opacity="0.7"/>
<circle cx="444.5" cy="413.7" r="0.8" fill="#6a6aa8" fill-opacity="0.7"/>
<circle cx="448.4" cy="397.8" r="0.8" fill="#6a6aa8" fill-opacity="0.7"/>
<circle cx="446.2" cy="414.0" r="0.8" fill="#6a6aa8" fill-opacity="0.7"/>
<circle cx="460.0" cy="399.9" r="0.8" fill="#6a6aa8" fill-opacity="0.7"/>
<circle cx="441.7" cy="398.0" r="0.8" fill="#6a6aa8" fill-opacity="0.7"/>
<circle cx="480.2" cy="408.7" r="0.8" fill="#6a6aa8" fill-opacity="0.7"/>
<circle cx="480.4" cy="410.6" r="0.8" fill="#6a6aa8" fill-opacity="0.7"/>
<circle cx="443.8" cy="407.9" r="0.8" fill="#6a6aa8" fill-opacity="0.7"/>
<circle cx="461.1" cy="412.0" r="0.8" fill="#6a6aa8" fill-opacity="0.7"/>
<circle cx="487.5" cy="413.3" r="0.8" fill="#6a6aa8" fill-opacity="0.7"/>
<circle cx="443.8" cy="412.9" r="0.8" fill="#6a6aa8" fill-opacity="0.7"/>
<circle cx="493.0" cy="414.3" r="0.8" fill="#6a6aa8" fill-opacity="0.7"/>
<circle cx="446.2" cy="401.0" r="0.8" fill="#6a6aa8" fill-opacity="0.7"/>
<circle cx="446.5" cy="397.9" r="0.8" fill="#6a6aa8" fill-opacity="0.7"/>
<circle cx="489.2" cy="411.9" r="0.8" fill="#6a6aa8" fill-opacity="0.7"/>
<circle cx="476.8" cy="412.2" r="0.8" fill="#6a6aa8" fill-opacity="0.7"/>
<circle cx="476.6" cy="402.5" r="0.8" fill="#6a6aa8" fill-opacity="0.7"/>
<circle cx="445.8" cy="399.1" r="0.8" fill="#6a6aa8" fill-opacity="0.7"/>
<circle cx="483.9" cy="401.0" r="0.8" fill="#6a6aa8" fill-opacity="0.7"/>
<polygon points="446.0,415.3 449.0,407.3 451.0,401.3 454.0,407.3 457.0,400.3 460.0,398.3 463.0,406.3 466.0,401.3 469.0,400.3 471.0,406.3 474.0,402.3 477.0,397.3 480.0,404.3 484.0,402.3 488.0,407.3 492.0,409.3 498.0,409.3 498.0,415.3" fill="#eef0f2" fill-opacity="1"/>
<polyline points="439.0,379.8 443.3,377.9 447.6,376.3 451.9,375.0 456.1,373.9 460.4,373.1 464.7,372.6 469.0,372.3 473.3,372.3 477.6,372.5 481.9,373.0 486.1,373.8 490.4,374.8 494.7,376.1 499.0,377.7" fill="none" stroke="#fbfbf6" stroke-width="1.1"/>
</g>
<clipPath id="tc8"><rect x="508.0" y="357.3" width="58.0" height="58.0"/></clipPath><g clip-path="url(#tc8)">
<rect x="508.0" y="357.3" width="58.0" height="58.0" fill="#e6e8e9"/>
<polygon points="507.0,377.4 511.3,377.1 515.6,376.8 519.9,376.6 524.1,376.5 528.4,376.4 532.7,376.3 537.0,376.3 541.3,376.3 545.6,376.4 549.9,376.5 554.1,376.6 558.4,376.8 562.7,377.1 567.0,377.4 568.0,417.3 506.0,417.3" fill="#d8cfba"/>
<polygon points="507.0,387.3 511.3,387.3 515.6,387.3 519.9,387.3 524.1,387.3 528.4,387.3 532.7,387.3 537.0,387.3 541.3,387.3 545.6,387.3 549.9,387.3 554.1,387.3 558.4,387.3 562.7,387.3 567.0,387.3 568.0,417.3 506.0,417.3" fill="#8c6232"/>
<polygon points="507.0,390.3 511.3,390.3 515.6,390.3 519.9,390.3 524.1,390.3 528.4,390.3 532.7,390.3 537.0,390.3 541.3,390.3 545.6,390.3 549.9,390.3 554.1,390.3 558.4,390.3 562.7,390.3 567.0,390.3 568.0,417.3 506.0,417.3" fill="#6c6ca0"/>
<polygon points="507.0,400.4 511.3,400.0 515.6,399.7 519.9,399.5 524.1,399.4 528.4,399.3 532.7,399.3 537.0,399.3 541.3,399.4 545.6,399.6 549.9,399.8 554.1,400.1 558.4,400.5 562.7,400.9 567.0,401.4 568.0,417.3 506.0,417.3" fill="#e2e7ee"/>
<circle cx="526.5" cy="394.5" r="0.9" fill="#4a4a98" fill-opacity="0.7"/>
<circle cx="509.2" cy="392.9" r="0.9" fill="#4a4a98" fill-opacity="0.7"/>
<circle cx="524.4" cy="397.5" r="0.9" fill="#4a4a98" fill-opacity="0.7"/>
<circle cx="529.3" cy="393.5" r="0.9" fill="#4a4a98" fill-opacity="0.7"/>
<circle cx="563.9" cy="395.3" r="0.9" fill="#4a4a98" fill-opacity="0.7"/>
<circle cx="557.4" cy="396.5" r="0.9" fill="#4a4a98" fill-opacity="0.7"/>
<circle cx="509.8" cy="394.4" r="0.9" fill="#4a4a98" fill-opacity="0.7"/>
<circle cx="533.3" cy="398.0" r="0.9" fill="#4a4a98" fill-opacity="0.7"/>
<circle cx="528.1" cy="397.3" r="0.9" fill="#4a4a98" fill-opacity="0.7"/>
<circle cx="539.2" cy="392.5" r="0.9" fill="#4a4a98" fill-opacity="0.7"/>
<circle cx="558.0" cy="391.2" r="0.9" fill="#4a4a98" fill-opacity="0.7"/>
<circle cx="555.5" cy="392.0" r="0.9" fill="#4a4a98" fill-opacity="0.7"/>
<circle cx="508.1" cy="392.3" r="0.9" fill="#4a4a98" fill-opacity="0.7"/>
<circle cx="552.2" cy="400.1" r="0.9" fill="#4a4a98" fill-opacity="0.7"/>
<circle cx="508.3" cy="395.2" r="0.9" fill="#4a4a98" fill-opacity="0.7"/>
<circle cx="536.5" cy="398.3" r="0.9" fill="#4a4a98" fill-opacity="0.7"/>
<circle cx="518.7" cy="395.2" r="0.9" fill="#4a4a98" fill-opacity="0.7"/>
<circle cx="528.1" cy="398.6" r="0.9" fill="#4a4a98" fill-opacity="0.7"/>
<circle cx="523.1" cy="399.7" r="0.9" fill="#4a4a98" fill-opacity="0.7"/>
<circle cx="524.5" cy="392.4" r="0.9" fill="#4a4a98" fill-opacity="0.7"/>
<circle cx="548.6" cy="395.3" r="0.9" fill="#4a4a98" fill-opacity="0.7"/>
<circle cx="514.4" cy="396.7" r="0.9" fill="#4a4a98" fill-opacity="0.7"/>
<circle cx="512.7" cy="398.2" r="0.9" fill="#4a4a98" fill-opacity="0.7"/>
<circle cx="548.4" cy="398.2" r="0.9" fill="#4a4a98" fill-opacity="0.7"/>
<circle cx="544.4" cy="393.9" r="0.9" fill="#4a4a98" fill-opacity="0.7"/>
<circle cx="531.3" cy="394.2" r="0.9" fill="#4a4a98" fill-opacity="0.7"/>
<circle cx="559.6" cy="391.2" r="0.9" fill="#4a4a98" fill-opacity="0.7"/>
<circle cx="559.5" cy="390.6" r="0.9" fill="#4a4a98" fill-opacity="0.7"/>
<circle cx="520.0" cy="392.9" r="0.9" fill="#4a4a98" fill-opacity="0.7"/>
<circle cx="560.3" cy="395.3" r="0.9" fill="#4a4a98" fill-opacity="0.7"/>
<circle cx="530.0" cy="399.1" r="0.9" fill="#4a4a98" fill-opacity="0.7"/>
<circle cx="521.5" cy="394.9" r="0.9" fill="#4a4a98" fill-opacity="0.7"/>
<circle cx="538.8" cy="397.8" r="0.9" fill="#4a4a98" fill-opacity="0.7"/>
<circle cx="551.7" cy="396.8" r="0.9" fill="#4a4a98" fill-opacity="0.7"/>
<circle cx="528.2" cy="393.6" r="0.9" fill="#4a4a98" fill-opacity="0.7"/>
<circle cx="517.0" cy="398.7" r="0.9" fill="#4a4a98" fill-opacity="0.7"/>
<circle cx="546.4" cy="397.7" r="0.9" fill="#4a4a98" fill-opacity="0.7"/>
<circle cx="517.8" cy="394.7" r="0.9" fill="#4a4a98" fill-opacity="0.7"/>
<circle cx="552.9" cy="396.1" r="0.9" fill="#4a4a98" fill-opacity="0.7"/>
<circle cx="515.3" cy="394.9" r="0.9" fill="#4a4a98" fill-opacity="0.7"/>
<circle cx="559.3" cy="406.2" r="0.7" fill="#8c8cc0" fill-opacity="0.7"/>
<circle cx="519.1" cy="406.9" r="0.7" fill="#8c8cc0" fill-opacity="0.7"/>
<circle cx="548.8" cy="413.4" r="0.7" fill="#8c8cc0" fill-opacity="0.7"/>
<circle cx="517.0" cy="405.2" r="0.7" fill="#8c8cc0" fill-opacity="0.7"/>
<circle cx="522.4" cy="407.2" r="0.7" fill="#8c8cc0" fill-opacity="0.7"/>
<circle cx="538.3" cy="405.2" r="0.7" fill="#8c8cc0" fill-opacity="0.7"/>
<circle cx="527.0" cy="405.6" r="0.7" fill="#8c8cc0" fill-opacity="0.7"/>
<circle cx="564.6" cy="412.0" r="0.7" fill="#8c8cc0" fill-opacity="0.7"/>
<circle cx="513.9" cy="414.8" r="0.7" fill="#8c8cc0" fill-opacity="0.7"/>
<circle cx="513.9" cy="407.9" r="0.7" fill="#8c8cc0" fill-opacity="0.7"/>
<circle cx="565.1" cy="412.8" r="0.7" fill="#8c8cc0" fill-opacity="0.7"/>
<circle cx="550.5" cy="408.5" r="0.7" fill="#8c8cc0" fill-opacity="0.7"/>
<circle cx="519.4" cy="411.0" r="0.7" fill="#8c8cc0" fill-opacity="0.7"/>
<circle cx="514.2" cy="405.8" r="0.7" fill="#8c8cc0" fill-opacity="0.7"/>
<circle cx="530.5" cy="403.7" r="0.7" fill="#8c8cc0" fill-opacity="0.7"/>
<circle cx="531.1" cy="412.8" r="0.7" fill="#8c8cc0" fill-opacity="0.7"/>
<circle cx="548.2" cy="409.3" r="0.7" fill="#8c8cc0" fill-opacity="0.7"/>
<circle cx="544.7" cy="408.9" r="0.7" fill="#8c8cc0" fill-opacity="0.7"/>
<polyline points="548.0,362.3 554.0,363.3 560.0,367.3" fill="none" stroke="#b89870" stroke-width="0.8" stroke-opacity="0.8"/>
<polyline points="507.0,377.4 511.3,377.1 515.6,376.8 519.9,376.6 524.1,376.5 528.4,376.4 532.7,376.3 537.0,376.3 541.3,376.3 545.6,376.4 549.9,376.5 554.1,376.6 558.4,376.8 562.7,377.1 567.0,377.4" fill="none" stroke="#fbfbf6" stroke-width="1.1"/>
</g>
<clipPath id="tc9"><rect x="305.5" y="423.0" width="58.0" height="58.0"/></clipPath><g clip-path="url(#tc9)">
<rect x="305.5" y="423.0" width="58.0" height="58.0" fill="#e8e8e8"/>
<polygon points="304.5,444.5 308.8,444.5 313.1,444.5 317.4,444.6 321.6,444.6 325.9,444.6 330.2,444.5 334.5,444.5 338.8,444.5 343.1,444.4 347.4,444.3 351.6,444.3 355.9,444.2 360.2,444.1 364.5,444.0 365.5,483.0 303.5,483.0" fill="#cdb894"/>
<polygon points="304.5,453.5 308.8,453.5 313.1,453.5 317.4,453.5 321.6,453.5 325.9,453.5 330.2,453.5 334.5,453.5 338.8,453.5 343.1,453.5 347.4,453.5 351.6,453.5 355.9,453.5 360.2,453.5 364.5,453.5 365.5,483.0 303.5,483.0" fill="#8a7e8c"/>
<polygon points="304.5,461.5 308.8,461.4 313.1,461.3 317.4,461.2 321.6,461.1 325.9,461.0 330.2,461.0 334.5,461.0 338.8,461.0 343.1,461.0 347.4,461.1 351.6,461.2 355.9,461.3 360.2,461.4 364.5,461.5 365.5,483.0 303.5,483.0" fill="#e4e1dc"/>
<ellipse cx="344.5" cy="443.5" rx="2.0" ry="1.8" fill="#7a4a1a" fill-opacity="1"/>
<circle cx="313.7" cy="473.9" r="0.8" fill="#a07850" fill-opacity="0.7"/>
<circle cx="329.0" cy="476.3" r="0.8" fill="#a07850" fill-opacity="0.7"/>
<circle cx="358.2" cy="470.7" r="0.8" fill="#a07850" fill-opacity="0.7"/>
<circle cx="338.8" cy="476.5" r="0.8" fill="#a07850" fill-opacity="0.7"/>
<circle cx="329.9" cy="467.1" r="0.8" fill="#a07850" fill-opacity="0.7"/>
<circle cx="347.4" cy="478.8" r="0.8" fill="#a07850" fill-opacity="0.7"/>
<circle cx="350.4" cy="475.6" r="0.8" fill="#a07850" fill-opacity="0.7"/>
<circle cx="354.9" cy="475.2" r="0.8" fill="#a07850" fill-opacity="0.7"/>
<circle cx="342.7" cy="471.2" r="0.8" fill="#a07850" fill-opacity="0.7"/>
<circle cx="323.7" cy="474.3" r="0.8" fill="#a07850" fill-opacity="0.7"/>
<circle cx="311.2" cy="470.6" r="0.8" fill="#a07850" fill-opacity="0.7"/>
<circle cx="350.9" cy="475.8" r="0.8" fill="#a07850" fill-opacity="0.7"/>
<circle cx="342.0" cy="467.5" r="0.8" fill="#a07850" fill-opacity="0.7"/>
<circle cx="330.1" cy="471.2" r="0.8" fill="#a07850" fill-opacity="0.7"/>
<circle cx="341.6" cy="470.4" r="0.8" fill="#a07850" fill-opacity="0.7"/>
<circle cx="344.7" cy="479.7" r="0.8" fill="#a07850" fill-opacity="0.7"/>
<circle cx="316.1" cy="474.8" r="0.8" fill="#a07850" fill-opacity="0.7"/>
<circle cx="350.6" cy="470.0" r="0.8" fill="#a07850" fill-opacity="0.7"/>
<circle cx="333.9" cy="480.5" r="0.8" fill="#a07850" fill-opacity="0.7"/>
<circle cx="307.7" cy="472.8" r="0.8" fill="#a07850" fill-opacity="0.7"/>
<circle cx="314.8" cy="477.1" r="0.8" fill="#a07850" fill-opacity="0.7"/>
<circle cx="360.1" cy="472.3" r="0.8" fill="#a07850" fill-opacity="0.7"/>
<circle cx="311.4" cy="473.3" r="0.8" fill="#a07850" fill-opacity="0.7"/>
<circle cx="336.9" cy="475.9" r="0.8" fill="#a07850" fill-opacity="0.7"/>
<circle cx="335.2" cy="474.5" r="0.8" fill="#a07850" fill-opacity="0.7"/>
<polyline points="304.5,469.0 308.8,469.0 313.1,469.0 317.4,469.0 321.6,469.0 325.9,469.0 330.2,469.0 334.5,469.0 338.8,469.0 343.1,469.0 347.4,469.0 351.6,469.0 355.9,469.0 360.2,469.0 364.5,469.0" fill="none" stroke="#b8b0b0" stroke-width="1.2" stroke-opacity="0.6"/>
<circle cx="353.6" cy="457.7" r="0.8" fill="#5a5a98" fill-opacity="0.6"/>
<circle cx="329.3" cy="460.6" r="0.8" fill="#5a5a98" fill-opacity="0.6"/>
<circle cx="317.7" cy="458.8" r="0.8" fill="#5a5a98" fill-opacity="0.6"/>
<circle cx="328.3" cy="459.3" r="0.8" fill="#5a5a98" fill-opacity="0.6"/>
<circle cx="312.6" cy="460.9" r="0.8" fill="#5a5a98" fill-opacity="0.6"/>
<circle cx="326.1" cy="454.4" r="0.8" fill="#5a5a98" fill-opacity="0.6"/>
<circle cx="321.4" cy="456.8" r="0.8" fill="#5a5a98" fill-opacity="0.6"/>
<circle cx="306.3" cy="456.9" r="0.8" fill="#5a5a98" fill-opacity="0.6"/>
<circle cx="329.9" cy="458.9" r="0.8" fill="#5a5a98" fill-opacity="0.6"/>
<circle cx="325.9" cy="455.9" r="0.8" fill="#5a5a98" fill-opacity="0.6"/>
<circle cx="318.5" cy="459.2" r="0.8" fill="#5a5a98" fill-opacity="0.6"/>
<circle cx="360.0" cy="457.7" r="0.8" fill="#5a5a98" fill-opacity="0.6"/>
<circle cx="318.2" cy="459.6" r="0.8" fill="#5a5a98" fill-opacity="0.6"/>
<circle cx="328.2" cy="455.5" r="0.8" fill="#5a5a98" fill-opacity="0.6"/>
<circle cx="313.0" cy="459.4" r="0.8" fill="#5a5a98" fill-opacity="0.6"/>
<circle cx="352.5" cy="458.4" r="0.8" fill="#5a5a98" fill-opacity="0.6"/>
<circle cx="332.7" cy="457.9" r="0.8" fill="#5a5a98" fill-opacity="0.6"/>
<circle cx="318.6" cy="460.7" r="0.8" fill="#5a5a98" fill-opacity="0.6"/>
<circle cx="326.0" cy="458.5" r="0.8" fill="#5a5a98" fill-opacity="0.6"/>
<circle cx="353.0" cy="459.7" r="0.8" fill="#5a5a98" fill-opacity="0.6"/>
<polyline points="304.5,444.5 308.8,444.5 313.1,444.5 317.4,444.6 321.6,444.6 325.9,444.6 330.2,444.5 334.5,444.5 338.8,444.5 343.1,444.4 347.4,444.3 351.6,444.3 355.9,444.2 360.2,444.1 364.5,444.0" fill="none" stroke="#fbfbf6" stroke-width="1.1"/>
</g>
<clipPath id="tc10"><rect x="373.2" y="423.0" width="58.0" height="58.0"/></clipPath><g clip-path="url(#tc10)">
<rect x="373.2" y="423.0" width="58.0" height="58.0" fill="#e8e8e8"/>
<polygon points="372.2,438.0 381.2,436.0 389.2,433.5 395.2,434.0 401.2,436.0 407.2,434.5 413.2,435.0 419.2,438.0 425.2,437.0 432.2,437.5 433.2,483.0 371.2,483.0" fill="#d8cbb0"/>
<polygon points="372.2,466.0 383.2,463.0 393.2,460.0 403.2,459.5 413.2,461.0 423.2,462.5 432.2,463.0 433.2,483.0 371.2,483.0" fill="#8c5a2c"/>
<circle cx="400.3" cy="469.7" r="1.0" fill="#b08050" fill-opacity="0.6"/>
<circle cx="405.0" cy="467.0" r="1.0" fill="#b08050" fill-opacity="0.6"/>
<circle cx="421.6" cy="470.7" r="1.0" fill="#b08050" fill-opacity="0.6"/>
<circle cx="422.5" cy="469.3" r="1.0" fill="#b08050" fill-opacity="0.6"/>
<circle cx="395.0" cy="469.1" r="1.0" fill="#b08050" fill-opacity="0.6"/>
<circle cx="397.9" cy="468.0" r="1.0" fill="#b08050" fill-opacity="0.6"/>
<circle cx="373.4" cy="476.5" r="1.0" fill="#b08050" fill-opacity="0.6"/>
<circle cx="389.5" cy="468.9" r="1.0" fill="#b08050" fill-opacity="0.6"/>
<circle cx="390.7" cy="472.7" r="1.0" fill="#b08050" fill-opacity="0.6"/>
<circle cx="398.1" cy="475.2" r="1.0" fill="#b08050" fill-opacity="0.6"/>
<circle cx="411.4" cy="470.8" r="1.0" fill="#b08050" fill-opacity="0.6"/>
<circle cx="427.1" cy="478.7" r="1.0" fill="#b08050" fill-opacity="0.6"/>
<circle cx="376.5" cy="478.2" r="1.0" fill="#b08050" fill-opacity="0.6"/>
<circle cx="425.7" cy="477.5" r="1.0" fill="#b08050" fill-opacity="0.6"/>
<circle cx="381.3" cy="478.3" r="1.0" fill="#b08050" fill-opacity="0.6"/>
<circle cx="409.9" cy="465.2" r="1.0" fill="#b08050" fill-opacity="0.6"/>
<circle cx="373.9" cy="480.2" r="1.0" fill="#b08050" fill-opacity="0.6"/>
<circle cx="411.2" cy="469.0" r="1.0" fill="#b08050" fill-opacity="0.6"/>
<circle cx="379.1" cy="467.3" r="1.0" fill="#b08050" fill-opacity="0.6"/>
<circle cx="386.8" cy="477.4" r="1.0" fill="#b08050" fill-opacity="0.6"/>
<circle cx="393.3" cy="467.4" r="1.0" fill="#b08050" fill-opacity="0.6"/>
<circle cx="425.6" cy="477.7" r="1.0" fill="#b08050" fill-opacity="0.6"/>
<circle cx="382.9" cy="479.3" r="1.0" fill="#b08050" fill-opacity="0.6"/>
<circle cx="408.5" cy="477.5" r="1.0" fill="#b08050" fill-opacity="0.6"/>
<circle cx="412.0" cy="479.3" r="1.0" fill="#b08050" fill-opacity="0.6"/>
<circle cx="418.9" cy="478.4" r="1.0" fill="#b08050" fill-opacity="0.6"/>
<circle cx="384.6" cy="476.1" r="1.0" fill="#b08050" fill-opacity="0.6"/>
<circle cx="404.0" cy="476.9" r="1.0" fill="#b08050" fill-opacity="0.6"/>
<circle cx="398.6" cy="479.1" r="1.0" fill="#b08050" fill-opacity="0.6"/>
<circle cx="405.4" cy="469.2" r="1.0" fill="#b08050" fill-opacity="0.6"/>
<circle cx="386.8" cy="467.2" r="0.8" fill="#6a3a18" fill-opacity="0.6"/>
<circle cx="401.8" cy="465.9" r="0.8" fill="#6a3a18" fill-opacity="0.6"/>
<circle cx="400.3" cy="467.3" r="0.8" fill="#6a3a18" fill-opacity="0.6"/>
<circle cx="401.7" cy="473.0" r="0.8" fill="#6a3a18" fill-opacity="0.6"/>
<circle cx="404.5" cy="478.8" r="0.8" fill="#6a3a18" fill-opacity="0.6"/>
<circle cx="373.6" cy="478.5" r="0.8" fill="#6a3a18" fill-opacity="0.6"/>
<circle cx="400.3" cy="474.0" r="0.8" fill="#6a3a18" fill-opacity="0.6"/>
<circle cx="411.8" cy="478.4" r="0.8" fill="#6a3a18" fill-opacity="0.6"/>
<circle cx="394.9" cy="471.7" r="0.8" fill="#6a3a18" fill-opacity="0.6"/>
<circle cx="428.9" cy="466.2" r="0.8" fill="#6a3a18" fill-opacity="0.6"/>
<circle cx="410.1" cy="475.2" r="0.8" fill="#6a3a18" fill-opacity="0.6"/>
<circle cx="374.9" cy="474.8" r="0.8" fill="#6a3a18" fill-opacity="0.6"/>
<circle cx="412.8" cy="479.9" r="0.8" fill="#6a3a18" fill-opacity="0.6"/>
<circle cx="392.4" cy="480.7" r="0.8" fill="#6a3a18" fill-opacity="0.6"/>
<circle cx="402.8" cy="472.8" r="0.8" fill="#6a3a18" fill-opacity="0.6"/>
<circle cx="425.3" cy="465.5" r="0.8" fill="#6a3a18" fill-opacity="0.6"/>
<circle cx="414.9" cy="475.0" r="0.8" fill="#6a3a18" fill-opacity="0.6"/>
<circle cx="392.8" cy="478.8" r="0.8" fill="#6a3a18" fill-opacity="0.6"/>
<circle cx="394.4" cy="472.6" r="0.8" fill="#6a3a18" fill-opacity="0.6"/>
<circle cx="403.7" cy="477.3" r="0.8" fill="#6a3a18" fill-opacity="0.6"/>
<circle cx="385.4" cy="472.0" r="0.8" fill="#6a3a18" fill-opacity="0.6"/>
<circle cx="397.7" cy="473.9" r="0.8" fill="#6a3a18" fill-opacity="0.6"/>
<circle cx="421.2" cy="469.7" r="0.8" fill="#6a3a18" fill-opacity="0.6"/>
<circle cx="421.2" cy="471.5" r="0.8" fill="#6a3a18" fill-opacity="0.6"/>
<circle cx="402.4" cy="469.3" r="0.8" fill="#6a3a18" fill-opacity="0.6"/>
<circle cx="402.6" cy="480.6" r="0.8" fill="#6a3a18" fill-opacity="0.6"/>
<circle cx="411.2" cy="477.7" r="0.8" fill="#6a3a18" fill-opacity="0.6"/>
<circle cx="392.4" cy="470.1" r="0.8" fill="#6a3a18" fill-opacity="0.6"/>
<circle cx="390.6" cy="474.4" r="0.8" fill="#6a3a18" fill-opacity="0.6"/>
<circle cx="410.0" cy="477.5" r="0.8" fill="#6a3a18" fill-opacity="0.6"/>
<polyline points="372.2,438.0 381.2,436.0 389.2,433.5 395.2,434.0 401.2,436.0 407.2,434.5 413.2,435.0 419.2,438.0 425.2,437.0 432.2,437.5" fill="none" stroke="#fbfbf6" stroke-width="1.1"/>
</g>
<clipPath id="tc11"><rect x="440.0" y="423.0" width="58.0" height="58.0"/></clipPath><g clip-path="url(#tc11)">
<rect x="440.0" y="423.0" width="58.0" height="58.0" fill="#e8e8e8"/>
<polygon points="439.0,446.7 443.3,446.0 447.6,445.4 451.9,444.9 456.1,444.5 460.4,444.1 464.7,443.8 469.0,443.5 473.3,443.3 477.6,443.2 481.9,443.1 486.1,443.1 490.4,443.2 494.7,443.3 499.0,443.6 500.0,483.0 438.0,483.0" fill="#cab994"/>
<polygon points="439.0,454.1 443.3,453.8 447.6,453.6 451.9,453.5 456.1,453.3 460.4,453.2 464.7,453.1 469.0,453.0 473.3,452.9 477.6,452.9 481.9,452.9 486.1,452.9 490.4,452.9 494.7,452.9 499.0,453.0 500.0,483.0 438.0,483.0" fill="#7e6c78"/>
<polygon points="439.0,468.1 443.3,467.8 447.6,467.5 451.9,467.3 456.1,467.2 460.4,467.1 464.7,467.0 469.0,467.0 473.3,467.0 477.6,467.1 481.9,467.2 486.1,467.3 490.4,467.5 494.7,467.8 499.0,468.1 500.0,483.0 438.0,483.0" fill="#e2ddd2"/>
<circle cx="442.3" cy="465.5" r="0.9" fill="#4e4e98" fill-opacity="0.7"/>
<circle cx="491.4" cy="463.9" r="0.9" fill="#4e4e98" fill-opacity="0.7"/>
<circle cx="442.9" cy="461.7" r="0.9" fill="#4e4e98" fill-opacity="0.7"/>
<circle cx="440.4" cy="460.7" r="0.9" fill="#4e4e98" fill-opacity="0.7"/>
<circle cx="493.4" cy="464.5" r="0.9" fill="#4e4e98" fill-opacity="0.7"/>
<circle cx="478.2" cy="466.1" r="0.9" fill="#4e4e98" fill-opacity="0.7"/>
<circle cx="492.8" cy="464.5" r="0.9" fill="#4e4e98" fill-opacity="0.7"/>
<circle cx="475.8" cy="464.6" r="0.9" fill="#4e4e98" fill-opacity="0.7"/>
<circle cx="480.4" cy="464.4" r="0.9" fill="#4e4e98" fill-opacity="0.7"/>
<circle cx="479.5" cy="460.9" r="0.9" fill="#4e4e98" fill-opacity="0.7"/>
<circle cx="478.7" cy="463.1" r="0.9" fill="#4e4e98" fill-opacity="0.7"/>
<circle cx="484.2" cy="459.9" r="0.9" fill="#4e4e98" fill-opacity="0.7"/>
<circle cx="450.5" cy="459.3" r="0.9" fill="#4e4e98" fill-opacity="0.7"/>
<circle cx="484.9" cy="467.2" r="0.9" fill="#4e4e98" fill-opacity="0.7"/>
<circle cx="478.0" cy="462.3" r="0.9" fill="#4e4e98" fill-opacity="0.7"/>
<circle cx="487.7" cy="466.1" r="0.9" fill="#4e4e98" fill-opacity="0.7"/>
<circle cx="472.6" cy="461.3" r="0.9" fill="#4e4e98" fill-opacity="0.7"/>
<circle cx="457.5" cy="462.8" r="0.9" fill="#4e4e98" fill-opacity="0.7"/>
<circle cx="458.5" cy="462.9" r="0.9" fill="#4e4e98" fill-opacity="0.7"/>
<circle cx="477.2" cy="467.4" r="0.9" fill="#4e4e98" fill-opacity="0.7"/>
<circle cx="443.2" cy="464.1" r="0.9" fill="#4e4e98" fill-opacity="0.7"/>
<circle cx="442.3" cy="460.1" r="0.9" fill="#4e4e98" fill-opacity="0.7"/>
<circle cx="487.0" cy="464.2" r="0.9" fill="#4e4e98" fill-opacity="0.7"/>
<circle cx="493.3" cy="463.0" r="0.9" fill="#4e4e98" fill-opacity="0.7"/>
<circle cx="440.8" cy="462.5" r="0.9" fill="#4e4e98" fill-opacity="0.7"/>
<circle cx="474.3" cy="467.4" r="0.9" fill="#4e4e98" fill-opacity="0.7"/>
<circle cx="496.9" cy="463.3" r="0.9" fill="#4e4e98" fill-opacity="0.7"/>
<circle cx="463.9" cy="459.9" r="0.9" fill="#4e4e98" fill-opacity="0.7"/>
<circle cx="477.4" cy="460.9" r="0.9" fill="#4e4e98" fill-opacity="0.7"/>
<circle cx="448.8" cy="459.1" r="0.9" fill="#4e4e98" fill-opacity="0.7"/>
<circle cx="440.3" cy="465.2" r="0.9" fill="#4e4e98" fill-opacity="0.7"/>
<circle cx="447.1" cy="467.7" r="0.9" fill="#4e4e98" fill-opacity="0.7"/>
<circle cx="445.1" cy="466.8" r="0.9" fill="#4e4e98" fill-opacity="0.7"/>
<circle cx="447.5" cy="459.2" r="0.9" fill="#4e4e98" fill-opacity="0.7"/>
<circle cx="481.7" cy="461.2" r="0.9" fill="#4e4e98" fill-opacity="0.7"/>
<circle cx="482.5" cy="460.7" r="0.9" fill="#4e4e98" fill-opacity="0.7"/>
<circle cx="442.9" cy="466.0" r="0.9" fill="#4e4e98" fill-opacity="0.7"/>
<circle cx="481.4" cy="466.7" r="0.9" fill="#4e4e98" fill-opacity="0.7"/>
<circle cx="482.3" cy="459.8" r="0.9" fill="#4e4e98" fill-opacity="0.7"/>
<circle cx="476.5" cy="465.4" r="0.9" fill="#4e4e98" fill-opacity="0.7"/>
<circle cx="466.7" cy="467.4" r="0.9" fill="#4e4e98" fill-opacity="0.7"/>
<circle cx="454.7" cy="467.7" r="0.9" fill="#4e4e98" fill-opacity="0.7"/>
<circle cx="481.6" cy="459.1" r="0.9" fill="#4e4e98" fill-opacity="0.7"/>
<circle cx="440.9" cy="464.9" r="0.9" fill="#4e4e98" fill-opacity="0.7"/>
<circle cx="487.4" cy="459.7" r="0.9" fill="#4e4e98" fill-opacity="0.7"/>
<circle cx="458.0" cy="477.8" r="0.9" fill="#a07040" fill-opacity="0.7"/>
<circle cx="449.6" cy="479.3" r="0.9" fill="#a07040" fill-opacity="0.7"/>
<circle cx="468.2" cy="469.7" r="0.9" fill="#a07040" fill-opacity="0.7"/>
<circle cx="461.3" cy="475.9" r="0.9" fill="#a07040" fill-opacity="0.7"/>
<circle cx="465.4" cy="477.1" r="0.9" fill="#a07040" fill-opacity="0.7"/>
<circle cx="448.4" cy="478.6" r="0.9" fill="#a07040" fill-opacity="0.7"/>
<circle cx="461.1" cy="476.7" r="0.9" fill="#a07040" fill-opacity="0.7"/>
<circle cx="476.5" cy="474.0" r="0.9" fill="#a07040" fill-opacity="0.7"/>
<circle cx="462.4" cy="478.4" r="0.9" fill="#a07040" fill-opacity="0.7"/>
<circle cx="494.8" cy="478.4" r="0.9" fill="#a07040" fill-opacity="0.7"/>
<circle cx="472.9" cy="472.5" r="0.9" fill="#a07040" fill-opacity="0.7"/>
<circle cx="443.5" cy="480.7" r="0.9" fill="#a07040" fill-opacity="0.7"/>
<circle cx="480.8" cy="478.9" r="0.9" fill="#a07040" fill-opacity="0.7"/>
<circle cx="459.3" cy="476.3" r="0.9" fill="#a07040" fill-opacity="0.7"/>
<circle cx="496.7" cy="479.0" r="0.9" fill="#a07040" fill-opacity="0.7"/>
<circle cx="474.9" cy="472.7" r="0.9" fill="#a07040" fill-opacity="0.7"/>
<circle cx="464.9" cy="479.7" r="0.9" fill="#a07040" fill-opacity="0.7"/>
<circle cx="461.8" cy="477.2" r="0.9" fill="#a07040" fill-opacity="0.7"/>
<circle cx="474.9" cy="479.8" r="0.9" fill="#a07040" fill-opacity="0.7"/>
<circle cx="486.8" cy="472.4" r="0.9" fill="#a07040" fill-opacity="0.7"/>
<polyline points="439.0,446.7 443.3,446.0 447.6,445.4 451.9,444.9 456.1,444.5 460.4,444.1 464.7,443.8 469.0,443.5 473.3,443.3 477.6,443.2 481.9,443.1 486.1,443.1 490.4,443.2 494.7,443.3 499.0,443.6" fill="none" stroke="#fbfbf6" stroke-width="1.1"/>
</g>
<clipPath id="tc12"><rect x="508.0" y="423.0" width="58.0" height="58.0"/></clipPath><g clip-path="url(#tc12)">
<rect x="508.0" y="423.0" width="58.0" height="58.0" fill="#e8e8e8"/>
<polygon points="507.0,452.1 511.3,450.5 515.6,449.2 519.9,448.1 524.1,447.2 528.4,446.4 532.7,445.9 537.0,445.6 541.3,445.5 545.6,445.6 549.9,445.8 554.1,446.3 558.4,447.0 562.7,447.9 567.0,449.0 568.0,483.0 506.0,483.0" fill="#cbbb96"/>
<polygon points="507.0,463.6 511.3,461.3 515.6,459.3 519.9,457.6 524.1,456.3 528.4,455.2 532.7,454.4 537.0,454.0 541.3,453.9 545.6,454.0 549.9,454.5 554.1,455.3 558.4,456.3 562.7,457.7 567.0,459.4 568.0,483.0 506.0,483.0" fill="#766262"/>
<polygon points="507.0,481.8 511.3,478.5 515.6,475.8 519.9,473.6 524.1,471.9 528.4,470.8 532.7,470.1 537.0,470.0 541.3,470.4 545.6,471.3 549.9,472.8 554.1,474.8 558.4,477.3 562.7,480.3 567.0,483.9 568.0,483.0 506.0,483.0" fill="#e0d8c8"/>
<circle cx="508.1" cy="464.2" r="0.9" fill="#54549a" fill-opacity="0.7"/>
<circle cx="532.5" cy="468.0" r="0.9" fill="#54549a" fill-opacity="0.7"/>
<circle cx="555.3" cy="471.6" r="0.9" fill="#54549a" fill-opacity="0.7"/>
<circle cx="510.5" cy="471.0" r="0.9" fill="#54549a" fill-opacity="0.7"/>
<circle cx="555.1" cy="471.4" r="0.9" fill="#54549a" fill-opacity="0.7"/>
<circle cx="541.2" cy="464.3" r="0.9" fill="#54549a" fill-opacity="0.7"/>
<circle cx="557.4" cy="470.7" r="0.9" fill="#54549a" fill-opacity="0.7"/>
<circle cx="547.7" cy="472.0" r="0.9" fill="#54549a" fill-opacity="0.7"/>
<circle cx="528.1" cy="462.0" r="0.9" fill="#54549a" fill-opacity="0.7"/>
<circle cx="540.1" cy="470.6" r="0.9" fill="#54549a" fill-opacity="0.7"/>
<circle cx="519.6" cy="470.0" r="0.9" fill="#54549a" fill-opacity="0.7"/>
<circle cx="562.0" cy="463.8" r="0.9" fill="#54549a" fill-opacity="0.7"/>
<circle cx="543.2" cy="469.1" r="0.9" fill="#54549a" fill-opacity="0.7"/>
<circle cx="535.0" cy="463.5" r="0.9" fill="#54549a" fill-opacity="0.7"/>
<circle cx="522.8" cy="470.0" r="0.9" fill="#54549a" fill-opacity="0.7"/>
<circle cx="553.9" cy="466.5" r="0.9" fill="#54549a" fill-opacity="0.7"/>
<circle cx="513.1" cy="470.7" r="0.9" fill="#54549a" fill-opacity="0.7"/>
<circle cx="552.8" cy="463.8" r="0.9" fill="#54549a" fill-opacity="0.7"/>
<circle cx="541.6" cy="471.8" r="0.9" fill="#54549a" fill-opacity="0.7"/>
<circle cx="559.3" cy="467.3" r="0.9" fill="#54549a" fill-opacity="0.7"/>
<circle cx="535.6" cy="468.1" r="0.9" fill="#54549a" fill-opacity="0.7"/>
<circle cx="519.0" cy="463.3" r="0.9" fill="#54549a" fill-opacity="0.7"/>
<circle cx="518.5" cy="469.4" r="0.9" fill="#54549a" fill-opacity="0.7"/>
<circle cx="529.0" cy="467.8" r="0.9" fill="#54549a" fill-opacity="0.7"/>
<circle cx="531.3" cy="467.2" r="0.9" fill="#54549a" fill-opacity="0.7"/>
<circle cx="516.6" cy="461.5" r="0.9" fill="#54549a" fill-opacity="0.7"/>
<circle cx="565.8" cy="465.5" r="0.9" fill="#54549a" fill-opacity="0.7"/>
<circle cx="514.2" cy="468.6" r="0.9" fill="#54549a" fill-opacity="0.7"/>
<circle cx="553.7" cy="462.9" r="0.9" fill="#54549a" fill-opacity="0.7"/>
<circle cx="542.6" cy="465.1" r="0.9" fill="#54549a" fill-opacity="0.7"/>
<circle cx="538.1" cy="461.2" r="0.9" fill="#54549a" fill-opacity="0.7"/>
<circle cx="509.9" cy="472.9" r="0.9" fill="#54549a" fill-opacity="0.7"/>
<circle cx="558.2" cy="466.8" r="0.9" fill="#54549a" fill-opacity="0.7"/>
<circle cx="540.9" cy="464.1" r="0.9" fill="#54549a" fill-opacity="0.7"/>
<circle cx="553.2" cy="466.1" r="0.9" fill="#54549a" fill-opacity="0.7"/>
<circle cx="562.9" cy="479.1" r="0.9" fill="#a07040" fill-opacity="0.7"/>
<circle cx="555.5" cy="480.7" r="0.9" fill="#a07040" fill-opacity="0.7"/>
<circle cx="522.7" cy="473.3" r="0.9" fill="#a07040" fill-opacity="0.7"/>
<circle cx="519.7" cy="474.4" r="0.9" fill="#a07040" fill-opacity="0.7"/>
<circle cx="512.9" cy="473.4" r="0.9" fill="#a07040" fill-opacity="0.7"/>
<circle cx="540.3" cy="480.0" r="0.9" fill="#a07040" fill-opacity="0.7"/>
<circle cx="534.6" cy="480.6" r="0.9" fill="#a07040" fill-opacity="0.7"/>
<circle cx="560.8" cy="473.5" r="0.9" fill="#a07040" fill-opacity="0.7"/>
<circle cx="542.7" cy="476.2" r="0.9" fill="#a07040" fill-opacity="0.7"/>
<circle cx="515.0" cy="480.7" r="0.9" fill="#a07040" fill-opacity="0.7"/>
<polyline points="507.0,452.1 511.3,450.5 515.6,449.2 519.9,448.1 524.1,447.2 528.4,446.4 532.7,445.9 537.0,445.6 541.3,445.5 545.6,445.6 549.9,445.8 554.1,446.3 558.4,447.0 562.7,447.9 567.0,449.0" fill="none" stroke="#fbfbf6" stroke-width="1.1"/>
</g>
<clipPath id="tc13"><rect x="305.5" y="488.5" width="58.0" height="58.0"/></clipPath><g clip-path="url(#tc13)">
<rect x="305.5" y="488.5" width="58.0" height="58.0" fill="#e2e5e7"/>
<polygon points="304.5,509.0 308.8,508.9 313.1,508.7 317.4,508.6 321.6,508.4 325.9,508.3 330.2,508.1 334.5,508.0 338.8,507.9 343.1,507.7 347.4,507.6 351.6,507.4 355.9,507.3 360.2,507.1 364.5,507.0 365.5,548.5 303.5,548.5" fill="#d3c9b2"/>
<polygon points="304.5,515.5 308.8,515.4 313.1,515.3 317.4,515.2 321.6,515.1 325.9,515.0 330.2,515.0 334.5,515.0 338.8,515.0 343.1,515.0 347.4,515.1 351.6,515.2 355.9,515.3 360.2,515.4 364.5,515.5 365.5,548.5 303.5,548.5" fill="#7a4a2a"/>
<polygon points="304.5,518.0 308.8,517.9 313.1,517.8 317.4,517.7 321.6,517.6 325.9,517.5 330.2,517.5 334.5,517.5 338.8,517.5 343.1,517.5 347.4,517.6 351.6,517.7 355.9,517.8 360.2,517.9 364.5,518.0 365.5,548.5 303.5,548.5" fill="#b4b6cc"/>
<polygon points="304.5,531.6 308.8,531.3 313.1,531.0 317.4,530.8 321.6,530.7 325.9,530.6 330.2,530.5 334.5,530.5 338.8,530.5 343.1,530.6 347.4,530.7 351.6,530.8 355.9,531.0 360.2,531.3 364.5,531.6 365.5,548.5 303.5,548.5" fill="#e0e2e6"/>
<circle cx="320.4" cy="525.8" r="0.9" fill="#4a52a0" fill-opacity="0.75"/>
<circle cx="342.7" cy="530.9" r="0.9" fill="#4a52a0" fill-opacity="0.75"/>
<circle cx="344.3" cy="523.6" r="0.9" fill="#4a52a0" fill-opacity="0.75"/>
<circle cx="331.5" cy="520.6" r="0.9" fill="#4a52a0" fill-opacity="0.75"/>
<circle cx="361.5" cy="531.4" r="0.9" fill="#4a52a0" fill-opacity="0.75"/>
<circle cx="318.4" cy="519.0" r="0.9" fill="#4a52a0" fill-opacity="0.75"/>
<circle cx="320.3" cy="523.1" r="0.9" fill="#4a52a0" fill-opacity="0.75"/>
<circle cx="357.9" cy="530.3" r="0.9" fill="#4a52a0" fill-opacity="0.75"/>
<circle cx="354.1" cy="519.1" r="0.9" fill="#4a52a0" fill-opacity="0.75"/>
<circle cx="351.1" cy="527.7" r="0.9" fill="#4a52a0" fill-opacity="0.75"/>
<circle cx="343.0" cy="531.3" r="0.9" fill="#4a52a0" fill-opacity="0.75"/>
<circle cx="308.7" cy="520.4" r="0.9" fill="#4a52a0" fill-opacity="0.75"/>
<circle cx="349.3" cy="530.7" r="0.9" fill="#4a52a0" fill-opacity="0.75"/>
<circle cx="344.8" cy="522.4" r="0.9" fill="#4a52a0" fill-opacity="0.75"/>
<circle cx="339.8" cy="528.4" r="0.9" fill="#4a52a0" fill-opacity="0.75"/>
<circle cx="311.6" cy="522.7" r="0.9" fill="#4a52a0" fill-opacity="0.75"/>
<circle cx="320.4" cy="520.1" r="0.9" fill="#4a52a0" fill-opacity="0.75"/>
<circle cx="333.4" cy="520.7" r="0.9" fill="#4a52a0" fill-opacity="0.75"/>
<circle cx="319.3" cy="520.4" r="0.9" fill="#4a52a0" fill-opacity="0.75"/>
<circle cx="344.8" cy="518.7" r="0.9" fill="#4a52a0" fill-opacity="0.75"/>
<circle cx="347.1" cy="521.0" r="0.9" fill="#4a52a0" fill-opacity="0.75"/>
<circle cx="307.6" cy="530.6" r="0.9" fill="#4a52a0" fill-opacity="0.75"/>
<circle cx="318.3" cy="530.6" r="0.9" fill="#4a52a0" fill-opacity="0.75"/>
<circle cx="355.8" cy="530.1" r="0.9" fill="#4a52a0" fill-opacity="0.75"/>
<circle cx="313.6" cy="524.3" r="0.9" fill="#4a52a0" fill-opacity="0.75"/>
<circle cx="311.1" cy="530.6" r="0.9" fill="#4a52a0" fill-opacity="0.75"/>
<circle cx="354.4" cy="526.7" r="0.9" fill="#4a52a0" fill-opacity="0.75"/>
<circle cx="331.7" cy="522.9" r="0.9" fill="#4a52a0" fill-opacity="0.75"/>
<circle cx="353.2" cy="524.7" r="0.9" fill="#4a52a0" fill-opacity="0.75"/>
<circle cx="341.9" cy="520.4" r="0.9" fill="#4a52a0" fill-opacity="0.75"/>
<circle cx="318.4" cy="519.2" r="0.9" fill="#4a52a0" fill-opacity="0.75"/>
<circle cx="346.9" cy="525.7" r="0.9" fill="#4a52a0" fill-opacity="0.75"/>
<circle cx="313.9" cy="529.8" r="0.9" fill="#4a52a0" fill-opacity="0.75"/>
<circle cx="321.0" cy="523.9" r="0.9" fill="#4a52a0" fill-opacity="0.75"/>
<circle cx="314.5" cy="522.0" r="0.9" fill="#4a52a0" fill-opacity="0.75"/>
<circle cx="354.2" cy="522.8" r="0.9" fill="#4a52a0" fill-opacity="0.75"/>
<circle cx="315.2" cy="524.9" r="0.9" fill="#4a52a0" fill-opacity="0.75"/>
<circle cx="323.9" cy="530.2" r="0.9" fill="#4a52a0" fill-opacity="0.75"/>
<circle cx="312.1" cy="531.2" r="0.9" fill="#4a52a0" fill-opacity="0.75"/>
<circle cx="308.8" cy="530.1" r="0.9" fill="#4a52a0" fill-opacity="0.75"/>
<circle cx="344.3" cy="521.2" r="0.9" fill="#4a52a0" fill-opacity="0.75"/>
<circle cx="333.2" cy="522.2" r="0.9" fill="#4a52a0" fill-opacity="0.75"/>
<circle cx="320.5" cy="521.1" r="0.9" fill="#4a52a0" fill-opacity="0.75"/>
<circle cx="326.6" cy="531.4" r="0.9" fill="#4a52a0" fill-opacity="0.75"/>
<circle cx="363.4" cy="530.5" r="0.9" fill="#4a52a0" fill-opacity="0.75"/>
<circle cx="311.2" cy="522.3" r="0.9" fill="#4a52a0" fill-opacity="0.75"/>
<circle cx="357.5" cy="519.2" r="0.9" fill="#4a52a0" fill-opacity="0.75"/>
<circle cx="347.6" cy="522.3" r="0.9" fill="#4a52a0" fill-opacity="0.75"/>
<circle cx="362.3" cy="518.7" r="0.9" fill="#4a52a0" fill-opacity="0.75"/>
<circle cx="352.3" cy="522.9" r="0.9" fill="#4a52a0" fill-opacity="0.75"/>
<circle cx="313.6" cy="518.5" r="0.9" fill="#4a52a0" fill-opacity="0.75"/>
<circle cx="353.8" cy="525.3" r="0.9" fill="#4a52a0" fill-opacity="0.75"/>
<circle cx="316.3" cy="524.2" r="0.9" fill="#4a52a0" fill-opacity="0.75"/>
<circle cx="358.4" cy="521.3" r="0.9" fill="#4a52a0" fill-opacity="0.75"/>
<circle cx="338.6" cy="520.3" r="0.9" fill="#4a52a0" fill-opacity="0.75"/>
<circle cx="315.9" cy="528.5" r="0.9" fill="#4a52a0" fill-opacity="0.75"/>
<circle cx="346.8" cy="521.1" r="0.9" fill="#4a52a0" fill-opacity="0.75"/>
<circle cx="310.1" cy="519.6" r="0.9" fill="#4a52a0" fill-opacity="0.75"/>
<circle cx="340.8" cy="524.9" r="0.9" fill="#4a52a0" fill-opacity="0.75"/>
<circle cx="321.4" cy="521.2" r="0.9" fill="#4a52a0" fill-opacity="0.75"/>
<circle cx="341.0" cy="527.7" r="0.9" fill="#4a52a0" fill-opacity="0.75"/>
<circle cx="352.6" cy="526.1" r="0.9" fill="#4a52a0" fill-opacity="0.75"/>
<circle cx="317.2" cy="519.4" r="0.9" fill="#4a52a0" fill-opacity="0.75"/>
<circle cx="348.0" cy="523.8" r="0.9" fill="#4a52a0" fill-opacity="0.75"/>
<circle cx="347.4" cy="519.2" r="0.9" fill="#4a52a0" fill-opacity="0.75"/>
<circle cx="352.5" cy="522.9" r="0.9" fill="#4a52a0" fill-opacity="0.75"/>
<circle cx="354.3" cy="529.7" r="0.9" fill="#4a52a0" fill-opacity="0.75"/>
<circle cx="334.1" cy="518.7" r="0.9" fill="#4a52a0" fill-opacity="0.75"/>
<circle cx="358.3" cy="524.7" r="0.9" fill="#4a52a0" fill-opacity="0.75"/>
<circle cx="356.1" cy="522.0" r="0.9" fill="#4a52a0" fill-opacity="0.75"/>
<circle cx="316.3" cy="529.3" r="0.9" fill="#4a52a0" fill-opacity="0.75"/>
<circle cx="326.8" cy="520.6" r="0.9" fill="#4a52a0" fill-opacity="0.75"/>
<circle cx="327.0" cy="526.2" r="0.9" fill="#4a52a0" fill-opacity="0.75"/>
<circle cx="305.8" cy="525.3" r="0.9" fill="#4a52a0" fill-opacity="0.75"/>
<circle cx="331.4" cy="525.2" r="0.9" fill="#4a52a0" fill-opacity="0.75"/>
<circle cx="312.5" cy="527.8" r="0.9" fill="#4a52a0" fill-opacity="0.75"/>
<circle cx="352.9" cy="529.8" r="0.9" fill="#4a52a0" fill-opacity="0.75"/>
<circle cx="324.1" cy="527.7" r="0.9" fill="#4a52a0" fill-opacity="0.75"/>
<circle cx="327.6" cy="528.3" r="0.9" fill="#4a52a0" fill-opacity="0.75"/>
<circle cx="309.1" cy="529.8" r="0.9" fill="#4a52a0" fill-opacity="0.75"/>
<circle cx="360.8" cy="524.9" r="0.9" fill="#4a52a0" fill-opacity="0.75"/>
<circle cx="335.3" cy="525.4" r="0.9" fill="#4a52a0" fill-opacity="0.75"/>
<circle cx="336.7" cy="518.8" r="0.9" fill="#4a52a0" fill-opacity="0.75"/>
<circle cx="361.6" cy="521.4" r="0.9" fill="#4a52a0" fill-opacity="0.75"/>
<circle cx="316.1" cy="519.8" r="0.9" fill="#4a52a0" fill-opacity="0.75"/>
<circle cx="320.0" cy="543.9" r="0.7" fill="#7a80b0" fill-opacity="0.7"/>
<circle cx="307.2" cy="533.9" r="0.7" fill="#7a80b0" fill-opacity="0.7"/>
<circle cx="346.0" cy="535.2" r="0.7" fill="#7a80b0" fill-opacity="0.7"/>
<circle cx="306.5" cy="540.9" r="0.7" fill="#7a80b0" fill-opacity="0.7"/>
<circle cx="338.9" cy="539.8" r="0.7" fill="#7a80b0" fill-opacity="0.7"/>
<circle cx="346.3" cy="533.9" r="0.7" fill="#7a80b0" fill-opacity="0.7"/>
<circle cx="355.9" cy="542.5" r="0.7" fill="#7a80b0" fill-opacity="0.7"/>
<circle cx="308.1" cy="534.2" r="0.7" fill="#7a80b0" fill-opacity="0.7"/>
<circle cx="334.1" cy="539.5" r="0.7" fill="#7a80b0" fill-opacity="0.7"/>
<circle cx="321.7" cy="534.2" r="0.7" fill="#7a80b0" fill-opacity="0.7"/>
<circle cx="329.0" cy="534.4" r="0.7" fill="#7a80b0" fill-opacity="0.7"/>
<circle cx="339.8" cy="544.6" r="0.7" fill="#7a80b0" fill-opacity="0.7"/>
<circle cx="314.0" cy="540.5" r="0.7" fill="#7a80b0" fill-opacity="0.7"/>
<circle cx="348.8" cy="534.8" r="0.7" fill="#7a80b0" fill-opacity="0.7"/>
<polyline points="304.5,509.0 308.8,508.9 313.1,508.7 317.4,508.6 321.6,508.4 325.9,508.3 330.2,508.1 334.5,508.0 338.8,507.9 343.1,507.7 347.4,507.6 351.6,507.4 355.9,507.3 360.2,507.1 364.5,507.0" fill="none" stroke="#fbfbf6" stroke-width="1.1"/>
</g>
<clipPath id="tc14"><rect x="373.2" y="488.5" width="58.0" height="58.0"/></clipPath><g clip-path="url(#tc14)">
<rect x="373.2" y="488.5" width="58.0" height="58.0" fill="#e2e5e6"/>
<polygon points="372.2,499.6 376.5,499.3 380.8,499.1 385.1,498.9 389.3,498.8 393.6,498.6 397.9,498.6 402.2,498.5 406.5,498.5 410.8,498.5 415.1,498.5 419.3,498.6 423.6,498.7 427.9,498.9 432.2,499.0 433.2,548.5 371.2,548.5" fill="#dad2c2"/>
<polygon points="372.2,521.5 376.5,521.5 380.8,521.5 385.1,521.5 389.3,521.5 393.6,521.5 397.9,521.5 402.2,521.5 406.5,521.5 410.8,521.5 415.1,521.5 419.3,521.5 423.6,521.5 427.9,521.5 432.2,521.5 433.2,548.5 371.2,548.5" fill="#8a5226"/>
<polygon points="372.2,529.5 376.5,529.5 380.8,529.5 385.1,529.5 389.3,529.5 393.6,529.5 397.9,529.5 402.2,529.5 406.5,529.5 410.8,529.5 415.1,529.5 419.3,529.5 423.6,529.5 427.9,529.5 432.2,529.5 433.2,548.5 371.2,548.5" fill="#bcb0a4"/>
<circle cx="421.1" cy="545.5" r="0.9" fill="#7a80b8" fill-opacity="0.7"/>
<circle cx="395.7" cy="537.2" r="0.9" fill="#7a80b8" fill-opacity="0.7"/>
<circle cx="421.9" cy="538.9" r="0.9" fill="#7a80b8" fill-opacity="0.7"/>
<circle cx="396.1" cy="545.6" r="0.9" fill="#7a80b8" fill-opacity="0.7"/>
<circle cx="418.3" cy="535.9" r="0.9" fill="#7a80b8" fill-opacity="0.7"/>
<circle cx="387.1" cy="535.9" r="0.9" fill="#7a80b8" fill-opacity="0.7"/>
<circle cx="398.5" cy="546.2" r="0.9" fill="#7a80b8" fill-opacity="0.7"/>
<circle cx="419.9" cy="545.1" r="0.9" fill="#7a80b8" fill-opacity="0.7"/>
<circle cx="420.5" cy="544.1" r="0.9" fill="#7a80b8" fill-opacity="0.7"/>
<circle cx="376.3" cy="538.8" r="0.9" fill="#7a80b8" fill-opacity="0.7"/>
<circle cx="428.8" cy="545.4" r="0.9" fill="#7a80b8" fill-opacity="0.7"/>
<circle cx="387.7" cy="537.3" r="0.9" fill="#7a80b8" fill-opacity="0.7"/>
<circle cx="409.9" cy="536.3" r="0.9" fill="#7a80b8" fill-opacity="0.7"/>
<circle cx="404.0" cy="531.6" r="0.9" fill="#7a80b8" fill-opacity="0.7"/>
<circle cx="398.3" cy="538.6" r="0.9" fill="#7a80b8" fill-opacity="0.7"/>
<circle cx="374.4" cy="532.7" r="0.9" fill="#7a80b8" fill-opacity="0.7"/>
<circle cx="429.4" cy="542.9" r="0.9" fill="#7a80b8" fill-opacity="0.7"/>
<circle cx="427.5" cy="540.6" r="0.9" fill="#7a80b8" fill-opacity="0.7"/>
<circle cx="420.1" cy="544.6" r="0.9" fill="#7a80b8" fill-opacity="0.7"/>
<circle cx="424.5" cy="531.0" r="0.9" fill="#7a80b8" fill-opacity="0.7"/>
<circle cx="410.4" cy="534.8" r="0.9" fill="#7a80b8" fill-opacity="0.7"/>
<circle cx="412.5" cy="534.9" r="0.9" fill="#7a80b8" fill-opacity="0.7"/>
<circle cx="404.7" cy="545.3" r="0.9" fill="#7a80b8" fill-opacity="0.7"/>
<circle cx="409.2" cy="534.5" r="0.9" fill="#7a80b8" fill-opacity="0.7"/>
<circle cx="403.4" cy="537.4" r="0.9" fill="#7a80b8" fill-opacity="0.7"/>
<circle cx="428.4" cy="535.1" r="0.9" fill="#7a80b8" fill-opacity="0.7"/>
<circle cx="390.9" cy="540.9" r="0.9" fill="#7a80b8" fill-opacity="0.7"/>
<circle cx="380.2" cy="540.0" r="0.9" fill="#7a80b8" fill-opacity="0.7"/>
<circle cx="428.7" cy="538.7" r="0.9" fill="#7a80b8" fill-opacity="0.7"/>
<circle cx="388.8" cy="538.0" r="0.9" fill="#7a80b8" fill-opacity="0.7"/>
<circle cx="404.2" cy="532.9" r="0.9" fill="#7a80b8" fill-opacity="0.7"/>
<circle cx="380.4" cy="532.6" r="0.9" fill="#7a80b8" fill-opacity="0.7"/>
<circle cx="390.2" cy="537.0" r="0.9" fill="#7a80b8" fill-opacity="0.7"/>
<circle cx="389.9" cy="534.4" r="0.9" fill="#7a80b8" fill-opacity="0.7"/>
<circle cx="378.3" cy="539.2" r="0.9" fill="#7a80b8" fill-opacity="0.7"/>
<polyline points="372.2,499.6 376.5,499.3 380.8,499.1 385.1,498.9 389.3,498.8 393.6,498.6 397.9,498.6 402.2,498.5 406.5,498.5 410.8,498.5 415.1,498.5 419.3,498.6 423.6,498.7 427.9,498.9 432.2,499.0" fill="none" stroke="#fbfbf6" stroke-width="1.1"/>
</g>
<clipPath id="tc15"><rect x="440.0" y="488.5" width="58.0" height="58.0"/></clipPath><g clip-path="url(#tc15)">
<rect x="440.0" y="488.5" width="58.0" height="58.0" fill="#e2e6e8"/>
<polygon points="439.0,506.5 443.3,506.4 447.6,506.3 451.9,506.2 456.1,506.2 460.4,506.1 464.7,506.0 469.0,506.0 473.3,506.0 477.6,505.9 481.9,505.9 486.1,505.9 490.4,506.0 494.7,506.0 499.0,506.0 500.0,548.5 438.0,548.5" fill="#cbbc9d"/>
<polygon points="439.0,516.0 443.3,516.0 447.6,516.0 451.9,516.0 456.1,516.0 460.4,516.0 464.7,516.0 469.0,516.0 473.3,516.0 477.6,516.0 481.9,516.0 486.1,516.0 490.4,516.0 494.7,516.0 499.0,516.0 500.0,548.5 438.0,548.5" fill="#9c8c74"/>
<polygon points="439.0,518.5 443.3,518.5 447.6,518.5 451.9,518.5 456.1,518.5 460.4,518.5 464.7,518.5 469.0,518.5 473.3,518.5 477.6,518.5 481.9,518.5 486.1,518.5 490.4,518.5 494.7,518.5 499.0,518.5 500.0,548.5 438.0,548.5" fill="#9ca2cc"/>
<polygon points="439.0,527.5 443.3,527.5 447.6,527.5 451.9,527.5 456.1,527.5 460.4,527.5 464.7,527.5 469.0,527.5 473.3,527.5 477.6,527.5 481.9,527.5 486.1,527.5 490.4,527.5 494.7,527.5 499.0,527.5 500.0,548.5 438.0,548.5" fill="#e0e4ec"/>
<circle cx="488.7" cy="524.0" r="0.9" fill="#4a52a0" fill-opacity="0.75"/>
<circle cx="473.1" cy="524.4" r="0.9" fill="#4a52a0" fill-opacity="0.75"/>
<circle cx="451.7" cy="524.9" r="0.9" fill="#4a52a0" fill-opacity="0.75"/>
<circle cx="466.7" cy="523.4" r="0.9" fill="#4a52a0" fill-opacity="0.75"/>
<circle cx="475.5" cy="522.7" r="0.9" fill="#4a52a0" fill-opacity="0.75"/>
<circle cx="458.0" cy="520.7" r="0.9" fill="#4a52a0" fill-opacity="0.75"/>
<circle cx="452.9" cy="523.1" r="0.9" fill="#4a52a0" fill-opacity="0.75"/>
<circle cx="462.2" cy="523.8" r="0.9" fill="#4a52a0" fill-opacity="0.75"/>
<circle cx="440.7" cy="521.7" r="0.9" fill="#4a52a0" fill-opacity="0.75"/>
<circle cx="490.0" cy="520.6" r="0.9" fill="#4a52a0" fill-opacity="0.75"/>
<circle cx="472.3" cy="522.9" r="0.9" fill="#4a52a0" fill-opacity="0.75"/>
<circle cx="456.5" cy="527.4" r="0.9" fill="#4a52a0" fill-opacity="0.75"/>
<circle cx="457.1" cy="525.4" r="0.9" fill="#4a52a0" fill-opacity="0.75"/>
<circle cx="449.2" cy="519.1" r="0.9" fill="#4a52a0" fill-opacity="0.75"/>
<circle cx="490.5" cy="522.5" r="0.9" fill="#4a52a0" fill-opacity="0.75"/>
<circle cx="443.6" cy="522.0" r="0.9" fill="#4a52a0" fill-opacity="0.75"/>
<circle cx="465.5" cy="525.1" r="0.9" fill="#4a52a0" fill-opacity="0.75"/>
<circle cx="446.3" cy="520.5" r="0.9" fill="#4a52a0" fill-opacity="0.75"/>
<circle cx="495.6" cy="525.1" r="0.9" fill="#4a52a0" fill-opacity="0.75"/>
<circle cx="449.0" cy="521.5" r="0.9" fill="#4a52a0" fill-opacity="0.75"/>
<circle cx="460.4" cy="524.6" r="0.9" fill="#4a52a0" fill-opacity="0.75"/>
<circle cx="475.7" cy="526.1" r="0.9" fill="#4a52a0" fill-opacity="0.75"/>
<circle cx="487.6" cy="523.2" r="0.9" fill="#4a52a0" fill-opacity="0.75"/>
<circle cx="482.8" cy="525.2" r="0.9" fill="#4a52a0" fill-opacity="0.75"/>
<circle cx="484.1" cy="522.8" r="0.9" fill="#4a52a0" fill-opacity="0.75"/>
<circle cx="485.5" cy="524.9" r="0.9" fill="#4a52a0" fill-opacity="0.75"/>
<circle cx="493.1" cy="519.6" r="0.9" fill="#4a52a0" fill-opacity="0.75"/>
<circle cx="490.5" cy="518.5" r="0.9" fill="#4a52a0" fill-opacity="0.75"/>
<circle cx="484.4" cy="523.8" r="0.9" fill="#4a52a0" fill-opacity="0.75"/>
<circle cx="468.9" cy="527.2" r="0.9" fill="#4a52a0" fill-opacity="0.75"/>
<circle cx="473.2" cy="522.3" r="0.9" fill="#4a52a0" fill-opacity="0.75"/>
<circle cx="485.5" cy="526.4" r="0.9" fill="#4a52a0" fill-opacity="0.75"/>
<circle cx="475.2" cy="521.9" r="0.9" fill="#4a52a0" fill-opacity="0.75"/>
<circle cx="466.2" cy="522.6" r="0.9" fill="#4a52a0" fill-opacity="0.75"/>
<circle cx="481.9" cy="521.1" r="0.9" fill="#4a52a0" fill-opacity="0.75"/>
<circle cx="462.7" cy="523.5" r="0.9" fill="#4a52a0" fill-opacity="0.75"/>
<circle cx="462.3" cy="521.4" r="0.9" fill="#4a52a0" fill-opacity="0.75"/>
<circle cx="485.7" cy="526.1" r="0.9" fill="#4a52a0" fill-opacity="0.75"/>
<circle cx="469.0" cy="522.5" r="0.9" fill="#4a52a0" fill-opacity="0.75"/>
<circle cx="450.7" cy="521.2" r="0.9" fill="#4a52a0" fill-opacity="0.75"/>
<circle cx="448.4" cy="538.9" r="0.7" fill="#8088b0" fill-opacity="0.7"/>
<circle cx="473.7" cy="530.1" r="0.7" fill="#8088b0" fill-opacity="0.7"/>
<circle cx="493.4" cy="534.3" r="0.7" fill="#8088b0" fill-opacity="0.7"/>
<circle cx="488.9" cy="543.6" r="0.7" fill="#8088b0" fill-opacity="0.7"/>
<circle cx="495.6" cy="532.2" r="0.7" fill="#8088b0" fill-opacity="0.7"/>
<circle cx="464.7" cy="544.9" r="0.7" fill="#8088b0" fill-opacity="0.7"/>
<circle cx="440.6" cy="529.4" r="0.7" fill="#8088b0" fill-opacity="0.7"/>
<circle cx="472.8" cy="537.5" r="0.7" fill="#8088b0" fill-opacity="0.7"/>
<circle cx="493.4" cy="542.4" r="0.7" fill="#8088b0" fill-opacity="0.7"/>
<circle cx="471.2" cy="546.5" r="0.7" fill="#8088b0" fill-opacity="0.7"/>
<circle cx="470.0" cy="537.8" r="0.7" fill="#8088b0" fill-opacity="0.7"/>
<circle cx="479.7" cy="535.5" r="0.7" fill="#8088b0" fill-opacity="0.7"/>
<polyline points="439.0,506.5 443.3,506.4 447.6,506.3 451.9,506.2 456.1,506.2 460.4,506.1 464.7,506.0 469.0,506.0 473.3,506.0 477.6,505.9 481.9,505.9 486.1,505.9 490.4,506.0 494.7,506.0 499.0,506.0" fill="none" stroke="#fbfbf6" stroke-width="1.1"/>
</g>
<clipPath id="tc16"><rect x="508.0" y="488.5" width="58.0" height="58.0"/></clipPath><g clip-path="url(#tc16)">
<rect x="508.0" y="488.5" width="58.0" height="58.0" fill="#e2e6e7"/>
<polygon points="507.0,507.8 511.3,506.6 515.6,505.7 519.9,504.9 524.1,504.3 528.4,503.8 532.7,503.6 537.0,503.5 541.3,503.6 545.6,503.8 549.9,504.3 554.1,504.9 558.4,505.7 562.7,506.6 567.0,507.8 568.0,548.5 506.0,548.5" fill="#cdcbb6"/>
<polygon points="507.0,517.7 511.3,516.8 515.6,515.9 519.9,515.3 524.1,514.8 528.4,514.6 532.7,514.4 537.0,514.5 541.3,514.7 545.6,515.1 549.9,515.7 554.1,516.5 558.4,517.4 562.7,518.5 567.0,519.8 568.0,548.5 506.0,548.5" fill="#5a3414"/>
<polygon points="507.0,519.7 511.3,518.8 515.6,517.9 519.9,517.3 524.1,516.8 528.4,516.6 532.7,516.4 537.0,516.5 541.3,516.7 545.6,517.1 549.9,517.7 554.1,518.5 558.4,519.4 562.7,520.5 567.0,521.8 568.0,548.5 506.0,548.5" fill="#9a8070"/>
<polygon points="507.0,523.7 511.3,522.8 515.6,521.9 519.9,521.3 524.1,520.8 528.4,520.6 532.7,520.4 537.0,520.5 541.3,520.7 545.6,521.1 549.9,521.7 554.1,522.5 558.4,523.4 562.7,524.5 567.0,525.8 568.0,548.5 506.0,548.5" fill="#8a90c0"/>
<circle cx="528.7" cy="537.2" r="0.9" fill="#3a42a0" fill-opacity="0.75"/>
<circle cx="528.4" cy="545.3" r="0.9" fill="#3a42a0" fill-opacity="0.75"/>
<circle cx="547.2" cy="535.6" r="0.9" fill="#3a42a0" fill-opacity="0.75"/>
<circle cx="513.7" cy="532.1" r="0.9" fill="#3a42a0" fill-opacity="0.75"/>
<circle cx="531.3" cy="536.4" r="0.9" fill="#3a42a0" fill-opacity="0.75"/>
<circle cx="541.3" cy="543.7" r="0.9" fill="#3a42a0" fill-opacity="0.75"/>
<circle cx="563.9" cy="534.7" r="0.9" fill="#3a42a0" fill-opacity="0.75"/>
<circle cx="533.5" cy="537.9" r="0.9" fill="#3a42a0" fill-opacity="0.75"/>
<circle cx="565.8" cy="531.4" r="0.9" fill="#3a42a0" fill-opacity="0.75"/>
<circle cx="538.7" cy="542.3" r="0.9" fill="#3a42a0" fill-opacity="0.75"/>
<circle cx="517.9" cy="530.8" r="0.9" fill="#3a42a0" fill-opacity="0.75"/>
<circle cx="564.7" cy="542.5" r="0.9" fill="#3a42a0" fill-opacity="0.75"/>
<circle cx="537.7" cy="526.0" r="0.9" fill="#3a42a0" fill-opacity="0.75"/>
<circle cx="559.9" cy="539.4" r="0.9" fill="#3a42a0" fill-opacity="0.75"/>
<circle cx="555.6" cy="546.3" r="0.9" fill="#3a42a0" fill-opacity="0.75"/>
<circle cx="559.5" cy="533.2" r="0.9" fill="#3a42a0" fill-opacity="0.75"/>
<circle cx="517.1" cy="530.2" r="0.9" fill="#3a42a0" fill-opacity="0.75"/>
<circle cx="537.7" cy="535.1" r="0.9" fill="#3a42a0" fill-opacity="0.75"/>
<circle cx="518.9" cy="527.7" r="0.9" fill="#3a42a0" fill-opacity="0.75"/>
<circle cx="544.5" cy="537.4" r="0.9" fill="#3a42a0" fill-opacity="0.75"/>
<circle cx="528.5" cy="546.4" r="0.9" fill="#3a42a0" fill-opacity="0.75"/>
<circle cx="544.9" cy="524.5" r="0.9" fill="#3a42a0" fill-opacity="0.75"/>
<circle cx="531.9" cy="541.6" r="0.9" fill="#3a42a0" fill-opacity="0.75"/>
<circle cx="525.8" cy="539.4" r="0.9" fill="#3a42a0" fill-opacity="0.75"/>
<circle cx="508.2" cy="530.5" r="0.9" fill="#3a42a0" fill-opacity="0.75"/>
<circle cx="556.8" cy="537.0" r="0.9" fill="#3a42a0" fill-opacity="0.75"/>
<circle cx="546.8" cy="528.0" r="0.9" fill="#3a42a0" fill-opacity="0.75"/>
<circle cx="536.9" cy="536.2" r="0.9" fill="#3a42a0" fill-opacity="0.75"/>
<circle cx="523.4" cy="538.4" r="0.9" fill="#3a42a0" fill-opacity="0.75"/>
<circle cx="538.8" cy="546.4" r="0.9" fill="#3a42a0" fill-opacity="0.75"/>
<circle cx="541.3" cy="533.0" r="0.9" fill="#3a42a0" fill-opacity="0.75"/>
<circle cx="515.0" cy="527.1" r="0.9" fill="#3a42a0" fill-opacity="0.75"/>
<circle cx="552.1" cy="526.0" r="0.9" fill="#3a42a0" fill-opacity="0.75"/>
<circle cx="513.8" cy="527.4" r="0.9" fill="#3a42a0" fill-opacity="0.75"/>
<circle cx="538.3" cy="542.4" r="0.9" fill="#3a42a0" fill-opacity="0.75"/>
<circle cx="543.6" cy="542.1" r="0.9" fill="#3a42a0" fill-opacity="0.75"/>
<circle cx="511.6" cy="523.8" r="0.9" fill="#3a42a0" fill-opacity="0.75"/>
<circle cx="552.7" cy="530.9" r="0.9" fill="#3a42a0" fill-opacity="0.75"/>
<circle cx="549.5" cy="531.6" r="0.9" fill="#3a42a0" fill-opacity="0.75"/>
<circle cx="517.8" cy="529.6" r="0.9" fill="#3a42a0" fill-opacity="0.75"/>
<circle cx="513.8" cy="544.3" r="0.9" fill="#3a42a0" fill-opacity="0.75"/>
<circle cx="541.8" cy="531.5" r="0.9" fill="#3a42a0" fill-opacity="0.75"/>
<circle cx="534.1" cy="532.4" r="0.9" fill="#3a42a0" fill-opacity="0.75"/>
<circle cx="511.2" cy="544.0" r="0.9" fill="#3a42a0" fill-opacity="0.75"/>
<circle cx="541.8" cy="545.6" r="0.9" fill="#3a42a0" fill-opacity="0.75"/>
<circle cx="533.5" cy="537.8" r="0.9" fill="#3a42a0" fill-opacity="0.75"/>
<circle cx="522.5" cy="524.5" r="0.9" fill="#3a42a0" fill-opacity="0.75"/>
<circle cx="562.0" cy="543.2" r="0.9" fill="#3a42a0" fill-opacity="0.75"/>
<circle cx="526.3" cy="544.2" r="0.9" fill="#3a42a0" fill-opacity="0.75"/>
<circle cx="555.3" cy="530.5" r="0.9" fill="#3a42a0" fill-opacity="0.75"/>
<circle cx="542.9" cy="545.6" r="0.9" fill="#3a42a0" fill-opacity="0.75"/>
<circle cx="536.7" cy="545.3" r="0.9" fill="#3a42a0" fill-opacity="0.75"/>
<circle cx="522.1" cy="532.5" r="0.9" fill="#3a42a0" fill-opacity="0.75"/>
<circle cx="549.7" cy="528.6" r="0.9" fill="#3a42a0" fill-opacity="0.75"/>
<circle cx="525.9" cy="543.6" r="0.9" fill="#3a42a0" fill-opacity="0.75"/>
<circle cx="536.1" cy="541.7" r="0.9" fill="#3a42a0" fill-opacity="0.75"/>
<circle cx="522.1" cy="527.5" r="0.9" fill="#3a42a0" fill-opacity="0.75"/>
<circle cx="528.8" cy="527.8" r="0.9" fill="#3a42a0" fill-opacity="0.75"/>
<circle cx="564.3" cy="530.2" r="0.9" fill="#3a42a0" fill-opacity="0.75"/>
<circle cx="540.6" cy="526.1" r="0.9" fill="#3a42a0" fill-opacity="0.75"/>
<circle cx="539.0" cy="532.4" r="0.9" fill="#3a42a0" fill-opacity="0.75"/>
<circle cx="531.4" cy="525.0" r="0.9" fill="#3a42a0" fill-opacity="0.75"/>
<circle cx="515.2" cy="542.5" r="0.9" fill="#3a42a0" fill-opacity="0.75"/>
<circle cx="528.4" cy="529.1" r="0.9" fill="#3a42a0" fill-opacity="0.75"/>
<circle cx="519.1" cy="530.0" r="0.9" fill="#3a42a0" fill-opacity="0.75"/>
<circle cx="521.8" cy="524.3" r="0.9" fill="#3a42a0" fill-opacity="0.75"/>
<circle cx="546.5" cy="531.4" r="0.9" fill="#3a42a0" fill-opacity="0.75"/>
<circle cx="517.0" cy="539.7" r="0.9" fill="#3a42a0" fill-opacity="0.75"/>
<circle cx="513.4" cy="529.7" r="0.9" fill="#3a42a0" fill-opacity="0.75"/>
<circle cx="556.4" cy="526.4" r="0.9" fill="#3a42a0" fill-opacity="0.75"/>
<circle cx="533.7" cy="531.5" r="0.7" fill="#f0f0f0" fill-opacity="0.8"/>
<circle cx="554.7" cy="523.4" r="0.7" fill="#f0f0f0" fill-opacity="0.8"/>
<circle cx="528.5" cy="530.2" r="0.7" fill="#f0f0f0" fill-opacity="0.8"/>
<circle cx="529.9" cy="533.0" r="0.7" fill="#f0f0f0" fill-opacity="0.8"/>
<circle cx="520.1" cy="532.9" r="0.7" fill="#f0f0f0" fill-opacity="0.8"/>
<circle cx="537.3" cy="524.2" r="0.7" fill="#f0f0f0" fill-opacity="0.8"/>
<circle cx="534.3" cy="523.1" r="0.7" fill="#f0f0f0" fill-opacity="0.8"/>
<circle cx="549.0" cy="524.6" r="0.7" fill="#f0f0f0" fill-opacity="0.8"/>
<circle cx="560.2" cy="528.6" r="0.7" fill="#f0f0f0" fill-opacity="0.8"/>
<circle cx="529.3" cy="524.5" r="0.7" fill="#f0f0f0" fill-opacity="0.8"/>
<circle cx="543.3" cy="524.1" r="0.7" fill="#f0f0f0" fill-opacity="0.8"/>
<circle cx="558.6" cy="523.0" r="0.7" fill="#f0f0f0" fill-opacity="0.8"/>
<polygon points="539.0,546.5 541.0,540.5 544.0,536.5 548.0,538.5 550.0,534.5 553.0,537.5 556.0,535.5 558.0,540.5 561.0,544.5 563.0,546.5" fill="#eef0f4" fill-opacity="1"/>
<polyline points="507.0,507.8 511.3,506.6 515.6,505.7 519.9,504.9 524.1,504.3 528.4,503.8 532.7,503.6 537.0,503.5 541.3,503.6 545.6,503.8 549.9,504.3 554.1,504.9 558.4,505.7 562.7,506.6 567.0,507.8" fill="none" stroke="#fbfbf6" stroke-width="1.1"/>
</g>
<clipPath id="tc17"><rect x="305.5" y="554.3" width="58.0" height="58.700000000000045"/></clipPath><g clip-path="url(#tc17)">
<rect x="305.5" y="554.3" width="58.0" height="58.700000000000045" fill="#dde1e5"/>
<polygon points="304.5,576.0 308.8,575.1 313.1,574.3 317.4,573.7 321.6,573.3 325.9,573.1 330.2,573.1 334.5,573.3 338.8,573.7 343.1,574.3 347.4,575.1 351.6,576.1 355.9,577.2 360.2,578.6 364.5,580.2 365.5,615.0 303.5,615.0" fill="#cbd0da"/>
<polygon points="304.5,587.4 308.8,585.7 313.1,584.2 317.4,583.0 321.6,582.1 325.9,581.4 330.2,581.0 334.5,580.9 338.8,581.0 343.1,581.4 347.4,582.1 351.6,583.0 355.9,584.2 360.2,585.7 364.5,587.4 365.5,615.0 303.5,615.0" fill="#76728f"/>
<circle cx="335.3" cy="598.6" r="0.9" fill="#6a3a1a" fill-opacity="0.8"/>
<circle cx="321.2" cy="605.5" r="0.9" fill="#6a3a1a" fill-opacity="0.8"/>
<circle cx="327.8" cy="602.0" r="0.9" fill="#6a3a1a" fill-opacity="0.8"/>
<circle cx="338.4" cy="591.6" r="0.9" fill="#6a3a1a" fill-opacity="0.8"/>
<circle cx="328.1" cy="584.9" r="0.9" fill="#6a3a1a" fill-opacity="0.8"/>
<circle cx="315.8" cy="607.8" r="0.9" fill="#6a3a1a" fill-opacity="0.8"/>
<circle cx="324.1" cy="602.2" r="0.9" fill="#6a3a1a" fill-opacity="0.8"/>
<circle cx="311.8" cy="599.2" r="0.9" fill="#6a3a1a" fill-opacity="0.8"/>
<circle cx="326.5" cy="597.3" r="0.9" fill="#6a3a1a" fill-opacity="0.8"/>
<circle cx="322.7" cy="584.3" r="0.9" fill="#6a3a1a" fill-opacity="0.8"/>
<circle cx="323.6" cy="589.1" r="0.9" fill="#6a3a1a" fill-opacity="0.8"/>
<circle cx="312.8" cy="603.8" r="0.9" fill="#6a3a1a" fill-opacity="0.8"/>
<circle cx="321.9" cy="594.4" r="0.9" fill="#6a3a1a" fill-opacity="0.8"/>
<circle cx="358.2" cy="605.5" r="0.9" fill="#6a3a1a" fill-opacity="0.8"/>
<circle cx="356.7" cy="608.1" r="0.9" fill="#6a3a1a" fill-opacity="0.8"/>
<circle cx="313.2" cy="590.6" r="0.9" fill="#6a3a1a" fill-opacity="0.8"/>
<circle cx="307.2" cy="602.7" r="0.9" fill="#6a3a1a" fill-opacity="0.8"/>
<circle cx="344.0" cy="592.8" r="0.9" fill="#6a3a1a" fill-opacity="0.8"/>
<circle cx="329.4" cy="602.1" r="0.9" fill="#6a3a1a" fill-opacity="0.8"/>
<circle cx="346.1" cy="589.8" r="0.9" fill="#6a3a1a" fill-opacity="0.8"/>
<circle cx="354.6" cy="592.9" r="0.9" fill="#6a3a1a" fill-opacity="0.8"/>
<circle cx="342.0" cy="587.7" r="0.9" fill="#6a3a1a" fill-opacity="0.8"/>
<circle cx="312.2" cy="609.7" r="0.9" fill="#6a3a1a" fill-opacity="0.8"/>
<circle cx="348.1" cy="603.7" r="0.9" fill="#6a3a1a" fill-opacity="0.8"/>
<circle cx="307.8" cy="583.5" r="0.9" fill="#6a3a1a" fill-opacity="0.8"/>
<circle cx="314.9" cy="588.2" r="0.9" fill="#6a3a1a" fill-opacity="0.8"/>
<circle cx="323.1" cy="593.7" r="0.9" fill="#6a3a1a" fill-opacity="0.8"/>
<circle cx="307.8" cy="591.6" r="0.9" fill="#6a3a1a" fill-opacity="0.8"/>
<circle cx="342.5" cy="587.7" r="0.9" fill="#6a3a1a" fill-opacity="0.8"/>
<circle cx="354.2" cy="599.4" r="0.9" fill="#6a3a1a" fill-opacity="0.8"/>
<circle cx="347.1" cy="589.9" r="0.9" fill="#6a3a1a" fill-opacity="0.8"/>
<circle cx="330.7" cy="602.8" r="0.9" fill="#6a3a1a" fill-opacity="0.8"/>
<circle cx="325.7" cy="582.3" r="0.9" fill="#6a3a1a" fill-opacity="0.8"/>
<circle cx="353.9" cy="605.6" r="0.9" fill="#6a3a1a" fill-opacity="0.8"/>
<circle cx="322.1" cy="583.6" r="0.9" fill="#6a3a1a" fill-opacity="0.8"/>
<circle cx="355.0" cy="600.5" r="0.9" fill="#6a3a1a" fill-opacity="0.8"/>
<circle cx="308.2" cy="589.6" r="0.9" fill="#6a3a1a" fill-opacity="0.8"/>
<circle cx="311.9" cy="606.0" r="0.9" fill="#6a3a1a" fill-opacity="0.8"/>
<circle cx="317.7" cy="609.7" r="0.9" fill="#6a3a1a" fill-opacity="0.8"/>
<circle cx="349.0" cy="584.9" r="0.9" fill="#6a3a1a" fill-opacity="0.8"/>
<circle cx="345.8" cy="595.3" r="0.9" fill="#3a40a0" fill-opacity="0.7"/>
<circle cx="348.9" cy="607.5" r="0.9" fill="#3a40a0" fill-opacity="0.7"/>
<circle cx="321.8" cy="586.8" r="0.9" fill="#3a40a0" fill-opacity="0.7"/>
<circle cx="360.4" cy="596.2" r="0.9" fill="#3a40a0" fill-opacity="0.7"/>
<circle cx="359.5" cy="603.7" r="0.9" fill="#3a40a0" fill-opacity="0.7"/>
<circle cx="348.3" cy="607.5" r="0.9" fill="#3a40a0" fill-opacity="0.7"/>
<circle cx="341.9" cy="597.0" r="0.9" fill="#3a40a0" fill-opacity="0.7"/>
<circle cx="308.6" cy="603.9" r="0.9" fill="#3a40a0" fill-opacity="0.7"/>
<circle cx="330.3" cy="598.6" r="0.9" fill="#3a40a0" fill-opacity="0.7"/>
<circle cx="359.3" cy="587.9" r="0.9" fill="#3a40a0" fill-opacity="0.7"/>
<circle cx="349.7" cy="585.5" r="0.9" fill="#3a40a0" fill-opacity="0.7"/>
<circle cx="346.3" cy="606.9" r="0.9" fill="#3a40a0" fill-opacity="0.7"/>
<circle cx="320.6" cy="599.6" r="0.9" fill="#3a40a0" fill-opacity="0.7"/>
<circle cx="361.7" cy="602.2" r="0.9" fill="#3a40a0" fill-opacity="0.7"/>
<circle cx="337.0" cy="591.3" r="0.9" fill="#3a40a0" fill-opacity="0.7"/>
<circle cx="308.9" cy="594.3" r="0.9" fill="#3a40a0" fill-opacity="0.7"/>
<circle cx="329.4" cy="589.9" r="0.9" fill="#3a40a0" fill-opacity="0.7"/>
<circle cx="323.5" cy="588.1" r="0.9" fill="#3a40a0" fill-opacity="0.7"/>
<circle cx="346.5" cy="603.1" r="0.9" fill="#3a40a0" fill-opacity="0.7"/>
<circle cx="319.3" cy="591.1" r="0.9" fill="#3a40a0" fill-opacity="0.7"/>
<circle cx="335.4" cy="596.8" r="0.9" fill="#3a40a0" fill-opacity="0.7"/>
<circle cx="359.8" cy="594.1" r="0.9" fill="#3a40a0" fill-opacity="0.7"/>
<circle cx="322.9" cy="609.1" r="0.9" fill="#3a40a0" fill-opacity="0.7"/>
<circle cx="313.7" cy="600.1" r="0.9" fill="#3a40a0" fill-opacity="0.7"/>
<circle cx="324.8" cy="607.1" r="0.9" fill="#3a40a0" fill-opacity="0.7"/>
<circle cx="337.3" cy="605.6" r="0.9" fill="#3a40a0" fill-opacity="0.7"/>
<circle cx="315.3" cy="603.0" r="0.9" fill="#3a40a0" fill-opacity="0.7"/>
<circle cx="340.2" cy="597.2" r="0.9" fill="#3a40a0" fill-opacity="0.7"/>
<circle cx="349.9" cy="607.6" r="0.9" fill="#3a40a0" fill-opacity="0.7"/>
<circle cx="312.1" cy="592.4" r="0.9" fill="#3a40a0" fill-opacity="0.7"/>
<circle cx="326.4" cy="590.1" r="0.9" fill="#3a40a0" fill-opacity="0.7"/>
<circle cx="309.0" cy="592.2" r="0.9" fill="#3a40a0" fill-opacity="0.7"/>
<circle cx="316.9" cy="603.9" r="0.9" fill="#3a40a0" fill-opacity="0.7"/>
<circle cx="331.5" cy="587.5" r="0.9" fill="#3a40a0" fill-opacity="0.7"/>
<circle cx="324.3" cy="597.4" r="0.9" fill="#3a40a0" fill-opacity="0.7"/>
<circle cx="326.6" cy="589.0" r="0.9" fill="#3a40a0" fill-opacity="0.7"/>
<circle cx="309.7" cy="584.6" r="0.9" fill="#3a40a0" fill-opacity="0.7"/>
<circle cx="363.0" cy="605.3" r="0.9" fill="#3a40a0" fill-opacity="0.7"/>
<circle cx="310.4" cy="604.4" r="0.9" fill="#3a40a0" fill-opacity="0.7"/>
<circle cx="362.4" cy="600.1" r="0.9" fill="#3a40a0" fill-opacity="0.7"/>
<circle cx="311.8" cy="598.0" r="0.9" fill="#3a40a0" fill-opacity="0.7"/>
<circle cx="330.7" cy="589.6" r="0.9" fill="#3a40a0" fill-opacity="0.7"/>
<circle cx="337.0" cy="584.5" r="0.9" fill="#3a40a0" fill-opacity="0.7"/>
<circle cx="358.8" cy="602.3" r="0.9" fill="#3a40a0" fill-opacity="0.7"/>
<circle cx="341.9" cy="610.5" r="0.9" fill="#3a40a0" fill-opacity="0.7"/>
<polygon points="304.5,593.3 309.5,594.3 314.5,596.3 316.5,601.3 313.5,605.3 310.5,609.3 314.5,614.3 304.5,614.3" fill="#eceef2" fill-opacity="1"/>
<polyline points="304.5,576.0 308.8,575.1 313.1,574.3 317.4,573.7 321.6,573.3 325.9,573.1 330.2,573.1 334.5,573.3 338.8,573.7 343.1,574.3 347.4,575.1 351.6,576.1 355.9,577.2 360.2,578.6 364.5,580.2" fill="none" stroke="#fbfbf6" stroke-width="1.1"/>
</g>
<clipPath id="tc18"><rect x="373.2" y="554.3" width="58.0" height="58.700000000000045"/></clipPath><g clip-path="url(#tc18)">
<rect x="373.2" y="554.3" width="58.0" height="58.700000000000045" fill="#dde1e5"/>
<polygon points="372.2,565.3 376.5,565.3 380.8,565.3 385.1,565.2 389.3,565.2 393.6,565.2 397.9,565.3 402.2,565.3 406.5,565.3 410.8,565.4 415.1,565.5 419.3,565.5 423.6,565.6 427.9,565.7 432.2,565.8 433.2,615.0 371.2,615.0" fill="#ccd0d8"/>
<polygon points="372.2,581.9 376.5,581.9 380.8,581.9 385.1,581.9 389.3,581.9 393.6,581.9 397.9,581.9 402.2,581.9 406.5,581.9 410.8,581.9 415.1,581.9 419.3,581.9 423.6,581.9 427.9,581.9 432.2,581.9 433.2,615.0 371.2,615.0" fill="#80501f"/>
<polygon points="372.2,600.4 376.5,599.9 380.8,599.4 385.1,599.0 389.3,598.7 393.6,598.5 397.9,598.3 402.2,598.3 406.5,598.3 410.8,598.5 415.1,598.7 419.3,599.0 423.6,599.4 427.9,599.9 432.2,600.4 433.2,615.0 371.2,615.0" fill="#8a7062"/>
<circle cx="411.1" cy="590.6" r="0.9" fill="#6a3a18" fill-opacity="0.7"/>
<circle cx="387.5" cy="587.3" r="0.9" fill="#6a3a18" fill-opacity="0.7"/>
<circle cx="374.8" cy="605.8" r="0.9" fill="#6a3a18" fill-opacity="0.7"/>
<circle cx="421.9" cy="591.9" r="0.9" fill="#6a3a18" fill-opacity="0.7"/>
<circle cx="384.0" cy="601.8" r="0.9" fill="#6a3a18" fill-opacity="0.7"/>
<circle cx="422.3" cy="610.2" r="0.9" fill="#6a3a18" fill-opacity="0.7"/>
<circle cx="383.0" cy="606.1" r="0.9" fill="#6a3a18" fill-opacity="0.7"/>
<circle cx="421.4" cy="604.8" r="0.9" fill="#6a3a18" fill-opacity="0.7"/>
<circle cx="392.1" cy="588.7" r="0.9" fill="#6a3a18" fill-opacity="0.7"/>
<circle cx="421.1" cy="592.6" r="0.9" fill="#6a3a18" fill-opacity="0.7"/>
<circle cx="394.6" cy="599.3" r="0.9" fill="#6a3a18" fill-opacity="0.7"/>
<circle cx="394.6" cy="607.4" r="0.9" fill="#6a3a18" fill-opacity="0.7"/>
<circle cx="387.1" cy="584.5" r="0.9" fill="#6a3a18" fill-opacity="0.7"/>
<circle cx="406.1" cy="601.5" r="0.9" fill="#6a3a18" fill-opacity="0.7"/>
<circle cx="420.7" cy="603.8" r="0.9" fill="#6a3a18" fill-opacity="0.7"/>
<circle cx="425.7" cy="610.7" r="0.9" fill="#6a3a18" fill-opacity="0.7"/>
<circle cx="401.9" cy="597.8" r="0.9" fill="#6a3a18" fill-opacity="0.7"/>
<circle cx="382.3" cy="592.0" r="0.9" fill="#6a3a18" fill-opacity="0.7"/>
<circle cx="406.9" cy="585.6" r="0.9" fill="#6a3a18" fill-opacity="0.7"/>
<circle cx="413.1" cy="588.0" r="0.9" fill="#6a3a18" fill-opacity="0.7"/>
<circle cx="398.9" cy="611.4" r="0.9" fill="#6a3a18" fill-opacity="0.7"/>
<circle cx="378.4" cy="584.5" r="0.9" fill="#6a3a18" fill-opacity="0.7"/>
<circle cx="398.7" cy="588.8" r="0.9" fill="#6a3a18" fill-opacity="0.7"/>
<circle cx="415.1" cy="583.4" r="0.9" fill="#6a3a18" fill-opacity="0.7"/>
<circle cx="422.0" cy="608.1" r="0.9" fill="#6a3a18" fill-opacity="0.7"/>
<circle cx="418.8" cy="595.6" r="0.9" fill="#6a3a18" fill-opacity="0.7"/>
<circle cx="389.6" cy="602.5" r="0.9" fill="#6a3a18" fill-opacity="0.7"/>
<circle cx="403.0" cy="595.5" r="0.9" fill="#6a3a18" fill-opacity="0.7"/>
<circle cx="392.8" cy="596.0" r="0.9" fill="#6a3a18" fill-opacity="0.7"/>
<circle cx="411.8" cy="607.3" r="0.9" fill="#6a3a18" fill-opacity="0.7"/>
<circle cx="425.6" cy="588.1" r="0.9" fill="#6a3a18" fill-opacity="0.7"/>
<circle cx="390.4" cy="596.2" r="0.9" fill="#6a3a18" fill-opacity="0.7"/>
<circle cx="405.9" cy="593.4" r="0.9" fill="#6a3a18" fill-opacity="0.7"/>
<circle cx="384.5" cy="585.8" r="0.9" fill="#6a3a18" fill-opacity="0.7"/>
<circle cx="392.0" cy="596.7" r="0.9" fill="#6a3a18" fill-opacity="0.7"/>
<circle cx="429.5" cy="609.7" r="0.9" fill="#6a3a18" fill-opacity="0.7"/>
<circle cx="423.4" cy="611.6" r="0.9" fill="#6a3a18" fill-opacity="0.7"/>
<circle cx="429.0" cy="601.3" r="0.9" fill="#6a3a18" fill-opacity="0.7"/>
<circle cx="420.2" cy="585.0" r="0.9" fill="#6a3a18" fill-opacity="0.7"/>
<circle cx="412.4" cy="601.0" r="0.9" fill="#6a3a18" fill-opacity="0.7"/>
<circle cx="390.4" cy="604.6" r="0.8" fill="#5a5a98" fill-opacity="0.5"/>
<circle cx="428.5" cy="603.0" r="0.8" fill="#5a5a98" fill-opacity="0.5"/>
<circle cx="410.7" cy="599.7" r="0.8" fill="#5a5a98" fill-opacity="0.5"/>
<circle cx="393.1" cy="610.2" r="0.8" fill="#5a5a98" fill-opacity="0.5"/>
<circle cx="374.8" cy="597.7" r="0.8" fill="#5a5a98" fill-opacity="0.5"/>
<circle cx="412.6" cy="602.4" r="0.8" fill="#5a5a98" fill-opacity="0.5"/>
<circle cx="378.1" cy="606.2" r="0.8" fill="#5a5a98" fill-opacity="0.5"/>
<circle cx="394.8" cy="604.8" r="0.8" fill="#5a5a98" fill-opacity="0.5"/>
<circle cx="397.3" cy="603.8" r="0.8" fill="#5a5a98" fill-opacity="0.5"/>
<circle cx="406.0" cy="601.4" r="0.8" fill="#5a5a98" fill-opacity="0.5"/>
<circle cx="379.8" cy="597.5" r="0.8" fill="#5a5a98" fill-opacity="0.5"/>
<circle cx="424.8" cy="604.2" r="0.8" fill="#5a5a98" fill-opacity="0.5"/>
<circle cx="379.7" cy="609.8" r="0.8" fill="#5a5a98" fill-opacity="0.5"/>
<circle cx="387.9" cy="596.0" r="0.8" fill="#5a5a98" fill-opacity="0.5"/>
<circle cx="404.0" cy="598.8" r="0.8" fill="#5a5a98" fill-opacity="0.5"/>
<circle cx="401.6" cy="604.3" r="0.8" fill="#5a5a98" fill-opacity="0.5"/>
<circle cx="386.3" cy="604.6" r="0.8" fill="#5a5a98" fill-opacity="0.5"/>
<circle cx="379.8" cy="603.5" r="0.8" fill="#5a5a98" fill-opacity="0.5"/>
<circle cx="407.3" cy="595.7" r="0.8" fill="#5a5a98" fill-opacity="0.5"/>
<circle cx="396.9" cy="595.6" r="0.8" fill="#5a5a98" fill-opacity="0.5"/>
<circle cx="398.7" cy="609.8" r="0.8" fill="#5a5a98" fill-opacity="0.5"/>
<circle cx="405.1" cy="607.2" r="0.8" fill="#5a5a98" fill-opacity="0.5"/>
<circle cx="417.1" cy="596.4" r="0.8" fill="#5a5a98" fill-opacity="0.5"/>
<circle cx="430.7" cy="607.3" r="0.8" fill="#5a5a98" fill-opacity="0.5"/>
<circle cx="379.1" cy="609.2" r="0.8" fill="#5a5a98" fill-opacity="0.5"/>
<polygon points="372.2,599.3 376.2,597.3 381.2,597.3 384.2,601.3 381.2,605.3 378.2,608.3 380.2,614.3 372.2,614.3" fill="#eceef0" fill-opacity="1"/>
<ellipse cx="377.2" cy="603.3" rx="2.2" ry="2.0" fill="#a07050" fill-opacity="1"/>
<polyline points="372.2,565.3 376.5,565.3 380.8,565.3 385.1,565.2 389.3,565.2 393.6,565.2 397.9,565.3 402.2,565.3 406.5,565.3 410.8,565.4 415.1,565.5 419.3,565.5 423.6,565.6 427.9,565.7 432.2,565.8" fill="none" stroke="#fbfbf6" stroke-width="1.1"/>
</g>
<clipPath id="tc19"><rect x="440.0" y="554.3" width="58.0" height="58.700000000000045"/></clipPath><g clip-path="url(#tc19)">
<rect x="440.0" y="554.3" width="58.0" height="58.700000000000045" fill="#dde0e4"/>
<polygon points="439.0,576.8 443.3,574.9 447.6,573.3 451.9,572.0 456.1,571.1 460.4,570.5 464.7,570.2 469.0,570.3 473.3,570.7 477.6,571.4 481.9,572.4 486.1,573.8 490.4,575.5 494.7,577.5 499.0,579.9 500.0,615.0 438.0,615.0" fill="#cdd1dc"/>
<polygon points="439.0,585.9 443.3,583.5 447.6,581.4 451.9,579.9 456.1,578.8 460.4,578.2 464.7,578.0 469.0,578.3 473.3,579.0 477.6,580.3 481.9,581.9 486.1,584.0 490.4,586.6 494.7,589.7 499.0,593.2 500.0,615.0 438.0,615.0" fill="#8a7486"/>
<polygon points="439.0,594.7 443.3,593.2 447.6,592.1 451.9,591.2 456.1,590.6 460.4,590.2 464.7,590.1 469.0,590.3 473.3,590.7 477.6,591.4 481.9,592.4 486.1,593.6 490.4,595.1 494.7,596.8 499.0,598.8 500.0,615.0 438.0,615.0" fill="#7a80b4"/>
<polygon points="439.0,606.6 443.3,605.4 447.6,604.4 451.9,603.6 456.1,603.1 460.4,602.9 464.7,603.0 469.0,603.3 473.3,603.9 477.6,604.7 481.9,605.8 486.1,607.2 490.4,608.8 494.7,610.7 499.0,612.8 500.0,615.0 438.0,615.0" fill="#dadce4"/>
<circle cx="462.7" cy="594.7" r="0.9" fill="#3a40a0" fill-opacity="0.7"/>
<circle cx="495.7" cy="600.2" r="0.9" fill="#3a40a0" fill-opacity="0.7"/>
<circle cx="484.9" cy="594.2" r="0.9" fill="#3a40a0" fill-opacity="0.7"/>
<circle cx="485.0" cy="593.1" r="0.9" fill="#3a40a0" fill-opacity="0.7"/>
<circle cx="453.7" cy="597.5" r="0.9" fill="#3a40a0" fill-opacity="0.7"/>
<circle cx="440.9" cy="600.6" r="0.9" fill="#3a40a0" fill-opacity="0.7"/>
<circle cx="452.4" cy="596.5" r="0.9" fill="#3a40a0" fill-opacity="0.7"/>
<circle cx="481.0" cy="598.3" r="0.9" fill="#3a40a0" fill-opacity="0.7"/>
<circle cx="491.5" cy="601.0" r="0.9" fill="#3a40a0" fill-opacity="0.7"/>
<circle cx="490.6" cy="600.2" r="0.9" fill="#3a40a0" fill-opacity="0.7"/>
<circle cx="493.2" cy="604.5" r="0.9" fill="#3a40a0" fill-opacity="0.7"/>
<circle cx="449.7" cy="602.7" r="0.9" fill="#3a40a0" fill-opacity="0.7"/>
<circle cx="459.8" cy="603.0" r="0.9" fill="#3a40a0" fill-opacity="0.7"/>
<circle cx="479.5" cy="603.9" r="0.9" fill="#3a40a0" fill-opacity="0.7"/>
<circle cx="447.1" cy="597.5" r="0.9" fill="#3a40a0" fill-opacity="0.7"/>
<circle cx="482.8" cy="605.6" r="0.9" fill="#3a40a0" fill-opacity="0.7"/>
<circle cx="481.9" cy="592.9" r="0.9" fill="#3a40a0" fill-opacity="0.7"/>
<circle cx="475.0" cy="593.7" r="0.9" fill="#3a40a0" fill-opacity="0.7"/>
<circle cx="471.8" cy="603.5" r="0.9" fill="#3a40a0" fill-opacity="0.7"/>
<circle cx="446.6" cy="605.3" r="0.9" fill="#3a40a0" fill-opacity="0.7"/>
<circle cx="479.2" cy="595.9" r="0.9" fill="#3a40a0" fill-opacity="0.7"/>
<circle cx="451.2" cy="598.6" r="0.9" fill="#3a40a0" fill-opacity="0.7"/>
<circle cx="488.6" cy="600.4" r="0.9" fill="#3a40a0" fill-opacity="0.7"/>
<circle cx="446.6" cy="592.6" r="0.9" fill="#3a40a0" fill-opacity="0.7"/>
<circle cx="446.4" cy="603.5" r="0.9" fill="#3a40a0" fill-opacity="0.7"/>
<circle cx="450.7" cy="600.1" r="0.9" fill="#3a40a0" fill-opacity="0.7"/>
<circle cx="456.8" cy="601.9" r="0.9" fill="#3a40a0" fill-opacity="0.7"/>
<circle cx="462.1" cy="594.3" r="0.9" fill="#3a40a0" fill-opacity="0.7"/>
<circle cx="490.8" cy="599.8" r="0.9" fill="#3a40a0" fill-opacity="0.7"/>
<circle cx="480.0" cy="603.6" r="0.9" fill="#3a40a0" fill-opacity="0.7"/>
<circle cx="495.0" cy="592.5" r="0.9" fill="#3a40a0" fill-opacity="0.7"/>
<circle cx="459.9" cy="594.4" r="0.9" fill="#3a40a0" fill-opacity="0.7"/>
<circle cx="469.1" cy="604.5" r="0.9" fill="#3a40a0" fill-opacity="0.7"/>
<circle cx="486.4" cy="592.8" r="0.9" fill="#3a40a0" fill-opacity="0.7"/>
<circle cx="450.6" cy="603.8" r="0.9" fill="#3a40a0" fill-opacity="0.7"/>
<circle cx="479.4" cy="597.8" r="0.9" fill="#3a40a0" fill-opacity="0.7"/>
<circle cx="467.6" cy="594.5" r="0.9" fill="#3a40a0" fill-opacity="0.7"/>
<circle cx="489.0" cy="597.8" r="0.9" fill="#3a40a0" fill-opacity="0.7"/>
<circle cx="490.6" cy="600.9" r="0.9" fill="#3a40a0" fill-opacity="0.7"/>
<circle cx="444.4" cy="596.9" r="0.9" fill="#3a40a0" fill-opacity="0.7"/>
<circle cx="452.5" cy="604.8" r="0.9" fill="#3a40a0" fill-opacity="0.7"/>
<circle cx="474.2" cy="592.9" r="0.9" fill="#3a40a0" fill-opacity="0.7"/>
<circle cx="449.8" cy="597.4" r="0.9" fill="#3a40a0" fill-opacity="0.7"/>
<circle cx="467.1" cy="600.4" r="0.9" fill="#3a40a0" fill-opacity="0.7"/>
<circle cx="462.5" cy="597.3" r="0.9" fill="#3a40a0" fill-opacity="0.7"/>
<circle cx="450.2" cy="587.2" r="0.8" fill="#7a4a28" fill-opacity="0.7"/>
<circle cx="461.7" cy="580.5" r="0.8" fill="#7a4a28" fill-opacity="0.7"/>
<circle cx="466.1" cy="592.1" r="0.8" fill="#7a4a28" fill-opacity="0.7"/>
<circle cx="451.6" cy="582.0" r="0.8" fill="#7a4a28" fill-opacity="0.7"/>
<circle cx="473.5" cy="583.6" r="0.8" fill="#7a4a28" fill-opacity="0.7"/>
<circle cx="459.6" cy="586.3" r="0.8" fill="#7a4a28" fill-opacity="0.7"/>
<circle cx="459.2" cy="587.1" r="0.8" fill="#7a4a28" fill-opacity="0.7"/>
<circle cx="468.5" cy="591.8" r="0.8" fill="#7a4a28" fill-opacity="0.7"/>
<circle cx="484.7" cy="580.7" r="0.8" fill="#7a4a28" fill-opacity="0.7"/>
<circle cx="469.6" cy="589.6" r="0.8" fill="#7a4a28" fill-opacity="0.7"/>
<circle cx="480.5" cy="589.6" r="0.8" fill="#7a4a28" fill-opacity="0.7"/>
<circle cx="472.2" cy="587.9" r="0.8" fill="#7a4a28" fill-opacity="0.7"/>
<circle cx="462.7" cy="583.7" r="0.8" fill="#7a4a28" fill-opacity="0.7"/>
<circle cx="477.8" cy="590.8" r="0.8" fill="#7a4a28" fill-opacity="0.7"/>
<polyline points="439.0,576.8 443.3,574.9 447.6,573.3 451.9,572.0 456.1,571.1 460.4,570.5 464.7,570.2 469.0,570.3 473.3,570.7 477.6,571.4 481.9,572.4 486.1,573.8 490.4,575.5 494.7,577.5 499.0,579.9" fill="none" stroke="#fbfbf6" stroke-width="1.1"/>
</g>
<clipPath id="tc20"><rect x="508.0" y="554.3" width="58.0" height="58.700000000000045"/></clipPath><g clip-path="url(#tc20)">
<rect x="508.0" y="554.3" width="58.0" height="58.700000000000045" fill="#dde0e4"/>
<polygon points="507.0,575.6 511.3,574.4 515.6,573.4 519.9,572.6 524.1,572.0 528.4,571.5 532.7,571.3 537.0,571.3 541.3,571.5 545.6,571.8 549.9,572.4 554.1,573.2 558.4,574.1 562.7,575.3 567.0,576.6 568.0,615.0 506.0,615.0" fill="#cdd1dc"/>
<polygon points="507.0,586.8 511.3,584.6 515.6,582.8 519.9,581.2 524.1,580.0 528.4,579.1 532.7,578.5 537.0,578.3 541.3,578.4 545.6,578.8 549.9,579.6 554.1,580.6 558.4,582.0 562.7,583.8 567.0,585.8 568.0,615.0 506.0,615.0" fill="#7e6c98"/>
<polygon points="507.0,591.7 511.3,590.2 515.6,588.9 519.9,587.9 524.1,587.2 528.4,586.6 532.7,586.3 537.0,586.3 541.3,586.5 545.6,586.9 549.9,587.6 554.1,588.5 558.4,589.7 562.7,591.1 567.0,592.7 568.0,615.0 506.0,615.0" fill="#7a80b4"/>
<polygon points="507.0,600.7 511.3,599.2 515.6,598.1 519.9,597.2 524.1,596.6 528.4,596.2 532.7,596.1 537.0,596.3 541.3,596.7 545.6,597.4 549.9,598.4 554.1,599.6 558.4,601.1 562.7,602.8 567.0,604.8 568.0,615.0 506.0,615.0" fill="#dadce4"/>
<circle cx="562.4" cy="595.2" r="0.9" fill="#3a40a0" fill-opacity="0.7"/>
<circle cx="525.6" cy="596.5" r="0.9" fill="#3a40a0" fill-opacity="0.7"/>
<circle cx="550.9" cy="592.4" r="0.9" fill="#3a40a0" fill-opacity="0.7"/>
<circle cx="544.8" cy="589.9" r="0.9" fill="#3a40a0" fill-opacity="0.7"/>
<circle cx="539.9" cy="590.8" r="0.9" fill="#3a40a0" fill-opacity="0.7"/>
<circle cx="511.5" cy="589.7" r="0.9" fill="#3a40a0" fill-opacity="0.7"/>
<circle cx="526.7" cy="600.1" r="0.9" fill="#3a40a0" fill-opacity="0.7"/>
<circle cx="535.9" cy="590.2" r="0.9" fill="#3a40a0" fill-opacity="0.7"/>
<circle cx="522.1" cy="588.1" r="0.9" fill="#3a40a0" fill-opacity="0.7"/>
<circle cx="528.3" cy="586.5" r="0.9" fill="#3a40a0" fill-opacity="0.7"/>
<circle cx="508.4" cy="598.2" r="0.9" fill="#3a40a0" fill-opacity="0.7"/>
<circle cx="534.3" cy="591.4" r="0.9" fill="#3a40a0" fill-opacity="0.7"/>
<circle cx="541.0" cy="589.1" r="0.9" fill="#3a40a0" fill-opacity="0.7"/>
<circle cx="517.8" cy="585.4" r="0.9" fill="#3a40a0" fill-opacity="0.7"/>
<circle cx="525.5" cy="589.2" r="0.9" fill="#3a40a0" fill-opacity="0.7"/>
<circle cx="550.1" cy="593.1" r="0.9" fill="#3a40a0" fill-opacity="0.7"/>
<circle cx="562.4" cy="589.7" r="0.9" fill="#3a40a0" fill-opacity="0.7"/>
<circle cx="561.4" cy="593.6" r="0.9" fill="#3a40a0" fill-opacity="0.7"/>
<circle cx="512.6" cy="587.2" r="0.9" fill="#3a40a0" fill-opacity="0.7"/>
<circle cx="541.7" cy="600.1" r="0.9" fill="#3a40a0" fill-opacity="0.7"/>
<circle cx="528.7" cy="596.7" r="0.9" fill="#3a40a0" fill-opacity="0.7"/>
<circle cx="532.8" cy="598.2" r="0.9" fill="#3a40a0" fill-opacity="0.7"/>
<circle cx="511.9" cy="592.1" r="0.9" fill="#3a40a0" fill-opacity="0.7"/>
<circle cx="560.1" cy="588.7" r="0.9" fill="#3a40a0" fill-opacity="0.7"/>
<circle cx="522.9" cy="584.7" r="0.9" fill="#3a40a0" fill-opacity="0.7"/>
<circle cx="517.5" cy="588.6" r="0.9" fill="#3a40a0" fill-opacity="0.7"/>
<circle cx="548.9" cy="587.8" r="0.9" fill="#3a40a0" fill-opacity="0.7"/>
<circle cx="531.2" cy="587.5" r="0.9" fill="#3a40a0" fill-opacity="0.7"/>
<circle cx="543.0" cy="598.1" r="0.9" fill="#3a40a0" fill-opacity="0.7"/>
<circle cx="545.6" cy="587.4" r="0.9" fill="#3a40a0" fill-opacity="0.7"/>
<circle cx="550.6" cy="599.7" r="0.9" fill="#3a40a0" fill-opacity="0.7"/>
<circle cx="542.9" cy="585.6" r="0.9" fill="#3a40a0" fill-opacity="0.7"/>
<circle cx="554.9" cy="598.3" r="0.9" fill="#3a40a0" fill-opacity="0.7"/>
<circle cx="527.8" cy="586.5" r="0.9" fill="#3a40a0" fill-opacity="0.7"/>
<circle cx="518.9" cy="592.9" r="0.9" fill="#3a40a0" fill-opacity="0.7"/>
<circle cx="558.8" cy="594.5" r="0.9" fill="#3a40a0" fill-opacity="0.7"/>
<circle cx="561.5" cy="587.7" r="0.9" fill="#3a40a0" fill-opacity="0.7"/>
<circle cx="527.0" cy="596.3" r="0.9" fill="#3a40a0" fill-opacity="0.7"/>
<circle cx="545.6" cy="590.8" r="0.9" fill="#3a40a0" fill-opacity="0.7"/>
<circle cx="547.4" cy="589.7" r="0.9" fill="#3a40a0" fill-opacity="0.7"/>
<circle cx="511.3" cy="590.9" r="0.9" fill="#3a40a0" fill-opacity="0.7"/>
<circle cx="510.6" cy="594.3" r="0.9" fill="#3a40a0" fill-opacity="0.7"/>
<circle cx="527.4" cy="592.2" r="0.9" fill="#3a40a0" fill-opacity="0.7"/>
<circle cx="542.7" cy="588.4" r="0.9" fill="#3a40a0" fill-opacity="0.7"/>
<circle cx="534.9" cy="584.5" r="0.9" fill="#3a40a0" fill-opacity="0.7"/>
<circle cx="561.7" cy="587.1" r="0.8" fill="#7a4a28" fill-opacity="0.7"/>
<circle cx="565.3" cy="581.0" r="0.8" fill="#7a4a28" fill-opacity="0.7"/>
<circle cx="543.6" cy="589.0" r="0.8" fill="#7a4a28" fill-opacity="0.7"/>
<circle cx="527.1" cy="581.4" r="0.8" fill="#7a4a28" fill-opacity="0.7"/>
<circle cx="517.1" cy="582.0" r="0.8" fill="#7a4a28" fill-opacity="0.7"/>
<circle cx="552.5" cy="581.4" r="0.8" fill="#7a4a28" fill-opacity="0.7"/>
<circle cx="555.2" cy="585.4" r="0.8" fill="#7a4a28" fill-opacity="0.7"/>
<circle cx="539.2" cy="587.4" r="0.8" fill="#7a4a28" fill-opacity="0.7"/>
<circle cx="540.2" cy="588.2" r="0.8" fill="#7a4a28" fill-opacity="0.7"/>
<circle cx="542.9" cy="584.3" r="0.8" fill="#7a4a28" fill-opacity="0.7"/>
<circle cx="551.0" cy="583.4" r="0.8" fill="#7a4a28" fill-opacity="0.7"/>
<circle cx="549.3" cy="589.5" r="0.8" fill="#7a4a28" fill-opacity="0.7"/>
<circle cx="553.0" cy="584.0" r="0.8" fill="#7a4a28" fill-opacity="0.7"/>
<circle cx="552.8" cy="592.0" r="0.8" fill="#7a4a28" fill-opacity="0.7"/>
<circle cx="534.3" cy="603.6" r="0.8" fill="#7a4a28" fill-opacity="0.7"/>
<circle cx="538.4" cy="611.6" r="0.8" fill="#7a4a28" fill-opacity="0.7"/>
<circle cx="515.6" cy="600.4" r="0.8" fill="#7a4a28" fill-opacity="0.7"/>
<circle cx="535.6" cy="608.2" r="0.8" fill="#7a4a28" fill-opacity="0.7"/>
<circle cx="552.9" cy="604.6" r="0.8" fill="#7a4a28" fill-opacity="0.7"/>
<circle cx="565.4" cy="603.0" r="0.8" fill="#7a4a28" fill-opacity="0.7"/>
<polyline points="507.0,575.6 511.3,574.4 515.6,573.4 519.9,572.6 524.1,572.0 528.4,571.5 532.7,571.3 537.0,571.3 541.3,571.5 545.6,571.8 549.9,572.4 554.1,573.2 558.4,574.1 562.7,575.3 567.0,576.6" fill="none" stroke="#fbfbf6" stroke-width="1.1"/>
</g>
</svg>
</body></html>
